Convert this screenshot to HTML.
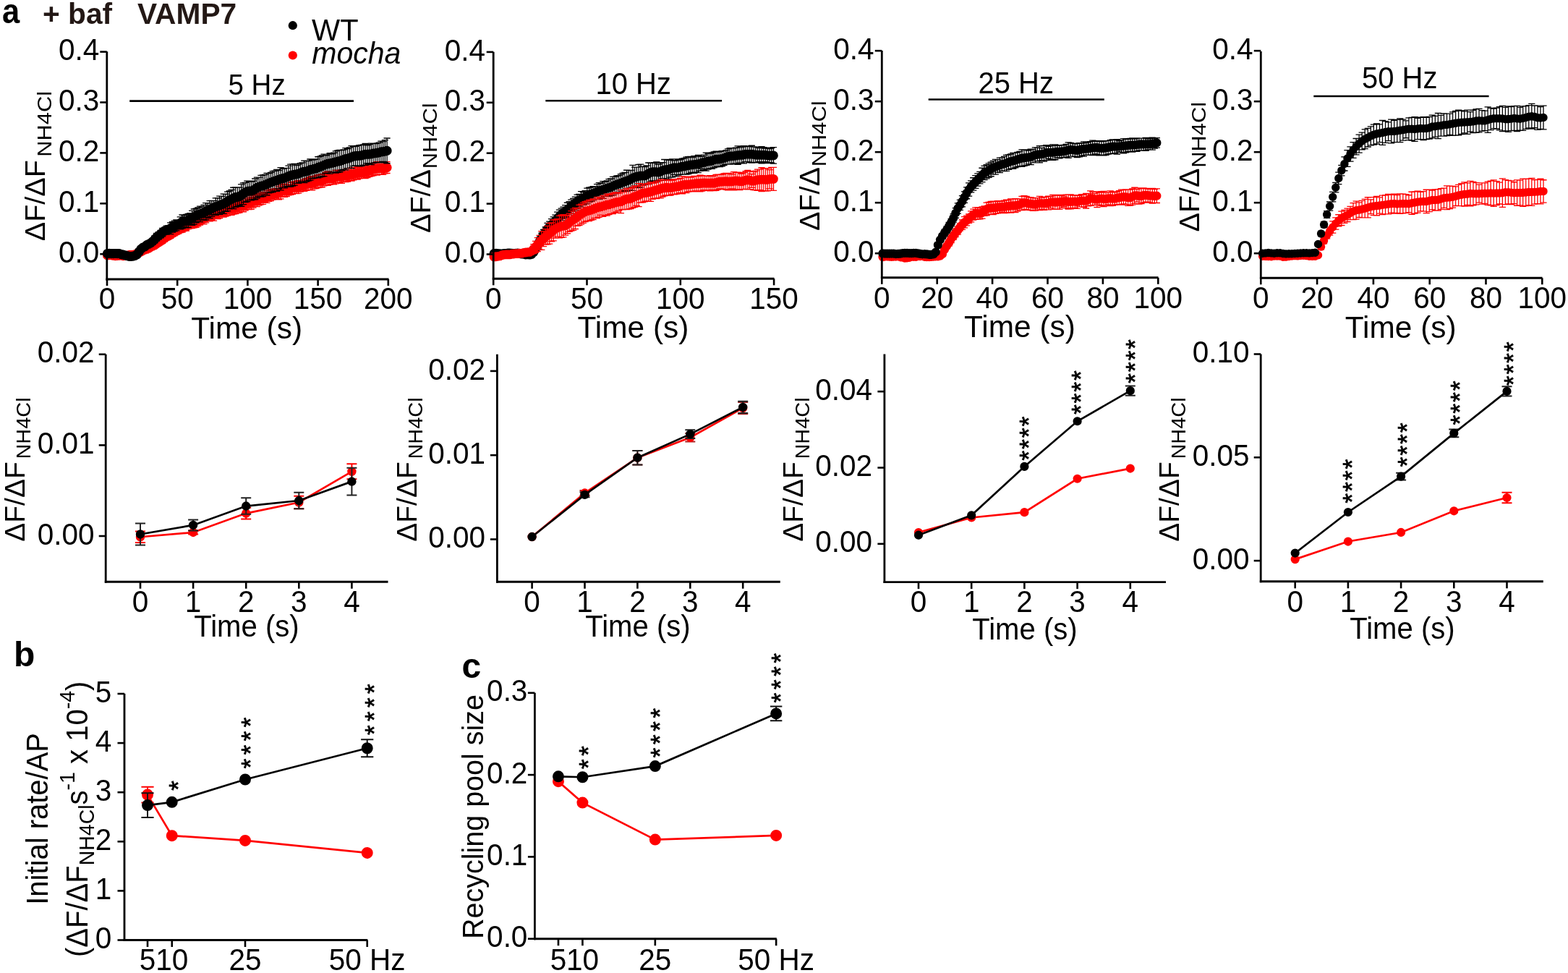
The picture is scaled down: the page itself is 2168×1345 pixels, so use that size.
<!DOCTYPE html>
<html><head><meta charset="utf-8"><title>Figure</title>
<style>html,body{margin:0;padding:0;background:#fff;overflow:hidden}svg{display:block}</style>
</head><body>
<svg width="2168" height="1345" viewBox="0 0 2168 1345"><rect width="2168" height="1345" fill="#fff"/><g font-family="'Liberation Sans', Arial, Helvetica, sans-serif" fill="#000"><text transform="matrix(1 0 0 1.1 3 32.4)" font-size="43.5" font-weight="bold">a</text><text transform="matrix(1 0 0 1.0 59 33)" font-size="40.7" font-weight="bold" fill="#231815">+ baf</text><text transform="matrix(1 0 0 1.0 190 33)" font-size="40.7" font-weight="bold" fill="#231815">VAMP7</text><circle cx="404.8" cy="35.2" r="6.1" fill="#000"/><circle cx="404.8" cy="76.5" r="6.1" fill="#f00"/><text transform="matrix(1 0 0 1.04 431 55.6)" font-size="41.5">WT</text><text transform="matrix(1 0 0 1.04 431.3 87.6)" font-size="41" font-style="italic">mocha</text><path d="M224.79 327.26V335.96M220.19 327.26h9.2M220.19 335.96h9.2M227.51 324.76V333.88M222.91 324.76h9.2M222.91 333.88h9.2M230.23 322.78V331.82M225.63 322.78h9.2M225.63 331.82h9.2M232.95 321.3V330.64M228.35 321.3h9.2M228.35 330.64h9.2M235.67 319.81V329.26M231.07 319.81h9.2M231.07 329.26h9.2M238.4 317.95V327.27M233.8 317.95h9.2M233.8 327.27h9.2M241.12 316V325.82M236.52 316h9.2M236.52 325.82h9.2M243.84 314.51V324.35M239.24 314.51h9.2M239.24 324.35h9.2M246.56 312.36V323.22M241.96 312.36h9.2M241.96 323.22h9.2M249.28 310.87V321.69M244.68 310.87h9.2M244.68 321.69h9.2M252 309.54V321.15M247.4 309.54h9.2M247.4 321.15h9.2M254.73 309.17V319.32M250.13 309.17h9.2M250.13 319.32h9.2M257.45 306.51V318.98M252.85 306.51h9.2M252.85 318.98h9.2M260.17 305.43V316.63M255.57 305.43h9.2M255.57 316.63h9.2M262.89 304.41V315.91M258.29 304.41h9.2M258.29 315.91h9.2M265.61 303.26V315.56M261.01 303.26h9.2M261.01 315.56h9.2M268.33 302.58V314.79M263.73 302.58h9.2M263.73 314.79h9.2M271.06 301V314.35M266.46 301h9.2M266.46 314.35h9.2M273.78 300.08V312.78M269.18 300.08h9.2M269.18 312.78h9.2M276.5 298.63V311.02M271.9 298.63h9.2M271.9 311.02h9.2M279.22 297.01V309.85M274.62 297.01h9.2M274.62 309.85h9.2M281.94 294.4V309.83M277.34 294.4h9.2M277.34 309.83h9.2M284.66 293.66V307.85M280.06 293.66h9.2M280.06 307.85h9.2M287.38 292.86V305.83M282.78 292.86h9.2M282.78 305.83h9.2M290.11 291.27V305.74M285.51 291.27h9.2M285.51 305.74h9.2M292.83 291V303.78M288.23 291h9.2M288.23 303.78h9.2M295.55 288.34V305.17M290.95 288.34h9.2M290.95 305.17h9.2M298.27 289.31V302.36M293.67 289.31h9.2M293.67 302.36h9.2M300.99 286.94V302.5M296.39 286.94h9.2M296.39 302.5h9.2M303.71 285.95V301.71M299.11 285.95h9.2M299.11 301.71h9.2M306.44 286.39V299.86M301.84 286.39h9.2M301.84 299.86h9.2M309.16 284.37V300.11M304.56 284.37h9.2M304.56 300.11h9.2M311.88 282.4V299.15M307.28 282.4h9.2M307.28 299.15h9.2M314.6 281.94V298.2M310 281.94h9.2M310 298.2h9.2M317.32 281.25V297.42M312.72 281.25h9.2M312.72 297.42h9.2M320.04 280.04V297.27M315.44 280.04h9.2M315.44 297.27h9.2M322.77 279.81V296.2M318.17 279.81h9.2M318.17 296.2h9.2M325.49 278.83V295.62M320.89 278.83h9.2M320.89 295.62h9.2M328.21 278.32V294.64M323.61 278.32h9.2M323.61 294.64h9.2M330.93 276.72V294.17M326.33 276.72h9.2M326.33 294.17h9.2M333.65 277.17V292.62M329.05 277.17h9.2M329.05 292.62h9.2M336.37 274.95V292.77M331.77 274.95h9.2M331.77 292.77h9.2M339.1 274.77V290.87M334.5 274.77h9.2M334.5 290.87h9.2M341.82 274.18V289.49M337.22 274.18h9.2M337.22 289.49h9.2M344.54 272.39V289.65M339.94 272.39h9.2M339.94 289.65h9.2M347.26 270.23V289.27M342.66 270.23h9.2M342.66 289.27h9.2M349.98 269.1V287.17M345.38 269.1h9.2M345.38 287.17h9.2M352.7 269.51V285.59M348.1 269.51h9.2M348.1 285.59h9.2M355.42 267.97V285.68M350.82 267.97h9.2M350.82 285.68h9.2M358.15 267.77V283.94M353.55 267.77h9.2M353.55 283.94h9.2M360.87 266.13V282.74M356.27 266.13h9.2M356.27 282.74h9.2M363.59 265.44V282.34M358.99 265.44h9.2M358.99 282.34h9.2M366.31 265.91V279.57M361.71 265.91h9.2M361.71 279.57h9.2M369.03 263.35V280.38M364.43 263.35h9.2M364.43 280.38h9.2M371.75 263.05V278.44M367.15 263.05h9.2M367.15 278.44h9.2M374.48 261.75V277.59M369.88 261.75h9.2M369.88 277.59h9.2M377.2 261.4V276.2M372.6 261.4h9.2M372.6 276.2h9.2M379.92 261.01V275.76M375.32 261.01h9.2M375.32 275.76h9.2M382.64 260.32V275.83M378.04 260.32h9.2M378.04 275.83h9.2M385.36 257.9V275.78M380.76 257.9h9.2M380.76 275.78h9.2M388.08 255.91V274.92M383.48 255.91h9.2M383.48 274.92h9.2M390.81 255.27V272.01M386.21 255.27h9.2M386.21 272.01h9.2M393.53 254.16V272.4M388.93 254.16h9.2M388.93 272.4h9.2M396.25 255.09V271.51M391.65 255.09h9.2M391.65 271.51h9.2M398.97 255.61V269.82M394.37 255.61h9.2M394.37 269.82h9.2M401.69 252.46V269.44M397.09 252.46h9.2M397.09 269.44h9.2M404.41 251.12V268.49M399.81 251.12h9.2M399.81 268.49h9.2M407.14 251.35V267.55M402.54 251.35h9.2M402.54 267.55h9.2M409.86 250.47V267.65M405.26 250.47h9.2M405.26 267.65h9.2M412.58 249.51V267.05M407.98 249.51h9.2M407.98 267.05h9.2M415.3 249.57V265.18M410.7 249.57h9.2M410.7 265.18h9.2M418.02 249.47V264.26M413.42 249.47h9.2M413.42 264.26h9.2M420.74 247.79V264.27M416.14 247.79h9.2M416.14 264.27h9.2M423.46 246.8V263.29M418.86 246.8h9.2M418.86 263.29h9.2M426.19 245.99V262.3M421.59 245.99h9.2M421.59 262.3h9.2M428.91 244.55V262.66M424.31 244.55h9.2M424.31 262.66h9.2M431.63 243.76V262.85M427.03 243.76h9.2M427.03 262.85h9.2M434.35 244.68V260.9M429.75 244.68h9.2M429.75 260.9h9.2M437.07 242.82V260.53M432.47 242.82h9.2M432.47 260.53h9.2M439.79 241.56V259.59M435.19 241.56h9.2M435.19 259.59h9.2M442.52 241.39V259.13M437.92 241.39h9.2M437.92 259.13h9.2M445.24 240.58V258.77M440.64 240.58h9.2M440.64 258.77h9.2M447.96 240.49V256.74M443.36 240.49h9.2M443.36 256.74h9.2M450.68 238.27V256.04M446.08 238.27h9.2M446.08 256.04h9.2M453.4 236.98V256.47M448.8 236.98h9.2M448.8 256.47h9.2M456.12 237.62V255.47M451.52 237.62h9.2M451.52 255.47h9.2M458.85 238.92V254.87M454.25 238.92h9.2M454.25 254.87h9.2M461.57 237.3V254.89M456.97 237.3h9.2M456.97 254.89h9.2M464.29 235.32V253.79M459.69 235.32h9.2M459.69 253.79h9.2M467.01 235.13V252.4M462.41 235.13h9.2M462.41 252.4h9.2M469.73 236.02V252.04M465.13 236.02h9.2M465.13 252.04h9.2M472.45 234.59V253.44M467.85 234.59h9.2M467.85 253.44h9.2M475.18 235.87V250.97M470.58 235.87h9.2M470.58 250.97h9.2M477.9 234.22V251.67M473.3 234.22h9.2M473.3 251.67h9.2M480.62 234.27V251.02M476.02 234.27h9.2M476.02 251.02h9.2M483.34 234.31V249.48M478.74 234.31h9.2M478.74 249.48h9.2M486.06 231.79V250.2M481.46 231.79h9.2M481.46 250.2h9.2M488.78 231.68V248.92M484.18 231.68h9.2M484.18 248.92h9.2M491.5 232.06V247.27M486.9 232.06h9.2M486.9 247.27h9.2M494.23 230.61V248.19M489.63 230.61h9.2M489.63 248.19h9.2M496.95 230.74V246.94M492.35 230.74h9.2M492.35 246.94h9.2M499.67 231.83V246.05M495.07 231.83h9.2M495.07 246.05h9.2M502.39 230.85V246.7M497.79 230.85h9.2M497.79 246.7h9.2M505.11 229.41V246.54M500.51 229.41h9.2M500.51 246.54h9.2M507.83 227.95V245.58M503.23 227.95h9.2M503.23 245.58h9.2M510.56 227.26V244.26M505.96 227.26h9.2M505.96 244.26h9.2M513.28 226.71V243.55M508.68 226.71h9.2M508.68 243.55h9.2M516 225.38V242.78M511.4 225.38h9.2M511.4 242.78h9.2M518.72 225.17V241.66M514.12 225.17h9.2M514.12 241.66h9.2M521.44 223.64V241.99M516.84 223.64h9.2M516.84 241.99h9.2M524.16 224.16V241.14M519.56 224.16h9.2M519.56 241.14h9.2M526.89 224.04V241.21M522.29 224.04h9.2M522.29 241.21h9.2M529.61 223.88V241.38M525.01 223.88h9.2M525.01 241.38h9.2M532.33 224.58V239.94M527.73 224.58h9.2M527.73 239.94h9.2M535.05 223.69V239.52M530.45 223.69h9.2M530.45 239.52h9.2" stroke="#f00" stroke-width="1.3" fill="none"/><path d="M141.98 352.94a6.6 6.6 0 1 0 13.2 0a6.6 6.6 0 1 0 -13.2 0M144.7 352.52a6.6 6.6 0 1 0 13.2 0a6.6 6.6 0 1 0 -13.2 0M147.43 352.67a6.6 6.6 0 1 0 13.2 0a6.6 6.6 0 1 0 -13.2 0M150.15 353.24a6.6 6.6 0 1 0 13.2 0a6.6 6.6 0 1 0 -13.2 0M152.87 353.66a6.6 6.6 0 1 0 13.2 0a6.6 6.6 0 1 0 -13.2 0M155.59 353.41a6.6 6.6 0 1 0 13.2 0a6.6 6.6 0 1 0 -13.2 0M158.31 353.25a6.6 6.6 0 1 0 13.2 0a6.6 6.6 0 1 0 -13.2 0M161.03 352.98a6.6 6.6 0 1 0 13.2 0a6.6 6.6 0 1 0 -13.2 0M163.76 353.53a6.6 6.6 0 1 0 13.2 0a6.6 6.6 0 1 0 -13.2 0M166.48 353.33a6.6 6.6 0 1 0 13.2 0a6.6 6.6 0 1 0 -13.2 0M169.2 353.25a6.6 6.6 0 1 0 13.2 0a6.6 6.6 0 1 0 -13.2 0M171.92 352.6a6.6 6.6 0 1 0 13.2 0a6.6 6.6 0 1 0 -13.2 0M174.64 352.66a6.6 6.6 0 1 0 13.2 0a6.6 6.6 0 1 0 -13.2 0M177.36 352.42a6.6 6.6 0 1 0 13.2 0a6.6 6.6 0 1 0 -13.2 0M180.09 351.88a6.6 6.6 0 1 0 13.2 0a6.6 6.6 0 1 0 -13.2 0M182.81 350.72a6.6 6.6 0 1 0 13.2 0a6.6 6.6 0 1 0 -13.2 0M185.53 349.3a6.6 6.6 0 1 0 13.2 0a6.6 6.6 0 1 0 -13.2 0M188.25 347.9a6.6 6.6 0 1 0 13.2 0a6.6 6.6 0 1 0 -13.2 0M190.97 346.43a6.6 6.6 0 1 0 13.2 0a6.6 6.6 0 1 0 -13.2 0M193.69 345.15a6.6 6.6 0 1 0 13.2 0a6.6 6.6 0 1 0 -13.2 0M196.42 344.27a6.6 6.6 0 1 0 13.2 0a6.6 6.6 0 1 0 -13.2 0M199.14 343.03a6.6 6.6 0 1 0 13.2 0a6.6 6.6 0 1 0 -13.2 0M201.86 341.4a6.6 6.6 0 1 0 13.2 0a6.6 6.6 0 1 0 -13.2 0M204.58 340.07a6.6 6.6 0 1 0 13.2 0a6.6 6.6 0 1 0 -13.2 0M207.3 338.83a6.6 6.6 0 1 0 13.2 0a6.6 6.6 0 1 0 -13.2 0M210.02 336.95a6.6 6.6 0 1 0 13.2 0a6.6 6.6 0 1 0 -13.2 0M212.74 334.96a6.6 6.6 0 1 0 13.2 0a6.6 6.6 0 1 0 -13.2 0M215.47 333.42a6.6 6.6 0 1 0 13.2 0a6.6 6.6 0 1 0 -13.2 0M218.19 331.61a6.6 6.6 0 1 0 13.2 0a6.6 6.6 0 1 0 -13.2 0M220.91 329.32a6.6 6.6 0 1 0 13.2 0a6.6 6.6 0 1 0 -13.2 0M223.63 327.3a6.6 6.6 0 1 0 13.2 0a6.6 6.6 0 1 0 -13.2 0M226.35 325.97a6.6 6.6 0 1 0 13.2 0a6.6 6.6 0 1 0 -13.2 0M229.07 324.53a6.6 6.6 0 1 0 13.2 0a6.6 6.6 0 1 0 -13.2 0M231.8 322.61a6.6 6.6 0 1 0 13.2 0a6.6 6.6 0 1 0 -13.2 0M234.52 320.91a6.6 6.6 0 1 0 13.2 0a6.6 6.6 0 1 0 -13.2 0M237.24 319.43a6.6 6.6 0 1 0 13.2 0a6.6 6.6 0 1 0 -13.2 0M239.96 317.79a6.6 6.6 0 1 0 13.2 0a6.6 6.6 0 1 0 -13.2 0M242.68 316.28a6.6 6.6 0 1 0 13.2 0a6.6 6.6 0 1 0 -13.2 0M245.4 315.34a6.6 6.6 0 1 0 13.2 0a6.6 6.6 0 1 0 -13.2 0M248.13 314.24a6.6 6.6 0 1 0 13.2 0a6.6 6.6 0 1 0 -13.2 0M250.85 312.75a6.6 6.6 0 1 0 13.2 0a6.6 6.6 0 1 0 -13.2 0M253.57 311.03a6.6 6.6 0 1 0 13.2 0a6.6 6.6 0 1 0 -13.2 0M256.29 310.16a6.6 6.6 0 1 0 13.2 0a6.6 6.6 0 1 0 -13.2 0M259.01 309.41a6.6 6.6 0 1 0 13.2 0a6.6 6.6 0 1 0 -13.2 0M261.73 308.69a6.6 6.6 0 1 0 13.2 0a6.6 6.6 0 1 0 -13.2 0M264.46 307.68a6.6 6.6 0 1 0 13.2 0a6.6 6.6 0 1 0 -13.2 0M267.18 306.43a6.6 6.6 0 1 0 13.2 0a6.6 6.6 0 1 0 -13.2 0M269.9 304.82a6.6 6.6 0 1 0 13.2 0a6.6 6.6 0 1 0 -13.2 0M272.62 303.43a6.6 6.6 0 1 0 13.2 0a6.6 6.6 0 1 0 -13.2 0M275.34 302.12a6.6 6.6 0 1 0 13.2 0a6.6 6.6 0 1 0 -13.2 0M278.06 300.75a6.6 6.6 0 1 0 13.2 0a6.6 6.6 0 1 0 -13.2 0M280.78 299.35a6.6 6.6 0 1 0 13.2 0a6.6 6.6 0 1 0 -13.2 0M283.51 298.5a6.6 6.6 0 1 0 13.2 0a6.6 6.6 0 1 0 -13.2 0M286.23 297.39a6.6 6.6 0 1 0 13.2 0a6.6 6.6 0 1 0 -13.2 0M288.95 296.76a6.6 6.6 0 1 0 13.2 0a6.6 6.6 0 1 0 -13.2 0M291.67 295.83a6.6 6.6 0 1 0 13.2 0a6.6 6.6 0 1 0 -13.2 0M294.39 294.72a6.6 6.6 0 1 0 13.2 0a6.6 6.6 0 1 0 -13.2 0M297.11 293.83a6.6 6.6 0 1 0 13.2 0a6.6 6.6 0 1 0 -13.2 0M299.84 293.13a6.6 6.6 0 1 0 13.2 0a6.6 6.6 0 1 0 -13.2 0M302.56 292.24a6.6 6.6 0 1 0 13.2 0a6.6 6.6 0 1 0 -13.2 0M305.28 290.78a6.6 6.6 0 1 0 13.2 0a6.6 6.6 0 1 0 -13.2 0M308 290.07a6.6 6.6 0 1 0 13.2 0a6.6 6.6 0 1 0 -13.2 0M310.72 289.33a6.6 6.6 0 1 0 13.2 0a6.6 6.6 0 1 0 -13.2 0M313.44 288.66a6.6 6.6 0 1 0 13.2 0a6.6 6.6 0 1 0 -13.2 0M316.17 288a6.6 6.6 0 1 0 13.2 0a6.6 6.6 0 1 0 -13.2 0M318.89 287.22a6.6 6.6 0 1 0 13.2 0a6.6 6.6 0 1 0 -13.2 0M321.61 286.48a6.6 6.6 0 1 0 13.2 0a6.6 6.6 0 1 0 -13.2 0M324.33 285.44a6.6 6.6 0 1 0 13.2 0a6.6 6.6 0 1 0 -13.2 0M327.05 284.89a6.6 6.6 0 1 0 13.2 0a6.6 6.6 0 1 0 -13.2 0M329.77 283.86a6.6 6.6 0 1 0 13.2 0a6.6 6.6 0 1 0 -13.2 0M332.5 282.82a6.6 6.6 0 1 0 13.2 0a6.6 6.6 0 1 0 -13.2 0M335.22 281.83a6.6 6.6 0 1 0 13.2 0a6.6 6.6 0 1 0 -13.2 0M337.94 281.02a6.6 6.6 0 1 0 13.2 0a6.6 6.6 0 1 0 -13.2 0M340.66 279.75a6.6 6.6 0 1 0 13.2 0a6.6 6.6 0 1 0 -13.2 0M343.38 278.13a6.6 6.6 0 1 0 13.2 0a6.6 6.6 0 1 0 -13.2 0M346.1 277.55a6.6 6.6 0 1 0 13.2 0a6.6 6.6 0 1 0 -13.2 0M348.82 276.83a6.6 6.6 0 1 0 13.2 0a6.6 6.6 0 1 0 -13.2 0M351.55 275.85a6.6 6.6 0 1 0 13.2 0a6.6 6.6 0 1 0 -13.2 0M354.27 274.43a6.6 6.6 0 1 0 13.2 0a6.6 6.6 0 1 0 -13.2 0M356.99 273.89a6.6 6.6 0 1 0 13.2 0a6.6 6.6 0 1 0 -13.2 0M359.71 272.74a6.6 6.6 0 1 0 13.2 0a6.6 6.6 0 1 0 -13.2 0M362.43 271.87a6.6 6.6 0 1 0 13.2 0a6.6 6.6 0 1 0 -13.2 0M365.15 270.75a6.6 6.6 0 1 0 13.2 0a6.6 6.6 0 1 0 -13.2 0M367.88 269.67a6.6 6.6 0 1 0 13.2 0a6.6 6.6 0 1 0 -13.2 0M370.6 268.8a6.6 6.6 0 1 0 13.2 0a6.6 6.6 0 1 0 -13.2 0M373.32 268.38a6.6 6.6 0 1 0 13.2 0a6.6 6.6 0 1 0 -13.2 0M376.04 268.07a6.6 6.6 0 1 0 13.2 0a6.6 6.6 0 1 0 -13.2 0M378.76 266.84a6.6 6.6 0 1 0 13.2 0a6.6 6.6 0 1 0 -13.2 0M381.48 265.41a6.6 6.6 0 1 0 13.2 0a6.6 6.6 0 1 0 -13.2 0M384.21 263.64a6.6 6.6 0 1 0 13.2 0a6.6 6.6 0 1 0 -13.2 0M386.93 263.28a6.6 6.6 0 1 0 13.2 0a6.6 6.6 0 1 0 -13.2 0M389.65 263.3a6.6 6.6 0 1 0 13.2 0a6.6 6.6 0 1 0 -13.2 0M392.37 262.72a6.6 6.6 0 1 0 13.2 0a6.6 6.6 0 1 0 -13.2 0M395.09 260.95a6.6 6.6 0 1 0 13.2 0a6.6 6.6 0 1 0 -13.2 0M397.81 259.81a6.6 6.6 0 1 0 13.2 0a6.6 6.6 0 1 0 -13.2 0M400.54 259.45a6.6 6.6 0 1 0 13.2 0a6.6 6.6 0 1 0 -13.2 0M403.26 259.06a6.6 6.6 0 1 0 13.2 0a6.6 6.6 0 1 0 -13.2 0M405.98 258.28a6.6 6.6 0 1 0 13.2 0a6.6 6.6 0 1 0 -13.2 0M408.7 257.37a6.6 6.6 0 1 0 13.2 0a6.6 6.6 0 1 0 -13.2 0M411.42 256.86a6.6 6.6 0 1 0 13.2 0a6.6 6.6 0 1 0 -13.2 0M414.14 256.03a6.6 6.6 0 1 0 13.2 0a6.6 6.6 0 1 0 -13.2 0M416.86 255.05a6.6 6.6 0 1 0 13.2 0a6.6 6.6 0 1 0 -13.2 0M419.59 254.15a6.6 6.6 0 1 0 13.2 0a6.6 6.6 0 1 0 -13.2 0M422.31 253.6a6.6 6.6 0 1 0 13.2 0a6.6 6.6 0 1 0 -13.2 0M425.03 253.31a6.6 6.6 0 1 0 13.2 0a6.6 6.6 0 1 0 -13.2 0M427.75 252.79a6.6 6.6 0 1 0 13.2 0a6.6 6.6 0 1 0 -13.2 0M430.47 251.67a6.6 6.6 0 1 0 13.2 0a6.6 6.6 0 1 0 -13.2 0M433.19 250.57a6.6 6.6 0 1 0 13.2 0a6.6 6.6 0 1 0 -13.2 0M435.92 250.26a6.6 6.6 0 1 0 13.2 0a6.6 6.6 0 1 0 -13.2 0M438.64 249.68a6.6 6.6 0 1 0 13.2 0a6.6 6.6 0 1 0 -13.2 0M441.36 248.62a6.6 6.6 0 1 0 13.2 0a6.6 6.6 0 1 0 -13.2 0M444.08 247.16a6.6 6.6 0 1 0 13.2 0a6.6 6.6 0 1 0 -13.2 0M446.8 246.73a6.6 6.6 0 1 0 13.2 0a6.6 6.6 0 1 0 -13.2 0M449.52 246.54a6.6 6.6 0 1 0 13.2 0a6.6 6.6 0 1 0 -13.2 0M452.25 246.89a6.6 6.6 0 1 0 13.2 0a6.6 6.6 0 1 0 -13.2 0M454.97 246.09a6.6 6.6 0 1 0 13.2 0a6.6 6.6 0 1 0 -13.2 0M457.69 244.55a6.6 6.6 0 1 0 13.2 0a6.6 6.6 0 1 0 -13.2 0M460.41 243.76a6.6 6.6 0 1 0 13.2 0a6.6 6.6 0 1 0 -13.2 0M463.13 244.03a6.6 6.6 0 1 0 13.2 0a6.6 6.6 0 1 0 -13.2 0M465.85 244.01a6.6 6.6 0 1 0 13.2 0a6.6 6.6 0 1 0 -13.2 0M468.58 243.42a6.6 6.6 0 1 0 13.2 0a6.6 6.6 0 1 0 -13.2 0M471.3 242.95a6.6 6.6 0 1 0 13.2 0a6.6 6.6 0 1 0 -13.2 0M474.02 242.65a6.6 6.6 0 1 0 13.2 0a6.6 6.6 0 1 0 -13.2 0M476.74 241.89a6.6 6.6 0 1 0 13.2 0a6.6 6.6 0 1 0 -13.2 0M479.46 240.99a6.6 6.6 0 1 0 13.2 0a6.6 6.6 0 1 0 -13.2 0M482.18 240.3a6.6 6.6 0 1 0 13.2 0a6.6 6.6 0 1 0 -13.2 0M484.9 239.66a6.6 6.6 0 1 0 13.2 0a6.6 6.6 0 1 0 -13.2 0M487.63 239.4a6.6 6.6 0 1 0 13.2 0a6.6 6.6 0 1 0 -13.2 0M490.35 238.84a6.6 6.6 0 1 0 13.2 0a6.6 6.6 0 1 0 -13.2 0M493.07 238.94a6.6 6.6 0 1 0 13.2 0a6.6 6.6 0 1 0 -13.2 0M495.79 238.78a6.6 6.6 0 1 0 13.2 0a6.6 6.6 0 1 0 -13.2 0M498.51 237.97a6.6 6.6 0 1 0 13.2 0a6.6 6.6 0 1 0 -13.2 0M501.23 236.77a6.6 6.6 0 1 0 13.2 0a6.6 6.6 0 1 0 -13.2 0M503.96 235.76a6.6 6.6 0 1 0 13.2 0a6.6 6.6 0 1 0 -13.2 0M506.68 235.13a6.6 6.6 0 1 0 13.2 0a6.6 6.6 0 1 0 -13.2 0M509.4 234.08a6.6 6.6 0 1 0 13.2 0a6.6 6.6 0 1 0 -13.2 0M512.12 233.42a6.6 6.6 0 1 0 13.2 0a6.6 6.6 0 1 0 -13.2 0M514.84 232.81a6.6 6.6 0 1 0 13.2 0a6.6 6.6 0 1 0 -13.2 0M517.56 232.65a6.6 6.6 0 1 0 13.2 0a6.6 6.6 0 1 0 -13.2 0M520.29 232.62a6.6 6.6 0 1 0 13.2 0a6.6 6.6 0 1 0 -13.2 0M523.01 232.63a6.6 6.6 0 1 0 13.2 0a6.6 6.6 0 1 0 -13.2 0M525.73 232.26a6.6 6.6 0 1 0 13.2 0a6.6 6.6 0 1 0 -13.2 0M528.45 231.61a6.6 6.6 0 1 0 13.2 0a6.6 6.6 0 1 0 -13.2 0" fill="#f00"/><path d="M205.74 333.22V341.45M201.14 333.22h9.2M201.14 341.45h9.2M208.46 331.88V339.83M203.86 331.88h9.2M203.86 339.83h9.2M211.18 329.54V337.85M206.58 329.54h9.2M206.58 337.85h9.2M213.9 326.02V335.73M209.3 326.02h9.2M209.3 335.73h9.2M216.62 322.52V333.21M212.02 322.52h9.2M212.02 333.21h9.2M219.34 320.61V330.75M214.74 320.61h9.2M214.74 330.75h9.2M222.07 318.43V328.74M217.47 318.43h9.2M217.47 328.74h9.2M224.79 315.42V326.92M220.19 315.42h9.2M220.19 326.92h9.2M227.51 314.32V324.11M222.91 314.32h9.2M222.91 324.11h9.2M230.23 312.15V324.21M225.63 312.15h9.2M225.63 324.21h9.2M232.95 311.62V323.2M228.35 311.62h9.2M228.35 323.2h9.2M235.67 307.83V323.61M231.07 307.83h9.2M231.07 323.61h9.2M238.4 306.59V321.22M233.8 306.59h9.2M233.8 321.22h9.2M241.12 305.16V319.76M236.52 305.16h9.2M236.52 319.76h9.2M243.84 304.02V318.8M239.24 304.02h9.2M239.24 318.8h9.2M246.56 304.14V316.59M241.96 304.14h9.2M241.96 316.59h9.2M249.28 299.86V316.89M244.68 299.86h9.2M244.68 316.89h9.2M252 296.99V315.76M247.4 296.99h9.2M247.4 315.76h9.2M254.73 297.9V313.97M250.13 297.9h9.2M250.13 313.97h9.2M257.45 296.47V314.92M252.85 296.47h9.2M252.85 314.92h9.2M260.17 295.29V314.24M255.57 295.29h9.2M255.57 314.24h9.2M262.89 294.72V310.75M258.29 294.72h9.2M258.29 310.75h9.2M265.61 291.36V311.44M261.01 291.36h9.2M261.01 311.44h9.2M268.33 288.99V310.11M263.73 288.99h9.2M263.73 310.11h9.2M271.06 288.2V307.97M266.46 288.2h9.2M266.46 307.97h9.2M273.78 286.84V306.53M269.18 286.84h9.2M269.18 306.53h9.2M276.5 285.19V306.62M271.9 285.19h9.2M271.9 306.62h9.2M279.22 285.96V303.97M274.62 285.96h9.2M274.62 303.97h9.2M281.94 283.31V304.4M277.34 283.31h9.2M277.34 304.4h9.2M284.66 280.67V303.83M280.06 280.67h9.2M280.06 303.83h9.2M287.38 280.9V300.52M282.78 280.9h9.2M282.78 300.52h9.2M290.11 277.61V301.62M285.51 277.61h9.2M285.51 301.62h9.2M292.83 277.39V299.31M288.23 277.39h9.2M288.23 299.31h9.2M295.55 277.31V296.59M290.95 277.31h9.2M290.95 296.59h9.2M298.27 273.93V297.31M293.67 273.93h9.2M293.67 297.31h9.2M300.99 273.75V295.89M296.39 273.75h9.2M296.39 295.89h9.2M303.71 271.22V296.26M299.11 271.22h9.2M299.11 296.26h9.2M306.44 271.3V293.77M301.84 271.3h9.2M301.84 293.77h9.2M309.16 268.12V295.38M304.56 268.12h9.2M304.56 295.38h9.2M311.88 268.27V292.24M307.28 268.27h9.2M307.28 292.24h9.2M314.6 265.08V291.64M310 265.08h9.2M310 291.64h9.2M317.32 264.02V288.95M312.72 264.02h9.2M312.72 288.95h9.2M320.04 262.37V288.21M315.44 262.37h9.2M315.44 288.21h9.2M322.77 259.26V288.68M318.17 259.26h9.2M318.17 288.68h9.2M325.49 258.82V286.46M320.89 258.82h9.2M320.89 286.46h9.2M328.21 259.01V285.59M323.61 259.01h9.2M323.61 285.59h9.2M330.93 259.04V283.93M326.33 259.04h9.2M326.33 283.93h9.2M333.65 254.83V285.25M329.05 254.83h9.2M329.05 285.25h9.2M336.37 252.95V282.53M331.77 252.95h9.2M331.77 282.53h9.2M339.1 252.31V279.54M334.5 252.31h9.2M334.5 279.54h9.2M341.82 250.22V278.73M337.22 250.22h9.2M337.22 278.73h9.2M344.54 251.17V276.82M339.94 251.17h9.2M339.94 276.82h9.2M347.26 251.17V276.86M342.66 251.17h9.2M342.66 276.86h9.2M349.98 250.05V276.17M345.38 250.05h9.2M345.38 276.17h9.2M352.7 247V275.76M348.1 247h9.2M348.1 275.76h9.2M355.42 245.13V273.75M350.82 245.13h9.2M350.82 273.75h9.2M358.15 245.22V271.52M353.55 245.22h9.2M353.55 271.52h9.2M360.87 242.46V272.07M356.27 242.46h9.2M356.27 272.07h9.2M363.59 241.88V271.6M358.99 241.88h9.2M358.99 271.6h9.2M366.31 241.47V269.82M361.71 241.47h9.2M361.71 269.82h9.2M369.03 239.46V269.74M364.43 239.46h9.2M364.43 269.74h9.2M371.75 239.53V266.85M367.15 239.53h9.2M367.15 266.85h9.2M374.48 238.28V265.99M369.88 238.28h9.2M369.88 265.99h9.2M377.2 236.57V265.59M372.6 236.57h9.2M372.6 265.59h9.2M379.92 236.25V264.14M375.32 236.25h9.2M375.32 264.14h9.2M382.64 234.49V264.23M378.04 234.49h9.2M378.04 264.23h9.2M385.36 235.68V260.84M380.76 235.68h9.2M380.76 260.84h9.2M388.08 231.68V262.83M383.48 231.68h9.2M383.48 262.83h9.2M390.81 233.42V259.63M386.21 233.42h9.2M386.21 259.63h9.2M393.53 232.28V259.87M388.93 232.28h9.2M388.93 259.87h9.2M396.25 232.45V257.33M391.65 232.45h9.2M391.65 257.33h9.2M398.97 229.06V258.36M394.37 229.06h9.2M394.37 258.36h9.2M401.69 227.18V257.99M397.09 227.18h9.2M397.09 257.99h9.2M404.41 226.78V257.14M399.81 226.78h9.2M399.81 257.14h9.2M407.14 226.36V256.18M402.54 226.36h9.2M402.54 256.18h9.2M409.86 228.69V253.17M405.26 228.69h9.2M405.26 253.17h9.2M412.58 227.07V253.28M407.98 227.07h9.2M407.98 253.28h9.2M415.3 225.59V252.51M410.7 225.59h9.2M410.7 252.51h9.2M418.02 224.92V250.79M413.42 224.92h9.2M413.42 250.79h9.2M420.74 222.1V252.57M416.14 222.1h9.2M416.14 252.57h9.2M423.46 222.69V251.06M418.86 222.69h9.2M418.86 251.06h9.2M426.19 222.2V250.11M421.59 222.2h9.2M421.59 250.11h9.2M428.91 220.02V249.07M424.31 220.02h9.2M424.31 249.07h9.2M431.63 221.08V246.92M427.03 221.08h9.2M427.03 246.92h9.2M434.35 220.38V246.31M429.75 220.38h9.2M429.75 246.31h9.2M437.07 219.79V245.78M432.47 219.79h9.2M432.47 245.78h9.2M439.79 216.76V245.83M435.19 216.76h9.2M435.19 245.83h9.2M442.52 216.22V244.95M437.92 216.22h9.2M437.92 244.95h9.2M445.24 214.95V244.2M440.64 214.95h9.2M440.64 244.2h9.2M447.96 213.17V243.55M443.36 213.17h9.2M443.36 243.55h9.2M450.68 214.74V239.66M446.08 214.74h9.2M446.08 239.66h9.2M453.4 213.09V239.8M448.8 213.09h9.2M448.8 239.8h9.2M456.12 211.77V240.06M451.52 211.77h9.2M451.52 240.06h9.2M458.85 212.92V237.86M454.25 212.92h9.2M454.25 237.86h9.2M461.57 211.27V238.04M456.97 211.27h9.2M456.97 238.04h9.2M464.29 208.78V239.01M459.69 208.78h9.2M459.69 239.01h9.2M467.01 207.96V238.39M462.41 207.96h9.2M462.41 238.39h9.2M469.73 207.39V237.76M465.13 207.39h9.2M465.13 237.76h9.2M472.45 207.69V235.75M467.85 207.69h9.2M467.85 235.75h9.2M475.18 206.82V234.31M470.58 206.82h9.2M470.58 234.31h9.2M477.9 204.53V234.91M473.3 204.53h9.2M473.3 234.91h9.2M480.62 205.55V232.68M476.02 205.55h9.2M476.02 232.68h9.2M483.34 203.9V232.61M478.74 203.9h9.2M478.74 232.61h9.2M486.06 201.67V232.59M481.46 201.67h9.2M481.46 232.59h9.2M488.78 202.48V229.62M484.18 202.48h9.2M484.18 229.62h9.2M491.5 202.3V228.89M486.9 202.3h9.2M486.9 228.89h9.2M494.23 201.35V229.3M489.63 201.35h9.2M489.63 229.3h9.2M496.95 200.54V229.93M492.35 200.54h9.2M492.35 229.93h9.2M499.67 200.31V229.56M495.07 200.31h9.2M495.07 229.56h9.2M502.39 199.79V228.46M497.79 199.79h9.2M497.79 228.46h9.2M505.11 198.5V228.25M500.51 198.5h9.2M500.51 228.25h9.2M507.83 200.74V225.75M503.23 200.74h9.2M503.23 225.75h9.2M510.56 199.68V226.57M505.96 199.68h9.2M505.96 226.57h9.2M513.28 198.16V227.62M508.68 198.16h9.2M508.68 227.62h9.2M516 198.55V225.64M511.4 198.55h9.2M511.4 225.64h9.2M518.72 198.61V224.89M514.12 198.61h9.2M514.12 224.89h9.2M521.44 197.95V224.71M516.84 197.95h9.2M516.84 224.71h9.2M524.16 197.04V224.66M519.56 197.04h9.2M519.56 224.66h9.2M526.89 195.17V224.74M522.29 195.17h9.2M522.29 224.74h9.2M529.61 195.72V223.45M525.01 195.72h9.2M525.01 223.45h9.2M532.33 193.59V224.57M527.73 193.59h9.2M527.73 224.57h9.2M535.05 190.99V225.76M530.45 190.99h9.2M530.45 225.76h9.2" stroke="#000" stroke-width="1.3" fill="none"/><path d="M141.98 350.53a6.6 6.6 0 1 0 13.2 0a6.6 6.6 0 1 0 -13.2 0M144.7 350.42a6.6 6.6 0 1 0 13.2 0a6.6 6.6 0 1 0 -13.2 0M147.43 350.59a6.6 6.6 0 1 0 13.2 0a6.6 6.6 0 1 0 -13.2 0M150.15 350.64a6.6 6.6 0 1 0 13.2 0a6.6 6.6 0 1 0 -13.2 0M152.87 350.52a6.6 6.6 0 1 0 13.2 0a6.6 6.6 0 1 0 -13.2 0M155.59 350.7a6.6 6.6 0 1 0 13.2 0a6.6 6.6 0 1 0 -13.2 0M158.31 350.67a6.6 6.6 0 1 0 13.2 0a6.6 6.6 0 1 0 -13.2 0M161.03 351.64a6.6 6.6 0 1 0 13.2 0a6.6 6.6 0 1 0 -13.2 0M163.76 352.16a6.6 6.6 0 1 0 13.2 0a6.6 6.6 0 1 0 -13.2 0M166.48 352.95a6.6 6.6 0 1 0 13.2 0a6.6 6.6 0 1 0 -13.2 0M169.2 353.61a6.6 6.6 0 1 0 13.2 0a6.6 6.6 0 1 0 -13.2 0M171.92 354.42a6.6 6.6 0 1 0 13.2 0a6.6 6.6 0 1 0 -13.2 0M174.64 354.51a6.6 6.6 0 1 0 13.2 0a6.6 6.6 0 1 0 -13.2 0M177.36 354.05a6.6 6.6 0 1 0 13.2 0a6.6 6.6 0 1 0 -13.2 0M180.09 353.32a6.6 6.6 0 1 0 13.2 0a6.6 6.6 0 1 0 -13.2 0M182.81 351.78a6.6 6.6 0 1 0 13.2 0a6.6 6.6 0 1 0 -13.2 0M185.53 348.02a6.6 6.6 0 1 0 13.2 0a6.6 6.6 0 1 0 -13.2 0M188.25 344.36a6.6 6.6 0 1 0 13.2 0a6.6 6.6 0 1 0 -13.2 0M190.97 342.11a6.6 6.6 0 1 0 13.2 0a6.6 6.6 0 1 0 -13.2 0M193.69 340.86a6.6 6.6 0 1 0 13.2 0a6.6 6.6 0 1 0 -13.2 0M196.42 338.65a6.6 6.6 0 1 0 13.2 0a6.6 6.6 0 1 0 -13.2 0M199.14 337.34a6.6 6.6 0 1 0 13.2 0a6.6 6.6 0 1 0 -13.2 0M201.86 335.86a6.6 6.6 0 1 0 13.2 0a6.6 6.6 0 1 0 -13.2 0M204.58 333.7a6.6 6.6 0 1 0 13.2 0a6.6 6.6 0 1 0 -13.2 0M207.3 330.87a6.6 6.6 0 1 0 13.2 0a6.6 6.6 0 1 0 -13.2 0M210.02 327.87a6.6 6.6 0 1 0 13.2 0a6.6 6.6 0 1 0 -13.2 0M212.74 325.68a6.6 6.6 0 1 0 13.2 0a6.6 6.6 0 1 0 -13.2 0M215.47 323.58a6.6 6.6 0 1 0 13.2 0a6.6 6.6 0 1 0 -13.2 0M218.19 321.17a6.6 6.6 0 1 0 13.2 0a6.6 6.6 0 1 0 -13.2 0M220.91 319.22a6.6 6.6 0 1 0 13.2 0a6.6 6.6 0 1 0 -13.2 0M223.63 318.18a6.6 6.6 0 1 0 13.2 0a6.6 6.6 0 1 0 -13.2 0M226.35 317.41a6.6 6.6 0 1 0 13.2 0a6.6 6.6 0 1 0 -13.2 0M229.07 315.72a6.6 6.6 0 1 0 13.2 0a6.6 6.6 0 1 0 -13.2 0M231.8 313.9a6.6 6.6 0 1 0 13.2 0a6.6 6.6 0 1 0 -13.2 0M234.52 312.46a6.6 6.6 0 1 0 13.2 0a6.6 6.6 0 1 0 -13.2 0M237.24 311.41a6.6 6.6 0 1 0 13.2 0a6.6 6.6 0 1 0 -13.2 0M239.96 310.36a6.6 6.6 0 1 0 13.2 0a6.6 6.6 0 1 0 -13.2 0M242.68 308.38a6.6 6.6 0 1 0 13.2 0a6.6 6.6 0 1 0 -13.2 0M245.4 306.37a6.6 6.6 0 1 0 13.2 0a6.6 6.6 0 1 0 -13.2 0M248.13 305.93a6.6 6.6 0 1 0 13.2 0a6.6 6.6 0 1 0 -13.2 0M250.85 305.7a6.6 6.6 0 1 0 13.2 0a6.6 6.6 0 1 0 -13.2 0M253.57 304.76a6.6 6.6 0 1 0 13.2 0a6.6 6.6 0 1 0 -13.2 0M256.29 302.74a6.6 6.6 0 1 0 13.2 0a6.6 6.6 0 1 0 -13.2 0M259.01 301.4a6.6 6.6 0 1 0 13.2 0a6.6 6.6 0 1 0 -13.2 0M261.73 299.55a6.6 6.6 0 1 0 13.2 0a6.6 6.6 0 1 0 -13.2 0M264.46 298.08a6.6 6.6 0 1 0 13.2 0a6.6 6.6 0 1 0 -13.2 0M267.18 296.69a6.6 6.6 0 1 0 13.2 0a6.6 6.6 0 1 0 -13.2 0M269.9 295.9a6.6 6.6 0 1 0 13.2 0a6.6 6.6 0 1 0 -13.2 0M272.62 294.96a6.6 6.6 0 1 0 13.2 0a6.6 6.6 0 1 0 -13.2 0M275.34 293.85a6.6 6.6 0 1 0 13.2 0a6.6 6.6 0 1 0 -13.2 0M278.06 292.25a6.6 6.6 0 1 0 13.2 0a6.6 6.6 0 1 0 -13.2 0M280.78 290.71a6.6 6.6 0 1 0 13.2 0a6.6 6.6 0 1 0 -13.2 0M283.51 289.61a6.6 6.6 0 1 0 13.2 0a6.6 6.6 0 1 0 -13.2 0M286.23 288.35a6.6 6.6 0 1 0 13.2 0a6.6 6.6 0 1 0 -13.2 0M288.95 286.95a6.6 6.6 0 1 0 13.2 0a6.6 6.6 0 1 0 -13.2 0M291.67 285.62a6.6 6.6 0 1 0 13.2 0a6.6 6.6 0 1 0 -13.2 0M294.39 284.82a6.6 6.6 0 1 0 13.2 0a6.6 6.6 0 1 0 -13.2 0M297.11 283.74a6.6 6.6 0 1 0 13.2 0a6.6 6.6 0 1 0 -13.2 0M299.84 282.54a6.6 6.6 0 1 0 13.2 0a6.6 6.6 0 1 0 -13.2 0M302.56 281.75a6.6 6.6 0 1 0 13.2 0a6.6 6.6 0 1 0 -13.2 0M305.28 280.25a6.6 6.6 0 1 0 13.2 0a6.6 6.6 0 1 0 -13.2 0M308 278.36a6.6 6.6 0 1 0 13.2 0a6.6 6.6 0 1 0 -13.2 0M310.72 276.49a6.6 6.6 0 1 0 13.2 0a6.6 6.6 0 1 0 -13.2 0M313.44 275.29a6.6 6.6 0 1 0 13.2 0a6.6 6.6 0 1 0 -13.2 0M316.17 273.97a6.6 6.6 0 1 0 13.2 0a6.6 6.6 0 1 0 -13.2 0M318.89 272.64a6.6 6.6 0 1 0 13.2 0a6.6 6.6 0 1 0 -13.2 0M321.61 272.3a6.6 6.6 0 1 0 13.2 0a6.6 6.6 0 1 0 -13.2 0M324.33 271.48a6.6 6.6 0 1 0 13.2 0a6.6 6.6 0 1 0 -13.2 0M327.05 270.04a6.6 6.6 0 1 0 13.2 0a6.6 6.6 0 1 0 -13.2 0M329.77 267.74a6.6 6.6 0 1 0 13.2 0a6.6 6.6 0 1 0 -13.2 0M332.5 265.93a6.6 6.6 0 1 0 13.2 0a6.6 6.6 0 1 0 -13.2 0M335.22 264.48a6.6 6.6 0 1 0 13.2 0a6.6 6.6 0 1 0 -13.2 0M337.94 264a6.6 6.6 0 1 0 13.2 0a6.6 6.6 0 1 0 -13.2 0M340.66 264.02a6.6 6.6 0 1 0 13.2 0a6.6 6.6 0 1 0 -13.2 0M343.38 263.11a6.6 6.6 0 1 0 13.2 0a6.6 6.6 0 1 0 -13.2 0M346.1 261.38a6.6 6.6 0 1 0 13.2 0a6.6 6.6 0 1 0 -13.2 0M348.82 259.44a6.6 6.6 0 1 0 13.2 0a6.6 6.6 0 1 0 -13.2 0M351.55 258.37a6.6 6.6 0 1 0 13.2 0a6.6 6.6 0 1 0 -13.2 0M354.27 257.27a6.6 6.6 0 1 0 13.2 0a6.6 6.6 0 1 0 -13.2 0M356.99 256.74a6.6 6.6 0 1 0 13.2 0a6.6 6.6 0 1 0 -13.2 0M359.71 255.65a6.6 6.6 0 1 0 13.2 0a6.6 6.6 0 1 0 -13.2 0M362.43 254.6a6.6 6.6 0 1 0 13.2 0a6.6 6.6 0 1 0 -13.2 0M365.15 253.19a6.6 6.6 0 1 0 13.2 0a6.6 6.6 0 1 0 -13.2 0M367.88 252.13a6.6 6.6 0 1 0 13.2 0a6.6 6.6 0 1 0 -13.2 0M370.6 251.08a6.6 6.6 0 1 0 13.2 0a6.6 6.6 0 1 0 -13.2 0M373.32 250.2a6.6 6.6 0 1 0 13.2 0a6.6 6.6 0 1 0 -13.2 0M376.04 249.36a6.6 6.6 0 1 0 13.2 0a6.6 6.6 0 1 0 -13.2 0M378.76 248.26a6.6 6.6 0 1 0 13.2 0a6.6 6.6 0 1 0 -13.2 0M381.48 247.26a6.6 6.6 0 1 0 13.2 0a6.6 6.6 0 1 0 -13.2 0M384.21 246.53a6.6 6.6 0 1 0 13.2 0a6.6 6.6 0 1 0 -13.2 0M386.93 246.08a6.6 6.6 0 1 0 13.2 0a6.6 6.6 0 1 0 -13.2 0M389.65 244.89a6.6 6.6 0 1 0 13.2 0a6.6 6.6 0 1 0 -13.2 0M392.37 243.71a6.6 6.6 0 1 0 13.2 0a6.6 6.6 0 1 0 -13.2 0M395.09 242.59a6.6 6.6 0 1 0 13.2 0a6.6 6.6 0 1 0 -13.2 0M397.81 241.96a6.6 6.6 0 1 0 13.2 0a6.6 6.6 0 1 0 -13.2 0M400.54 241.27a6.6 6.6 0 1 0 13.2 0a6.6 6.6 0 1 0 -13.2 0M403.26 240.93a6.6 6.6 0 1 0 13.2 0a6.6 6.6 0 1 0 -13.2 0M405.98 240.17a6.6 6.6 0 1 0 13.2 0a6.6 6.6 0 1 0 -13.2 0M408.7 239.05a6.6 6.6 0 1 0 13.2 0a6.6 6.6 0 1 0 -13.2 0M411.42 237.86a6.6 6.6 0 1 0 13.2 0a6.6 6.6 0 1 0 -13.2 0M414.14 237.34a6.6 6.6 0 1 0 13.2 0a6.6 6.6 0 1 0 -13.2 0M416.86 236.87a6.6 6.6 0 1 0 13.2 0a6.6 6.6 0 1 0 -13.2 0M419.59 236.16a6.6 6.6 0 1 0 13.2 0a6.6 6.6 0 1 0 -13.2 0M422.31 234.55a6.6 6.6 0 1 0 13.2 0a6.6 6.6 0 1 0 -13.2 0M425.03 234a6.6 6.6 0 1 0 13.2 0a6.6 6.6 0 1 0 -13.2 0M427.75 233.34a6.6 6.6 0 1 0 13.2 0a6.6 6.6 0 1 0 -13.2 0M430.47 232.78a6.6 6.6 0 1 0 13.2 0a6.6 6.6 0 1 0 -13.2 0M433.19 231.3a6.6 6.6 0 1 0 13.2 0a6.6 6.6 0 1 0 -13.2 0M435.92 230.59a6.6 6.6 0 1 0 13.2 0a6.6 6.6 0 1 0 -13.2 0M438.64 229.57a6.6 6.6 0 1 0 13.2 0a6.6 6.6 0 1 0 -13.2 0M441.36 228.36a6.6 6.6 0 1 0 13.2 0a6.6 6.6 0 1 0 -13.2 0M444.08 227.2a6.6 6.6 0 1 0 13.2 0a6.6 6.6 0 1 0 -13.2 0M446.8 226.45a6.6 6.6 0 1 0 13.2 0a6.6 6.6 0 1 0 -13.2 0M449.52 225.92a6.6 6.6 0 1 0 13.2 0a6.6 6.6 0 1 0 -13.2 0M452.25 225.39a6.6 6.6 0 1 0 13.2 0a6.6 6.6 0 1 0 -13.2 0M454.97 224.66a6.6 6.6 0 1 0 13.2 0a6.6 6.6 0 1 0 -13.2 0M457.69 223.9a6.6 6.6 0 1 0 13.2 0a6.6 6.6 0 1 0 -13.2 0M460.41 223.17a6.6 6.6 0 1 0 13.2 0a6.6 6.6 0 1 0 -13.2 0M463.13 222.57a6.6 6.6 0 1 0 13.2 0a6.6 6.6 0 1 0 -13.2 0M465.85 221.72a6.6 6.6 0 1 0 13.2 0a6.6 6.6 0 1 0 -13.2 0M468.58 220.57a6.6 6.6 0 1 0 13.2 0a6.6 6.6 0 1 0 -13.2 0M471.3 219.72a6.6 6.6 0 1 0 13.2 0a6.6 6.6 0 1 0 -13.2 0M474.02 219.12a6.6 6.6 0 1 0 13.2 0a6.6 6.6 0 1 0 -13.2 0M476.74 218.26a6.6 6.6 0 1 0 13.2 0a6.6 6.6 0 1 0 -13.2 0M479.46 217.13a6.6 6.6 0 1 0 13.2 0a6.6 6.6 0 1 0 -13.2 0M482.18 216.05a6.6 6.6 0 1 0 13.2 0a6.6 6.6 0 1 0 -13.2 0M484.9 215.6a6.6 6.6 0 1 0 13.2 0a6.6 6.6 0 1 0 -13.2 0M487.63 215.32a6.6 6.6 0 1 0 13.2 0a6.6 6.6 0 1 0 -13.2 0M490.35 215.23a6.6 6.6 0 1 0 13.2 0a6.6 6.6 0 1 0 -13.2 0M493.07 214.93a6.6 6.6 0 1 0 13.2 0a6.6 6.6 0 1 0 -13.2 0M495.79 214.13a6.6 6.6 0 1 0 13.2 0a6.6 6.6 0 1 0 -13.2 0M498.51 213.37a6.6 6.6 0 1 0 13.2 0a6.6 6.6 0 1 0 -13.2 0M501.23 213.24a6.6 6.6 0 1 0 13.2 0a6.6 6.6 0 1 0 -13.2 0M503.96 213.13a6.6 6.6 0 1 0 13.2 0a6.6 6.6 0 1 0 -13.2 0M506.68 212.89a6.6 6.6 0 1 0 13.2 0a6.6 6.6 0 1 0 -13.2 0M509.4 212.1a6.6 6.6 0 1 0 13.2 0a6.6 6.6 0 1 0 -13.2 0M512.12 211.75a6.6 6.6 0 1 0 13.2 0a6.6 6.6 0 1 0 -13.2 0M514.84 211.33a6.6 6.6 0 1 0 13.2 0a6.6 6.6 0 1 0 -13.2 0M517.56 210.85a6.6 6.6 0 1 0 13.2 0a6.6 6.6 0 1 0 -13.2 0M520.29 209.96a6.6 6.6 0 1 0 13.2 0a6.6 6.6 0 1 0 -13.2 0M523.01 209.58a6.6 6.6 0 1 0 13.2 0a6.6 6.6 0 1 0 -13.2 0M525.73 209.08a6.6 6.6 0 1 0 13.2 0a6.6 6.6 0 1 0 -13.2 0M528.45 208.38a6.6 6.6 0 1 0 13.2 0a6.6 6.6 0 1 0 -13.2 0" fill="#000"/><line x1="147.8" y1="71.3" x2="147.8" y2="387.45" stroke="#000" stroke-width="2.8"/><line x1="146.4" y1="386" x2="537.5" y2="386" stroke="#000" stroke-width="2.9"/><line x1="138.3" y1="351.2" x2="147.8" y2="351.2" stroke="#000" stroke-width="2.6"/><text transform="matrix(1 0 0 1.04 137.2 362.8)" font-size="40.5" text-anchor="end">0.0</text><line x1="138.3" y1="281.3" x2="147.8" y2="281.3" stroke="#000" stroke-width="2.6"/><text transform="matrix(1 0 0 1.04 137.2 292.9)" font-size="40.5" text-anchor="end">0.1</text><line x1="138.3" y1="211.4" x2="147.8" y2="211.4" stroke="#000" stroke-width="2.6"/><text transform="matrix(1 0 0 1.04 137.2 223)" font-size="40.5" text-anchor="end">0.2</text><line x1="138.3" y1="141.5" x2="147.8" y2="141.5" stroke="#000" stroke-width="2.6"/><text transform="matrix(1 0 0 1.04 137.2 153.1)" font-size="40.5" text-anchor="end">0.3</text><line x1="138.3" y1="71.6" x2="147.8" y2="71.6" stroke="#000" stroke-width="2.6"/><text transform="matrix(1 0 0 1.04 137.2 83.2)" font-size="40.5" text-anchor="end">0.4</text><line x1="148" y1="386" x2="148" y2="395" stroke="#000" stroke-width="2.6"/><text transform="matrix(1 0 0 1.04 148 427)" font-size="40.5" text-anchor="middle">0</text><line x1="245.2" y1="386" x2="245.2" y2="395" stroke="#000" stroke-width="2.6"/><text transform="matrix(1 0 0 1.04 245.2 427)" font-size="40.5" text-anchor="middle">50</text><line x1="342.4" y1="386" x2="342.4" y2="395" stroke="#000" stroke-width="2.6"/><text transform="matrix(1 0 0 1.04 342.4 427)" font-size="40.5" text-anchor="middle">100</text><line x1="439.6" y1="386" x2="439.6" y2="395" stroke="#000" stroke-width="2.6"/><text transform="matrix(1 0 0 1.04 439.6 427)" font-size="40.5" text-anchor="middle">150</text><line x1="536.8" y1="386" x2="536.8" y2="395" stroke="#000" stroke-width="2.6"/><text transform="matrix(1 0 0 1.04 536.8 427)" font-size="40.5" text-anchor="middle">200</text><text transform="matrix(1 0 0 1.0 264.2 467.9)" font-size="42.4">Time (s)</text><text transform="translate(62.3,333.2) rotate(-90) scale(1,1.0)" font-size="39.5">ΔF/ΔF</text><text transform="translate(71.3,216.7) rotate(-90) scale(1.1,1)" font-size="28.0">NH4Cl</text><line x1="179.2" y1="139.6" x2="489" y2="139.6" stroke="#000" stroke-width="2.6"/><text transform="matrix(1 0 0 1.04 315.5 130.5)" font-size="38.5">5 Hz</text><path d="M737.8 344.7V352.59M733.2 344.7h9.2M733.2 352.59h9.2M740.54 340.06V347.97M735.94 340.06h9.2M735.94 347.97h9.2M743.28 333.45V344.2M738.68 333.45h9.2M738.68 344.2h9.2M746.02 327.8V339.6M741.42 327.8h9.2M741.42 339.6h9.2M748.76 322.4V335.21M744.16 322.4h9.2M744.16 335.21h9.2M751.5 317.49V330.76M746.9 317.49h9.2M746.9 330.76h9.2M754.25 314.02V326.85M749.65 314.02h9.2M749.65 326.85h9.2M756.99 308.38V324.56M752.39 308.38h9.2M752.39 324.56h9.2M759.73 306.1V320.59M755.13 306.1h9.2M755.13 320.59h9.2M762.47 302.7V318.35M757.87 302.7h9.2M757.87 318.35h9.2M765.21 299.93V315.64M760.61 299.93h9.2M760.61 315.64h9.2M767.95 297.13V312.97M763.35 297.13h9.2M763.35 312.97h9.2M770.69 293.21V311.31M766.09 293.21h9.2M766.09 311.31h9.2M773.43 290.11V307.96M768.83 290.11h9.2M768.83 307.96h9.2M776.18 288.15V304.72M771.58 288.15h9.2M771.58 304.72h9.2M778.92 286.1V302.47M774.32 286.1h9.2M774.32 302.47h9.2M781.66 283.65V300.85M777.06 283.65h9.2M777.06 300.85h9.2M784.4 280.26V299.69M779.8 280.26h9.2M779.8 299.69h9.2M787.14 278.69V297.08M782.54 278.69h9.2M782.54 297.08h9.2M789.88 276.19V294.89M785.28 276.19h9.2M785.28 294.89h9.2M792.62 274.35V292.36M788.02 274.35h9.2M788.02 292.36h9.2M795.36 272.08V290.32M790.76 272.08h9.2M790.76 290.32h9.2M798.1 269.19V288.27M793.5 269.19h9.2M793.5 288.27h9.2M800.85 268.52V284.62M796.25 268.52h9.2M796.25 284.62h9.2M803.59 264.66V286.12M798.99 264.66h9.2M798.99 286.12h9.2M806.33 265.5V283.44M801.73 265.5h9.2M801.73 283.44h9.2M809.07 263.53V281.94M804.47 263.53h9.2M804.47 281.94h9.2M811.81 260.09V281.62M807.21 260.09h9.2M807.21 281.62h9.2M814.55 259.25V279.24M809.95 259.25h9.2M809.95 279.24h9.2M817.29 258.53V278.44M812.69 258.53h9.2M812.69 278.44h9.2M820.03 257.73V276.85M815.43 257.73h9.2M815.43 276.85h9.2M822.77 257.67V275.43M818.17 257.67h9.2M818.17 275.43h9.2M825.52 254.56V275.42M820.92 254.56h9.2M820.92 275.42h9.2M828.26 252.62V275.44M823.66 252.62h9.2M823.66 275.44h9.2M831 253.25V272.86M826.4 253.25h9.2M826.4 272.86h9.2M833.74 250.63V274.43M829.14 250.63h9.2M829.14 274.43h9.2M836.48 251.12V270.98M831.88 251.12h9.2M831.88 270.98h9.2M839.22 249.84V270.75M834.62 249.84h9.2M834.62 270.75h9.2M841.96 247.65V271.26M837.36 247.65h9.2M837.36 271.26h9.2M844.7 246.98V270.37M840.1 246.98h9.2M840.1 270.37h9.2M847.45 244.38V269.97M842.85 244.38h9.2M842.85 269.97h9.2M850.19 244.11V267.79M845.59 244.11h9.2M845.59 267.79h9.2M852.93 243.02V266.96M848.33 243.02h9.2M848.33 266.96h9.2M855.67 242.65V265.56M851.07 242.65h9.2M851.07 265.56h9.2M858.41 240.75V265.69M853.81 240.75h9.2M853.81 265.69h9.2M861.15 239.19V264.8M856.55 239.19h9.2M856.55 264.8h9.2M863.89 238.37V263.48M859.29 238.37h9.2M859.29 263.48h9.2M866.63 235.26V264.61M862.03 235.26h9.2M862.03 264.61h9.2M869.37 235.31V262.68M864.77 235.31h9.2M864.77 262.68h9.2M872.12 235.49V259.97M867.52 235.49h9.2M867.52 259.97h9.2M874.86 228.37V263.46M870.26 228.37h9.2M870.26 263.46h9.2M877.6 231.21V258.6M873 231.21h9.2M873 258.6h9.2M880.34 231.06V257.45M875.74 231.06h9.2M875.74 257.45h9.2M883.08 227.5V259.58M878.48 227.5h9.2M878.48 259.58h9.2M885.82 227.22V258.82M881.22 227.22h9.2M881.22 258.82h9.2M888.56 230.08V255.99M883.96 230.08h9.2M883.96 255.99h9.2M891.3 230.52V255.3M886.7 230.52h9.2M886.7 255.3h9.2M894.05 228.92V254.32M889.45 228.92h9.2M889.45 254.32h9.2M896.79 224.98V254.53M892.19 224.98h9.2M892.19 254.53h9.2M899.53 225.47V251.41M894.93 225.47h9.2M894.93 251.41h9.2M902.27 225.38V249.81M897.67 225.38h9.2M897.67 249.81h9.2M905.01 224.71V250.36M900.41 224.71h9.2M900.41 250.36h9.2M907.75 223.82V251.62M903.15 223.82h9.2M903.15 251.62h9.2M910.49 227V249.32M905.89 227h9.2M905.89 249.32h9.2M913.23 225.16V249.29M908.63 225.16h9.2M908.63 249.29h9.2M915.97 224.69V246.66M911.37 224.69h9.2M911.37 246.66h9.2M918.72 220.52V249.3M914.12 220.52h9.2M914.12 249.3h9.2M921.46 220.5V248.39M916.86 220.5h9.2M916.86 248.39h9.2M924.2 221.11V247.14M919.6 221.11h9.2M919.6 247.14h9.2M926.94 221.31V245.09M922.34 221.31h9.2M922.34 245.09h9.2M929.68 219.79V244.94M925.08 219.79h9.2M925.08 244.94h9.2M932.42 221.74V241.5M927.82 221.74h9.2M927.82 241.5h9.2M935.16 219.78V243.93M930.56 219.78h9.2M930.56 243.93h9.2M937.9 221.04V242.02M933.3 221.04h9.2M933.3 242.02h9.2M940.64 220.5V241.38M936.04 220.5h9.2M936.04 241.38h9.2M943.39 219.14V241.07M938.79 219.14h9.2M938.79 241.07h9.2M946.13 218.71V241.18M941.53 218.71h9.2M941.53 241.18h9.2M948.87 217.11V241.15M944.27 217.11h9.2M944.27 241.15h9.2M951.61 216.57V240.71M947.01 216.57h9.2M947.01 240.71h9.2M954.35 216.39V239.6M949.75 216.39h9.2M949.75 239.6h9.2M957.09 217.49V238.38M952.49 217.49h9.2M952.49 238.38h9.2M959.83 215.57V239.24M955.23 215.57h9.2M955.23 239.24h9.2M962.57 216.09V238.18M957.97 216.09h9.2M957.97 238.18h9.2M965.32 214.5V238.72M960.72 214.5h9.2M960.72 238.72h9.2M968.06 215.92V236.25M963.46 215.92h9.2M963.46 236.25h9.2M970.8 216.43V233.37M966.2 216.43h9.2M966.2 233.37h9.2M973.54 214.14V234.87M968.94 214.14h9.2M968.94 234.87h9.2M976.28 211.06V236.11M971.68 211.06h9.2M971.68 236.11h9.2M979.02 212.02V234.03M974.42 212.02h9.2M974.42 234.03h9.2M981.76 212.22V232.98M977.16 212.22h9.2M977.16 232.98h9.2M984.5 210.95V233.43M979.9 210.95h9.2M979.9 233.43h9.2M987.24 210V231.82M982.64 210h9.2M982.64 231.82h9.2M989.99 209.18V230.92M985.39 209.18h9.2M985.39 230.92h9.2M992.73 210.07V230.18M988.13 210.07h9.2M988.13 230.18h9.2M995.47 209.38V230.48M990.87 209.38h9.2M990.87 230.48h9.2M998.21 208.64V229.95M993.61 208.64h9.2M993.61 229.95h9.2M1000.95 208.59V228.48M996.35 208.59h9.2M996.35 228.48h9.2M1003.69 207.93V227.03M999.09 207.93h9.2M999.09 227.03h9.2M1006.43 205.86V227.06M1001.83 205.86h9.2M1001.83 227.06h9.2M1009.17 204.63V227.22M1004.57 204.63h9.2M1004.57 227.22h9.2M1011.92 204.8V226.85M1007.32 204.8h9.2M1007.32 226.85h9.2M1014.66 204.69V226.48M1010.06 204.69h9.2M1010.06 226.48h9.2M1017.4 204.21V226.03M1012.8 204.21h9.2M1012.8 226.03h9.2M1020.14 201.94V227.25M1015.54 201.94h9.2M1015.54 227.25h9.2M1022.88 203.67V225.08M1018.28 203.67h9.2M1018.28 225.08h9.2M1025.62 203.03V225.75M1021.02 203.03h9.2M1021.02 225.75h9.2M1028.36 201.6V225.85M1023.76 201.6h9.2M1023.76 225.85h9.2M1031.1 202.6V223.66M1026.5 202.6h9.2M1026.5 223.66h9.2M1033.84 202.51V223.92M1029.24 202.51h9.2M1029.24 223.92h9.2M1036.59 201.91V224.63M1031.99 201.91h9.2M1031.99 224.63h9.2M1039.33 201.25V225.05M1034.73 201.25h9.2M1034.73 225.05h9.2M1042.07 202.8V224.32M1037.47 202.8h9.2M1037.47 224.32h9.2M1044.81 203.2V224.84M1040.21 203.2h9.2M1040.21 224.84h9.2M1047.55 203.51V224.77M1042.95 203.51h9.2M1042.95 224.77h9.2M1050.29 204.6V223.76M1045.69 204.6h9.2M1045.69 223.76h9.2M1053.03 202.69V225.92M1048.43 202.69h9.2M1048.43 225.92h9.2M1055.77 203.64V224.66M1051.17 203.64h9.2M1051.17 224.66h9.2M1058.51 205.07V223.71M1053.91 205.07h9.2M1053.91 223.71h9.2M1061.26 204.07V225.59M1056.66 204.07h9.2M1056.66 225.59h9.2M1064 205.67V224.59M1059.4 205.67h9.2M1059.4 224.59h9.2M1066.74 204.71V225.07M1062.14 204.71h9.2M1062.14 225.07h9.2M1069.48 203.7V226.06M1064.88 203.7h9.2M1064.88 226.06h9.2" stroke="#000" stroke-width="1.3" fill="none"/><path d="M676.58 350.48a6.4 6.4 0 1 0 12.8 0a6.4 6.4 0 1 0 -12.8 0M679.32 350.12a6.4 6.4 0 1 0 12.8 0a6.4 6.4 0 1 0 -12.8 0M682.06 350.31a6.4 6.4 0 1 0 12.8 0a6.4 6.4 0 1 0 -12.8 0M684.8 350.71a6.4 6.4 0 1 0 12.8 0a6.4 6.4 0 1 0 -12.8 0M687.54 350.87a6.4 6.4 0 1 0 12.8 0a6.4 6.4 0 1 0 -12.8 0M690.28 350.39a6.4 6.4 0 1 0 12.8 0a6.4 6.4 0 1 0 -12.8 0M693.02 350.43a6.4 6.4 0 1 0 12.8 0a6.4 6.4 0 1 0 -12.8 0M695.76 349.98a6.4 6.4 0 1 0 12.8 0a6.4 6.4 0 1 0 -12.8 0M698.51 349.81a6.4 6.4 0 1 0 12.8 0a6.4 6.4 0 1 0 -12.8 0M701.25 350.08a6.4 6.4 0 1 0 12.8 0a6.4 6.4 0 1 0 -12.8 0M703.99 350.47a6.4 6.4 0 1 0 12.8 0a6.4 6.4 0 1 0 -12.8 0M706.73 350.11a6.4 6.4 0 1 0 12.8 0a6.4 6.4 0 1 0 -12.8 0M709.47 349.92a6.4 6.4 0 1 0 12.8 0a6.4 6.4 0 1 0 -12.8 0M712.21 350.28a6.4 6.4 0 1 0 12.8 0a6.4 6.4 0 1 0 -12.8 0M714.95 351.21a6.4 6.4 0 1 0 12.8 0a6.4 6.4 0 1 0 -12.8 0M717.69 351.4a6.4 6.4 0 1 0 12.8 0a6.4 6.4 0 1 0 -12.8 0M720.43 352.09a6.4 6.4 0 1 0 12.8 0a6.4 6.4 0 1 0 -12.8 0M723.18 351.81a6.4 6.4 0 1 0 12.8 0a6.4 6.4 0 1 0 -12.8 0M725.92 352.21a6.4 6.4 0 1 0 12.8 0a6.4 6.4 0 1 0 -12.8 0M728.66 351.5a6.4 6.4 0 1 0 12.8 0a6.4 6.4 0 1 0 -12.8 0M731.4 348.64a6.4 6.4 0 1 0 12.8 0a6.4 6.4 0 1 0 -12.8 0M734.14 344.02a6.4 6.4 0 1 0 12.8 0a6.4 6.4 0 1 0 -12.8 0M736.88 338.83a6.4 6.4 0 1 0 12.8 0a6.4 6.4 0 1 0 -12.8 0M739.62 333.7a6.4 6.4 0 1 0 12.8 0a6.4 6.4 0 1 0 -12.8 0M742.36 328.81a6.4 6.4 0 1 0 12.8 0a6.4 6.4 0 1 0 -12.8 0M745.1 324.13a6.4 6.4 0 1 0 12.8 0a6.4 6.4 0 1 0 -12.8 0M747.85 320.43a6.4 6.4 0 1 0 12.8 0a6.4 6.4 0 1 0 -12.8 0M750.59 316.47a6.4 6.4 0 1 0 12.8 0a6.4 6.4 0 1 0 -12.8 0M753.33 313.35a6.4 6.4 0 1 0 12.8 0a6.4 6.4 0 1 0 -12.8 0M756.07 310.53a6.4 6.4 0 1 0 12.8 0a6.4 6.4 0 1 0 -12.8 0M758.81 307.78a6.4 6.4 0 1 0 12.8 0a6.4 6.4 0 1 0 -12.8 0M761.55 305.05a6.4 6.4 0 1 0 12.8 0a6.4 6.4 0 1 0 -12.8 0M764.29 302.26a6.4 6.4 0 1 0 12.8 0a6.4 6.4 0 1 0 -12.8 0M767.03 299.04a6.4 6.4 0 1 0 12.8 0a6.4 6.4 0 1 0 -12.8 0M769.78 296.44a6.4 6.4 0 1 0 12.8 0a6.4 6.4 0 1 0 -12.8 0M772.52 294.28a6.4 6.4 0 1 0 12.8 0a6.4 6.4 0 1 0 -12.8 0M775.26 292.25a6.4 6.4 0 1 0 12.8 0a6.4 6.4 0 1 0 -12.8 0M778 289.98a6.4 6.4 0 1 0 12.8 0a6.4 6.4 0 1 0 -12.8 0M780.74 287.89a6.4 6.4 0 1 0 12.8 0a6.4 6.4 0 1 0 -12.8 0M783.48 285.54a6.4 6.4 0 1 0 12.8 0a6.4 6.4 0 1 0 -12.8 0M786.22 283.36a6.4 6.4 0 1 0 12.8 0a6.4 6.4 0 1 0 -12.8 0M788.96 281.2a6.4 6.4 0 1 0 12.8 0a6.4 6.4 0 1 0 -12.8 0M791.7 278.73a6.4 6.4 0 1 0 12.8 0a6.4 6.4 0 1 0 -12.8 0M794.45 276.57a6.4 6.4 0 1 0 12.8 0a6.4 6.4 0 1 0 -12.8 0M797.19 275.39a6.4 6.4 0 1 0 12.8 0a6.4 6.4 0 1 0 -12.8 0M799.93 274.47a6.4 6.4 0 1 0 12.8 0a6.4 6.4 0 1 0 -12.8 0M802.67 272.73a6.4 6.4 0 1 0 12.8 0a6.4 6.4 0 1 0 -12.8 0M805.41 270.86a6.4 6.4 0 1 0 12.8 0a6.4 6.4 0 1 0 -12.8 0M808.15 269.24a6.4 6.4 0 1 0 12.8 0a6.4 6.4 0 1 0 -12.8 0M810.89 268.49a6.4 6.4 0 1 0 12.8 0a6.4 6.4 0 1 0 -12.8 0M813.63 267.29a6.4 6.4 0 1 0 12.8 0a6.4 6.4 0 1 0 -12.8 0M816.37 266.55a6.4 6.4 0 1 0 12.8 0a6.4 6.4 0 1 0 -12.8 0M819.12 264.99a6.4 6.4 0 1 0 12.8 0a6.4 6.4 0 1 0 -12.8 0M821.86 264.03a6.4 6.4 0 1 0 12.8 0a6.4 6.4 0 1 0 -12.8 0M824.6 263.06a6.4 6.4 0 1 0 12.8 0a6.4 6.4 0 1 0 -12.8 0M827.34 262.53a6.4 6.4 0 1 0 12.8 0a6.4 6.4 0 1 0 -12.8 0M830.08 261.05a6.4 6.4 0 1 0 12.8 0a6.4 6.4 0 1 0 -12.8 0M832.82 260.29a6.4 6.4 0 1 0 12.8 0a6.4 6.4 0 1 0 -12.8 0M835.56 259.46a6.4 6.4 0 1 0 12.8 0a6.4 6.4 0 1 0 -12.8 0M838.3 258.67a6.4 6.4 0 1 0 12.8 0a6.4 6.4 0 1 0 -12.8 0M841.05 257.17a6.4 6.4 0 1 0 12.8 0a6.4 6.4 0 1 0 -12.8 0M843.79 255.95a6.4 6.4 0 1 0 12.8 0a6.4 6.4 0 1 0 -12.8 0M846.53 254.99a6.4 6.4 0 1 0 12.8 0a6.4 6.4 0 1 0 -12.8 0M849.27 254.11a6.4 6.4 0 1 0 12.8 0a6.4 6.4 0 1 0 -12.8 0M852.01 253.22a6.4 6.4 0 1 0 12.8 0a6.4 6.4 0 1 0 -12.8 0M854.75 251.99a6.4 6.4 0 1 0 12.8 0a6.4 6.4 0 1 0 -12.8 0M857.49 250.93a6.4 6.4 0 1 0 12.8 0a6.4 6.4 0 1 0 -12.8 0M860.23 249.94a6.4 6.4 0 1 0 12.8 0a6.4 6.4 0 1 0 -12.8 0M862.97 248.99a6.4 6.4 0 1 0 12.8 0a6.4 6.4 0 1 0 -12.8 0M865.72 247.73a6.4 6.4 0 1 0 12.8 0a6.4 6.4 0 1 0 -12.8 0M868.46 245.92a6.4 6.4 0 1 0 12.8 0a6.4 6.4 0 1 0 -12.8 0M871.2 244.9a6.4 6.4 0 1 0 12.8 0a6.4 6.4 0 1 0 -12.8 0M873.94 244.26a6.4 6.4 0 1 0 12.8 0a6.4 6.4 0 1 0 -12.8 0M876.68 243.54a6.4 6.4 0 1 0 12.8 0a6.4 6.4 0 1 0 -12.8 0M879.42 243.02a6.4 6.4 0 1 0 12.8 0a6.4 6.4 0 1 0 -12.8 0M882.16 243.04a6.4 6.4 0 1 0 12.8 0a6.4 6.4 0 1 0 -12.8 0M884.9 242.91a6.4 6.4 0 1 0 12.8 0a6.4 6.4 0 1 0 -12.8 0M887.65 241.62a6.4 6.4 0 1 0 12.8 0a6.4 6.4 0 1 0 -12.8 0M890.39 239.75a6.4 6.4 0 1 0 12.8 0a6.4 6.4 0 1 0 -12.8 0M893.13 238.44a6.4 6.4 0 1 0 12.8 0a6.4 6.4 0 1 0 -12.8 0M895.87 237.6a6.4 6.4 0 1 0 12.8 0a6.4 6.4 0 1 0 -12.8 0M898.61 237.53a6.4 6.4 0 1 0 12.8 0a6.4 6.4 0 1 0 -12.8 0M901.35 237.72a6.4 6.4 0 1 0 12.8 0a6.4 6.4 0 1 0 -12.8 0M904.09 238.16a6.4 6.4 0 1 0 12.8 0a6.4 6.4 0 1 0 -12.8 0M906.83 237.22a6.4 6.4 0 1 0 12.8 0a6.4 6.4 0 1 0 -12.8 0M909.57 235.68a6.4 6.4 0 1 0 12.8 0a6.4 6.4 0 1 0 -12.8 0M912.32 234.91a6.4 6.4 0 1 0 12.8 0a6.4 6.4 0 1 0 -12.8 0M915.06 234.45a6.4 6.4 0 1 0 12.8 0a6.4 6.4 0 1 0 -12.8 0M917.8 234.13a6.4 6.4 0 1 0 12.8 0a6.4 6.4 0 1 0 -12.8 0M920.54 233.2a6.4 6.4 0 1 0 12.8 0a6.4 6.4 0 1 0 -12.8 0M923.28 232.36a6.4 6.4 0 1 0 12.8 0a6.4 6.4 0 1 0 -12.8 0M926.02 231.62a6.4 6.4 0 1 0 12.8 0a6.4 6.4 0 1 0 -12.8 0M928.76 231.86a6.4 6.4 0 1 0 12.8 0a6.4 6.4 0 1 0 -12.8 0M931.5 231.53a6.4 6.4 0 1 0 12.8 0a6.4 6.4 0 1 0 -12.8 0M934.24 230.94a6.4 6.4 0 1 0 12.8 0a6.4 6.4 0 1 0 -12.8 0M936.99 230.1a6.4 6.4 0 1 0 12.8 0a6.4 6.4 0 1 0 -12.8 0M939.73 229.94a6.4 6.4 0 1 0 12.8 0a6.4 6.4 0 1 0 -12.8 0M942.47 229.13a6.4 6.4 0 1 0 12.8 0a6.4 6.4 0 1 0 -12.8 0M945.21 228.64a6.4 6.4 0 1 0 12.8 0a6.4 6.4 0 1 0 -12.8 0M947.95 227.99a6.4 6.4 0 1 0 12.8 0a6.4 6.4 0 1 0 -12.8 0M950.69 227.94a6.4 6.4 0 1 0 12.8 0a6.4 6.4 0 1 0 -12.8 0M953.43 227.41a6.4 6.4 0 1 0 12.8 0a6.4 6.4 0 1 0 -12.8 0M956.17 227.13a6.4 6.4 0 1 0 12.8 0a6.4 6.4 0 1 0 -12.8 0M958.92 226.61a6.4 6.4 0 1 0 12.8 0a6.4 6.4 0 1 0 -12.8 0M961.66 226.08a6.4 6.4 0 1 0 12.8 0a6.4 6.4 0 1 0 -12.8 0M964.4 224.9a6.4 6.4 0 1 0 12.8 0a6.4 6.4 0 1 0 -12.8 0M967.14 224.5a6.4 6.4 0 1 0 12.8 0a6.4 6.4 0 1 0 -12.8 0M969.88 223.58a6.4 6.4 0 1 0 12.8 0a6.4 6.4 0 1 0 -12.8 0M972.62 223.02a6.4 6.4 0 1 0 12.8 0a6.4 6.4 0 1 0 -12.8 0M975.36 222.6a6.4 6.4 0 1 0 12.8 0a6.4 6.4 0 1 0 -12.8 0M978.1 222.19a6.4 6.4 0 1 0 12.8 0a6.4 6.4 0 1 0 -12.8 0M980.84 220.91a6.4 6.4 0 1 0 12.8 0a6.4 6.4 0 1 0 -12.8 0M983.59 220.05a6.4 6.4 0 1 0 12.8 0a6.4 6.4 0 1 0 -12.8 0M986.33 220.13a6.4 6.4 0 1 0 12.8 0a6.4 6.4 0 1 0 -12.8 0M989.07 219.93a6.4 6.4 0 1 0 12.8 0a6.4 6.4 0 1 0 -12.8 0M991.81 219.3a6.4 6.4 0 1 0 12.8 0a6.4 6.4 0 1 0 -12.8 0M994.55 218.54a6.4 6.4 0 1 0 12.8 0a6.4 6.4 0 1 0 -12.8 0M997.29 217.48a6.4 6.4 0 1 0 12.8 0a6.4 6.4 0 1 0 -12.8 0M1000.03 216.46a6.4 6.4 0 1 0 12.8 0a6.4 6.4 0 1 0 -12.8 0M1002.77 215.93a6.4 6.4 0 1 0 12.8 0a6.4 6.4 0 1 0 -12.8 0M1005.52 215.82a6.4 6.4 0 1 0 12.8 0a6.4 6.4 0 1 0 -12.8 0M1008.26 215.58a6.4 6.4 0 1 0 12.8 0a6.4 6.4 0 1 0 -12.8 0M1011 215.12a6.4 6.4 0 1 0 12.8 0a6.4 6.4 0 1 0 -12.8 0M1013.74 214.6a6.4 6.4 0 1 0 12.8 0a6.4 6.4 0 1 0 -12.8 0M1016.48 214.37a6.4 6.4 0 1 0 12.8 0a6.4 6.4 0 1 0 -12.8 0M1019.22 214.39a6.4 6.4 0 1 0 12.8 0a6.4 6.4 0 1 0 -12.8 0M1021.96 213.72a6.4 6.4 0 1 0 12.8 0a6.4 6.4 0 1 0 -12.8 0M1024.7 213.13a6.4 6.4 0 1 0 12.8 0a6.4 6.4 0 1 0 -12.8 0M1027.44 213.22a6.4 6.4 0 1 0 12.8 0a6.4 6.4 0 1 0 -12.8 0M1030.19 213.27a6.4 6.4 0 1 0 12.8 0a6.4 6.4 0 1 0 -12.8 0M1032.93 213.15a6.4 6.4 0 1 0 12.8 0a6.4 6.4 0 1 0 -12.8 0M1035.67 213.56a6.4 6.4 0 1 0 12.8 0a6.4 6.4 0 1 0 -12.8 0M1038.41 214.02a6.4 6.4 0 1 0 12.8 0a6.4 6.4 0 1 0 -12.8 0M1041.15 214.14a6.4 6.4 0 1 0 12.8 0a6.4 6.4 0 1 0 -12.8 0M1043.89 214.18a6.4 6.4 0 1 0 12.8 0a6.4 6.4 0 1 0 -12.8 0M1046.63 214.31a6.4 6.4 0 1 0 12.8 0a6.4 6.4 0 1 0 -12.8 0M1049.37 214.15a6.4 6.4 0 1 0 12.8 0a6.4 6.4 0 1 0 -12.8 0M1052.11 214.39a6.4 6.4 0 1 0 12.8 0a6.4 6.4 0 1 0 -12.8 0M1054.86 214.83a6.4 6.4 0 1 0 12.8 0a6.4 6.4 0 1 0 -12.8 0M1057.6 215.13a6.4 6.4 0 1 0 12.8 0a6.4 6.4 0 1 0 -12.8 0M1060.34 214.89a6.4 6.4 0 1 0 12.8 0a6.4 6.4 0 1 0 -12.8 0M1063.08 214.88a6.4 6.4 0 1 0 12.8 0a6.4 6.4 0 1 0 -12.8 0" fill="#000"/><path d="M737.8 337.65V350.52M733.2 337.65h9.2M733.2 350.52h9.2M740.54 333.4V349.01M735.94 333.4h9.2M735.94 349.01h9.2M743.28 328.54V347.5M738.68 328.54h9.2M738.68 347.5h9.2M746.02 325.39V345.11M741.42 325.39h9.2M741.42 345.11h9.2M748.76 319.65V345.34M744.16 319.65h9.2M744.16 345.34h9.2M751.5 319.77V340.69M746.9 319.77h9.2M746.9 340.69h9.2M754.25 316.73V338M749.65 316.73h9.2M749.65 338h9.2M756.99 312.45V337.8M752.39 312.45h9.2M752.39 337.8h9.2M759.73 308.66V337.18M755.13 308.66h9.2M755.13 337.18h9.2M762.47 307.88V333.96M757.87 307.88h9.2M757.87 333.96h9.2M765.21 303.98V332.8M760.61 303.98h9.2M760.61 332.8h9.2M767.95 303.44V329.18M763.35 303.44h9.2M763.35 329.18h9.2M770.69 302.6V327.18M766.09 302.6h9.2M766.09 327.18h9.2M773.43 298.41V328.86M768.83 298.41h9.2M768.83 328.86h9.2M776.18 297.2V328.24M771.58 297.2h9.2M771.58 328.24h9.2M778.92 296.76V327.91M774.32 296.76h9.2M774.32 327.91h9.2M781.66 298.23V325.12M777.06 298.23h9.2M777.06 325.12h9.2M784.4 297.39V322.75M779.8 297.39h9.2M779.8 322.75h9.2M787.14 295.11V320.46M782.54 295.11h9.2M782.54 320.46h9.2M789.88 291.67V319.13M785.28 291.67h9.2M785.28 319.13h9.2M792.62 289.2V318.46M788.02 289.2h9.2M788.02 318.46h9.2M795.36 287.4V316.5M790.76 287.4h9.2M790.76 316.5h9.2M798.1 287.49V312.24M793.5 287.49h9.2M793.5 312.24h9.2M800.85 283.29V311.68M796.25 283.29h9.2M796.25 311.68h9.2M803.59 282.21V310.21M798.99 282.21h9.2M798.99 310.21h9.2M806.33 280.19V308.35M801.73 280.19h9.2M801.73 308.35h9.2M809.07 278.71V306.62M804.47 278.71h9.2M804.47 306.62h9.2M811.81 277.89V305.4M807.21 277.89h9.2M807.21 305.4h9.2M814.55 276.43V305.72M809.95 276.43h9.2M809.95 305.72h9.2M817.29 276.21V304.45M812.69 276.21h9.2M812.69 304.45h9.2M820.03 275.02V303.49M815.43 275.02h9.2M815.43 303.49h9.2M822.77 275.06V301.48M818.17 275.06h9.2M818.17 301.48h9.2M825.52 272.63V301.48M820.92 272.63h9.2M820.92 301.48h9.2M828.26 272.4V300.09M823.66 272.4h9.2M823.66 300.09h9.2M831 274.1V297.32M826.4 274.1h9.2M826.4 297.32h9.2M833.74 270.29V299.33M829.14 270.29h9.2M829.14 299.33h9.2M836.48 270.49V297.86M831.88 270.49h9.2M831.88 297.86h9.2M839.22 268.06V298.09M834.62 268.06h9.2M834.62 298.09h9.2M841.96 269V296.6M837.36 269h9.2M837.36 296.6h9.2M844.7 267.96V295.7M840.1 267.96h9.2M840.1 295.7h9.2M847.45 267.05V295.48M842.85 267.05h9.2M842.85 295.48h9.2M850.19 266.17V294.1M845.59 266.17h9.2M845.59 294.1h9.2M852.93 266.01V292.97M848.33 266.01h9.2M848.33 292.97h9.2M855.67 267.1V291.05M851.07 267.1h9.2M851.07 291.05h9.2M858.41 262.62V294.7M853.81 262.62h9.2M853.81 294.7h9.2M861.15 265.33V289.76M856.55 265.33h9.2M856.55 289.76h9.2M863.89 262.29V289.48M859.29 262.29h9.2M859.29 289.48h9.2M866.63 260.38V289.71M862.03 260.38h9.2M862.03 289.71h9.2M869.37 260.6V289.13M864.77 260.6h9.2M864.77 289.13h9.2M872.12 260.04V288.71M867.52 260.04h9.2M867.52 288.71h9.2M874.86 258.64V287.42M870.26 258.64h9.2M870.26 287.42h9.2M877.6 256.95V286.4M873 256.95h9.2M873 286.4h9.2M880.34 257.29V284.28M875.74 257.29h9.2M875.74 284.28h9.2M883.08 253.65V285.65M878.48 253.65h9.2M878.48 285.65h9.2M885.82 256.5V280M881.22 256.5h9.2M881.22 280h9.2M888.56 254.19V279.87M883.96 254.19h9.2M883.96 279.87h9.2M891.3 254.63V278.8M886.7 254.63h9.2M886.7 278.8h9.2M894.05 254.59V278.02M889.45 254.59h9.2M889.45 278.02h9.2M896.79 253.36V278.02M892.19 253.36h9.2M892.19 278.02h9.2M899.53 251.87V278.33M894.93 251.87h9.2M894.93 278.33h9.2M902.27 253.29V275.28M897.67 253.29h9.2M897.67 275.28h9.2M905.01 252.52V274.16M900.41 252.52h9.2M900.41 274.16h9.2M907.75 250.56V274.51M903.15 250.56h9.2M903.15 274.51h9.2M910.49 250.18V273.54M905.89 250.18h9.2M905.89 273.54h9.2M913.23 248.15V273.83M908.63 248.15h9.2M908.63 273.83h9.2M915.97 248.28V272.1M911.37 248.28h9.2M911.37 272.1h9.2M918.72 248.64V270.86M914.12 248.64h9.2M914.12 270.86h9.2M921.46 248.73V269.81M916.86 248.73h9.2M916.86 269.81h9.2M924.2 248.46V270.32M919.6 248.46h9.2M919.6 270.32h9.2M926.94 249V270.05M922.34 249h9.2M922.34 270.05h9.2M929.68 249.51V268.41M925.08 249.51h9.2M925.08 268.41h9.2M932.42 247.74V268.87M927.82 247.74h9.2M927.82 268.87h9.2M935.16 247.57V268.32M930.56 247.57h9.2M930.56 268.32h9.2M937.9 247.33V267.93M933.3 247.33h9.2M933.3 267.93h9.2M940.64 246.52V266.76M936.04 246.52h9.2M936.04 266.76h9.2M943.39 243.93V267.73M938.79 243.93h9.2M938.79 267.73h9.2M946.13 244.24V266.38M941.53 244.24h9.2M941.53 266.38h9.2M948.87 244.08V266.62M944.27 244.08h9.2M944.27 266.62h9.2M951.61 245.18V265.13M947.01 245.18h9.2M947.01 265.13h9.2M954.35 245.15V264.41M949.75 245.15h9.2M949.75 264.41h9.2M957.09 244.21V264.7M952.49 244.21h9.2M952.49 264.7h9.2M959.83 243.39V264.77M955.23 243.39h9.2M955.23 264.77h9.2M962.57 243.48V263.87M957.97 243.48h9.2M957.97 263.87h9.2M965.32 243.31V263.97M960.72 243.31h9.2M960.72 263.97h9.2M968.06 242.23V264.81M963.46 242.23h9.2M963.46 264.81h9.2M970.8 242.57V264.05M966.2 242.57h9.2M966.2 264.05h9.2M973.54 243.22V262.54M968.94 243.22h9.2M968.94 262.54h9.2M976.28 243.17V263.43M971.68 243.17h9.2M971.68 263.43h9.2M979.02 243.28V263.15M974.42 243.28h9.2M974.42 263.15h9.2M981.76 242.64V263.91M977.16 242.64h9.2M977.16 263.91h9.2M984.5 243.5V262.52M979.9 243.5h9.2M979.9 262.52h9.2M987.24 242.95V263.62M982.64 242.95h9.2M982.64 263.62h9.2M989.99 241.3V263.46M985.39 241.3h9.2M985.39 263.46h9.2M992.73 241.07V262.19M988.13 241.07h9.2M988.13 262.19h9.2M995.47 241.27V260.91M990.87 241.27h9.2M990.87 260.91h9.2M998.21 240.98V261.27M993.61 240.98h9.2M993.61 261.27h9.2M1000.95 239.98V261.72M996.35 239.98h9.2M996.35 261.72h9.2M1003.69 239.42V261.98M999.09 239.42h9.2M999.09 261.98h9.2M1006.43 239.38V262.78M1001.83 239.38h9.2M1001.83 262.78h9.2M1009.17 240.02V261.91M1004.57 240.02h9.2M1004.57 261.91h9.2M1011.92 240.89V260.88M1007.32 240.89h9.2M1007.32 260.88h9.2M1014.66 237.72V262.84M1010.06 237.72h9.2M1010.06 262.84h9.2M1017.4 238.36V261.68M1012.8 238.36h9.2M1012.8 261.68h9.2M1020.14 238.21V261.99M1015.54 238.21h9.2M1015.54 261.99h9.2M1022.88 238.71V262.57M1018.28 238.71h9.2M1018.28 262.57h9.2M1025.62 239.98V261.6M1021.02 239.98h9.2M1021.02 261.6h9.2M1028.36 238.38V261.63M1023.76 238.38h9.2M1023.76 261.63h9.2M1031.1 236.77V261.45M1026.5 236.77h9.2M1026.5 261.45h9.2M1033.84 235.34V261.87M1029.24 235.34h9.2M1029.24 261.87h9.2M1036.59 236.66V261.62M1031.99 236.66h9.2M1031.99 261.62h9.2M1039.33 240.52V259.43M1034.73 240.52h9.2M1034.73 259.43h9.2M1042.07 237.61V262.69M1037.47 237.61h9.2M1037.47 262.69h9.2M1044.81 236.06V262.76M1040.21 236.06h9.2M1040.21 262.76h9.2M1047.55 234.16V263.29M1042.95 234.16h9.2M1042.95 263.29h9.2M1050.29 234.17V262.56M1045.69 234.17h9.2M1045.69 262.56h9.2M1053.03 231.73V264.5M1048.43 231.73h9.2M1048.43 264.5h9.2M1055.77 232.68V263.68M1051.17 232.68h9.2M1051.17 263.68h9.2M1058.51 232.75V264.16M1053.91 232.75h9.2M1053.91 264.16h9.2M1061.26 232.7V263.77M1056.66 232.7h9.2M1056.66 263.77h9.2M1064 234.63V260.82M1059.4 234.63h9.2M1059.4 260.82h9.2M1066.74 231.39V263.45M1062.14 231.39h9.2M1062.14 263.45h9.2M1069.48 231.33V263.42M1064.88 231.33h9.2M1064.88 263.42h9.2" stroke="#f00" stroke-width="1.3" fill="none"/><path d="M676.58 354.93a6.4 6.4 0 1 0 12.8 0a6.4 6.4 0 1 0 -12.8 0M679.32 354.76a6.4 6.4 0 1 0 12.8 0a6.4 6.4 0 1 0 -12.8 0M682.06 354.31a6.4 6.4 0 1 0 12.8 0a6.4 6.4 0 1 0 -12.8 0M684.8 353.92a6.4 6.4 0 1 0 12.8 0a6.4 6.4 0 1 0 -12.8 0M687.54 352.79a6.4 6.4 0 1 0 12.8 0a6.4 6.4 0 1 0 -12.8 0M690.28 352.17a6.4 6.4 0 1 0 12.8 0a6.4 6.4 0 1 0 -12.8 0M693.02 351.93a6.4 6.4 0 1 0 12.8 0a6.4 6.4 0 1 0 -12.8 0M695.76 351.96a6.4 6.4 0 1 0 12.8 0a6.4 6.4 0 1 0 -12.8 0M698.51 351.85a6.4 6.4 0 1 0 12.8 0a6.4 6.4 0 1 0 -12.8 0M701.25 351.26a6.4 6.4 0 1 0 12.8 0a6.4 6.4 0 1 0 -12.8 0M703.99 351a6.4 6.4 0 1 0 12.8 0a6.4 6.4 0 1 0 -12.8 0M706.73 350.72a6.4 6.4 0 1 0 12.8 0a6.4 6.4 0 1 0 -12.8 0M709.47 350.68a6.4 6.4 0 1 0 12.8 0a6.4 6.4 0 1 0 -12.8 0M712.21 350.27a6.4 6.4 0 1 0 12.8 0a6.4 6.4 0 1 0 -12.8 0M714.95 350.17a6.4 6.4 0 1 0 12.8 0a6.4 6.4 0 1 0 -12.8 0M717.69 349.34a6.4 6.4 0 1 0 12.8 0a6.4 6.4 0 1 0 -12.8 0M720.43 348.98a6.4 6.4 0 1 0 12.8 0a6.4 6.4 0 1 0 -12.8 0M723.18 348.59a6.4 6.4 0 1 0 12.8 0a6.4 6.4 0 1 0 -12.8 0M725.92 348.37a6.4 6.4 0 1 0 12.8 0a6.4 6.4 0 1 0 -12.8 0M728.66 346.93a6.4 6.4 0 1 0 12.8 0a6.4 6.4 0 1 0 -12.8 0M731.4 344.09a6.4 6.4 0 1 0 12.8 0a6.4 6.4 0 1 0 -12.8 0M734.14 341.2a6.4 6.4 0 1 0 12.8 0a6.4 6.4 0 1 0 -12.8 0M736.88 338.02a6.4 6.4 0 1 0 12.8 0a6.4 6.4 0 1 0 -12.8 0M739.62 335.25a6.4 6.4 0 1 0 12.8 0a6.4 6.4 0 1 0 -12.8 0M742.36 332.49a6.4 6.4 0 1 0 12.8 0a6.4 6.4 0 1 0 -12.8 0M745.1 330.23a6.4 6.4 0 1 0 12.8 0a6.4 6.4 0 1 0 -12.8 0M747.85 327.37a6.4 6.4 0 1 0 12.8 0a6.4 6.4 0 1 0 -12.8 0M750.59 325.13a6.4 6.4 0 1 0 12.8 0a6.4 6.4 0 1 0 -12.8 0M753.33 322.92a6.4 6.4 0 1 0 12.8 0a6.4 6.4 0 1 0 -12.8 0M756.07 320.92a6.4 6.4 0 1 0 12.8 0a6.4 6.4 0 1 0 -12.8 0M758.81 318.39a6.4 6.4 0 1 0 12.8 0a6.4 6.4 0 1 0 -12.8 0M761.55 316.31a6.4 6.4 0 1 0 12.8 0a6.4 6.4 0 1 0 -12.8 0M764.29 314.89a6.4 6.4 0 1 0 12.8 0a6.4 6.4 0 1 0 -12.8 0M767.03 313.64a6.4 6.4 0 1 0 12.8 0a6.4 6.4 0 1 0 -12.8 0M769.78 312.72a6.4 6.4 0 1 0 12.8 0a6.4 6.4 0 1 0 -12.8 0M772.52 312.33a6.4 6.4 0 1 0 12.8 0a6.4 6.4 0 1 0 -12.8 0M775.26 311.67a6.4 6.4 0 1 0 12.8 0a6.4 6.4 0 1 0 -12.8 0M778 310.07a6.4 6.4 0 1 0 12.8 0a6.4 6.4 0 1 0 -12.8 0M780.74 307.79a6.4 6.4 0 1 0 12.8 0a6.4 6.4 0 1 0 -12.8 0M783.48 305.4a6.4 6.4 0 1 0 12.8 0a6.4 6.4 0 1 0 -12.8 0M786.22 303.83a6.4 6.4 0 1 0 12.8 0a6.4 6.4 0 1 0 -12.8 0M788.96 301.95a6.4 6.4 0 1 0 12.8 0a6.4 6.4 0 1 0 -12.8 0M791.7 299.87a6.4 6.4 0 1 0 12.8 0a6.4 6.4 0 1 0 -12.8 0M794.45 297.49a6.4 6.4 0 1 0 12.8 0a6.4 6.4 0 1 0 -12.8 0M797.19 296.21a6.4 6.4 0 1 0 12.8 0a6.4 6.4 0 1 0 -12.8 0M799.93 294.27a6.4 6.4 0 1 0 12.8 0a6.4 6.4 0 1 0 -12.8 0M802.67 292.66a6.4 6.4 0 1 0 12.8 0a6.4 6.4 0 1 0 -12.8 0M805.41 291.65a6.4 6.4 0 1 0 12.8 0a6.4 6.4 0 1 0 -12.8 0M808.15 291.07a6.4 6.4 0 1 0 12.8 0a6.4 6.4 0 1 0 -12.8 0M810.89 290.33a6.4 6.4 0 1 0 12.8 0a6.4 6.4 0 1 0 -12.8 0M813.63 289.25a6.4 6.4 0 1 0 12.8 0a6.4 6.4 0 1 0 -12.8 0M816.37 288.27a6.4 6.4 0 1 0 12.8 0a6.4 6.4 0 1 0 -12.8 0M819.12 287.05a6.4 6.4 0 1 0 12.8 0a6.4 6.4 0 1 0 -12.8 0M821.86 286.25a6.4 6.4 0 1 0 12.8 0a6.4 6.4 0 1 0 -12.8 0M824.6 285.71a6.4 6.4 0 1 0 12.8 0a6.4 6.4 0 1 0 -12.8 0M827.34 284.81a6.4 6.4 0 1 0 12.8 0a6.4 6.4 0 1 0 -12.8 0M830.08 284.18a6.4 6.4 0 1 0 12.8 0a6.4 6.4 0 1 0 -12.8 0M832.82 283.07a6.4 6.4 0 1 0 12.8 0a6.4 6.4 0 1 0 -12.8 0M835.56 282.8a6.4 6.4 0 1 0 12.8 0a6.4 6.4 0 1 0 -12.8 0M838.3 281.83a6.4 6.4 0 1 0 12.8 0a6.4 6.4 0 1 0 -12.8 0M841.05 281.27a6.4 6.4 0 1 0 12.8 0a6.4 6.4 0 1 0 -12.8 0M843.79 280.13a6.4 6.4 0 1 0 12.8 0a6.4 6.4 0 1 0 -12.8 0M846.53 279.49a6.4 6.4 0 1 0 12.8 0a6.4 6.4 0 1 0 -12.8 0M849.27 279.07a6.4 6.4 0 1 0 12.8 0a6.4 6.4 0 1 0 -12.8 0M852.01 278.66a6.4 6.4 0 1 0 12.8 0a6.4 6.4 0 1 0 -12.8 0M854.75 277.55a6.4 6.4 0 1 0 12.8 0a6.4 6.4 0 1 0 -12.8 0M857.49 275.88a6.4 6.4 0 1 0 12.8 0a6.4 6.4 0 1 0 -12.8 0M860.23 275.04a6.4 6.4 0 1 0 12.8 0a6.4 6.4 0 1 0 -12.8 0M862.97 274.87a6.4 6.4 0 1 0 12.8 0a6.4 6.4 0 1 0 -12.8 0M865.72 274.38a6.4 6.4 0 1 0 12.8 0a6.4 6.4 0 1 0 -12.8 0M868.46 273.03a6.4 6.4 0 1 0 12.8 0a6.4 6.4 0 1 0 -12.8 0M871.2 271.68a6.4 6.4 0 1 0 12.8 0a6.4 6.4 0 1 0 -12.8 0M873.94 270.79a6.4 6.4 0 1 0 12.8 0a6.4 6.4 0 1 0 -12.8 0M876.68 269.65a6.4 6.4 0 1 0 12.8 0a6.4 6.4 0 1 0 -12.8 0M879.42 268.25a6.4 6.4 0 1 0 12.8 0a6.4 6.4 0 1 0 -12.8 0M882.16 267.03a6.4 6.4 0 1 0 12.8 0a6.4 6.4 0 1 0 -12.8 0M884.9 266.72a6.4 6.4 0 1 0 12.8 0a6.4 6.4 0 1 0 -12.8 0M887.65 266.3a6.4 6.4 0 1 0 12.8 0a6.4 6.4 0 1 0 -12.8 0M890.39 265.69a6.4 6.4 0 1 0 12.8 0a6.4 6.4 0 1 0 -12.8 0M893.13 265.1a6.4 6.4 0 1 0 12.8 0a6.4 6.4 0 1 0 -12.8 0M895.87 264.29a6.4 6.4 0 1 0 12.8 0a6.4 6.4 0 1 0 -12.8 0M898.61 263.34a6.4 6.4 0 1 0 12.8 0a6.4 6.4 0 1 0 -12.8 0M901.35 262.54a6.4 6.4 0 1 0 12.8 0a6.4 6.4 0 1 0 -12.8 0M904.09 261.86a6.4 6.4 0 1 0 12.8 0a6.4 6.4 0 1 0 -12.8 0M906.83 260.99a6.4 6.4 0 1 0 12.8 0a6.4 6.4 0 1 0 -12.8 0M909.57 260.19a6.4 6.4 0 1 0 12.8 0a6.4 6.4 0 1 0 -12.8 0M912.32 259.75a6.4 6.4 0 1 0 12.8 0a6.4 6.4 0 1 0 -12.8 0M915.06 259.27a6.4 6.4 0 1 0 12.8 0a6.4 6.4 0 1 0 -12.8 0M917.8 259.39a6.4 6.4 0 1 0 12.8 0a6.4 6.4 0 1 0 -12.8 0M920.54 259.53a6.4 6.4 0 1 0 12.8 0a6.4 6.4 0 1 0 -12.8 0M923.28 258.96a6.4 6.4 0 1 0 12.8 0a6.4 6.4 0 1 0 -12.8 0M926.02 258.31a6.4 6.4 0 1 0 12.8 0a6.4 6.4 0 1 0 -12.8 0M928.76 257.94a6.4 6.4 0 1 0 12.8 0a6.4 6.4 0 1 0 -12.8 0M931.5 257.63a6.4 6.4 0 1 0 12.8 0a6.4 6.4 0 1 0 -12.8 0M934.24 256.64a6.4 6.4 0 1 0 12.8 0a6.4 6.4 0 1 0 -12.8 0M936.99 255.83a6.4 6.4 0 1 0 12.8 0a6.4 6.4 0 1 0 -12.8 0M939.73 255.31a6.4 6.4 0 1 0 12.8 0a6.4 6.4 0 1 0 -12.8 0M942.47 255.35a6.4 6.4 0 1 0 12.8 0a6.4 6.4 0 1 0 -12.8 0M945.21 255.15a6.4 6.4 0 1 0 12.8 0a6.4 6.4 0 1 0 -12.8 0M947.95 254.78a6.4 6.4 0 1 0 12.8 0a6.4 6.4 0 1 0 -12.8 0M950.69 254.46a6.4 6.4 0 1 0 12.8 0a6.4 6.4 0 1 0 -12.8 0M953.43 254.08a6.4 6.4 0 1 0 12.8 0a6.4 6.4 0 1 0 -12.8 0M956.17 253.68a6.4 6.4 0 1 0 12.8 0a6.4 6.4 0 1 0 -12.8 0M958.92 253.64a6.4 6.4 0 1 0 12.8 0a6.4 6.4 0 1 0 -12.8 0M961.66 253.52a6.4 6.4 0 1 0 12.8 0a6.4 6.4 0 1 0 -12.8 0M964.4 253.31a6.4 6.4 0 1 0 12.8 0a6.4 6.4 0 1 0 -12.8 0M967.14 252.88a6.4 6.4 0 1 0 12.8 0a6.4 6.4 0 1 0 -12.8 0M969.88 253.3a6.4 6.4 0 1 0 12.8 0a6.4 6.4 0 1 0 -12.8 0M972.62 253.21a6.4 6.4 0 1 0 12.8 0a6.4 6.4 0 1 0 -12.8 0M975.36 253.27a6.4 6.4 0 1 0 12.8 0a6.4 6.4 0 1 0 -12.8 0M978.1 253.01a6.4 6.4 0 1 0 12.8 0a6.4 6.4 0 1 0 -12.8 0M980.84 253.29a6.4 6.4 0 1 0 12.8 0a6.4 6.4 0 1 0 -12.8 0M983.59 252.38a6.4 6.4 0 1 0 12.8 0a6.4 6.4 0 1 0 -12.8 0M986.33 251.63a6.4 6.4 0 1 0 12.8 0a6.4 6.4 0 1 0 -12.8 0M989.07 251.09a6.4 6.4 0 1 0 12.8 0a6.4 6.4 0 1 0 -12.8 0M991.81 251.12a6.4 6.4 0 1 0 12.8 0a6.4 6.4 0 1 0 -12.8 0M994.55 250.85a6.4 6.4 0 1 0 12.8 0a6.4 6.4 0 1 0 -12.8 0M997.29 250.7a6.4 6.4 0 1 0 12.8 0a6.4 6.4 0 1 0 -12.8 0M1000.03 251.08a6.4 6.4 0 1 0 12.8 0a6.4 6.4 0 1 0 -12.8 0M1002.77 250.97a6.4 6.4 0 1 0 12.8 0a6.4 6.4 0 1 0 -12.8 0M1005.52 250.88a6.4 6.4 0 1 0 12.8 0a6.4 6.4 0 1 0 -12.8 0M1008.26 250.28a6.4 6.4 0 1 0 12.8 0a6.4 6.4 0 1 0 -12.8 0M1011 250.02a6.4 6.4 0 1 0 12.8 0a6.4 6.4 0 1 0 -12.8 0M1013.74 250.1a6.4 6.4 0 1 0 12.8 0a6.4 6.4 0 1 0 -12.8 0M1016.48 250.64a6.4 6.4 0 1 0 12.8 0a6.4 6.4 0 1 0 -12.8 0M1019.22 250.79a6.4 6.4 0 1 0 12.8 0a6.4 6.4 0 1 0 -12.8 0M1021.96 250a6.4 6.4 0 1 0 12.8 0a6.4 6.4 0 1 0 -12.8 0M1024.7 249.11a6.4 6.4 0 1 0 12.8 0a6.4 6.4 0 1 0 -12.8 0M1027.44 248.61a6.4 6.4 0 1 0 12.8 0a6.4 6.4 0 1 0 -12.8 0M1030.19 249.14a6.4 6.4 0 1 0 12.8 0a6.4 6.4 0 1 0 -12.8 0M1032.93 249.98a6.4 6.4 0 1 0 12.8 0a6.4 6.4 0 1 0 -12.8 0M1035.67 250.15a6.4 6.4 0 1 0 12.8 0a6.4 6.4 0 1 0 -12.8 0M1038.41 249.41a6.4 6.4 0 1 0 12.8 0a6.4 6.4 0 1 0 -12.8 0M1041.15 248.72a6.4 6.4 0 1 0 12.8 0a6.4 6.4 0 1 0 -12.8 0M1043.89 248.37a6.4 6.4 0 1 0 12.8 0a6.4 6.4 0 1 0 -12.8 0M1046.63 248.12a6.4 6.4 0 1 0 12.8 0a6.4 6.4 0 1 0 -12.8 0M1049.37 248.18a6.4 6.4 0 1 0 12.8 0a6.4 6.4 0 1 0 -12.8 0M1052.11 248.46a6.4 6.4 0 1 0 12.8 0a6.4 6.4 0 1 0 -12.8 0M1054.86 248.24a6.4 6.4 0 1 0 12.8 0a6.4 6.4 0 1 0 -12.8 0M1057.6 247.72a6.4 6.4 0 1 0 12.8 0a6.4 6.4 0 1 0 -12.8 0M1060.34 247.42a6.4 6.4 0 1 0 12.8 0a6.4 6.4 0 1 0 -12.8 0M1063.08 247.37a6.4 6.4 0 1 0 12.8 0a6.4 6.4 0 1 0 -12.8 0" fill="#f00"/><line x1="682.2" y1="71.7" x2="682.2" y2="386.75" stroke="#000" stroke-width="2.8"/><line x1="680.8" y1="385.3" x2="1070.5" y2="385.3" stroke="#000" stroke-width="2.9"/><line x1="672.7" y1="351.5" x2="682.2" y2="351.5" stroke="#000" stroke-width="2.6"/><text transform="matrix(1 0 0 1.04 671.1 363.1)" font-size="40.5" text-anchor="end">0.0</text><line x1="672.7" y1="281.6" x2="682.2" y2="281.6" stroke="#000" stroke-width="2.6"/><text transform="matrix(1 0 0 1.04 671.1 293.2)" font-size="40.5" text-anchor="end">0.1</text><line x1="672.7" y1="211.7" x2="682.2" y2="211.7" stroke="#000" stroke-width="2.6"/><text transform="matrix(1 0 0 1.04 671.1 223.3)" font-size="40.5" text-anchor="end">0.2</text><line x1="672.7" y1="141.8" x2="682.2" y2="141.8" stroke="#000" stroke-width="2.6"/><text transform="matrix(1 0 0 1.04 671.1 153.4)" font-size="40.5" text-anchor="end">0.3</text><line x1="672.7" y1="71.9" x2="682.2" y2="71.9" stroke="#000" stroke-width="2.6"/><text transform="matrix(1 0 0 1.04 671.1 83.5)" font-size="40.5" text-anchor="end">0.4</text><line x1="682.2" y1="385.3" x2="682.2" y2="394.3" stroke="#000" stroke-width="2.6"/><text transform="matrix(1 0 0 1.04 682.2 427.3)" font-size="40.5" text-anchor="middle">0</text><line x1="811.5" y1="385.3" x2="811.5" y2="394.3" stroke="#000" stroke-width="2.6"/><text transform="matrix(1 0 0 1.04 811.5 427.3)" font-size="40.5" text-anchor="middle">50</text><line x1="940.8" y1="385.3" x2="940.8" y2="394.3" stroke="#000" stroke-width="2.6"/><text transform="matrix(1 0 0 1.04 940.8 427.3)" font-size="40.5" text-anchor="middle">100</text><line x1="1070.1" y1="385.3" x2="1070.1" y2="394.3" stroke="#000" stroke-width="2.6"/><text transform="matrix(1 0 0 1.04 1070.1 427.3)" font-size="40.5" text-anchor="middle">150</text><text transform="matrix(1 0 0 1.0 798.5 467.3)" font-size="42.4">Time (s)</text><text transform="translate(595.2,322) rotate(-90) scale(1,1.0)" font-size="39.5">ΔF/Δ</text><text transform="translate(604.2,233.13) rotate(-90) scale(1.1,1)" font-size="28.0">NH4Cl</text><line x1="754.3" y1="139.2" x2="998.1" y2="139.2" stroke="#000" stroke-width="2.6"/><text transform="matrix(1 0 0 1.04 823.5 130)" font-size="40">10 Hz</text><path d="M1312.13 331.08V339.98M1307.53 331.08h9.2M1307.53 339.98h9.2M1315.18 324.46V335.64M1310.58 324.46h9.2M1310.58 335.64h9.2M1318.24 320.95V331.25M1313.64 320.95h9.2M1313.64 331.25h9.2M1321.29 315.96V327.29M1316.69 315.96h9.2M1316.69 327.29h9.2M1324.35 312.79V324.11M1319.75 312.79h9.2M1319.75 324.11h9.2M1327.41 308.97V319.1M1322.81 308.97h9.2M1322.81 319.1h9.2M1330.46 303.98V317.31M1325.86 303.98h9.2M1325.86 317.31h9.2M1333.52 299.62V314.87M1328.92 299.62h9.2M1328.92 314.87h9.2M1336.57 298.14V311.86M1331.97 298.14h9.2M1331.97 311.86h9.2M1339.63 296.02V308.38M1335.03 296.02h9.2M1335.03 308.38h9.2M1342.69 291.83V306.87M1338.09 291.83h9.2M1338.09 306.87h9.2M1345.74 289.15V304.15M1341.14 289.15h9.2M1341.14 304.15h9.2M1348.8 286.96V303.27M1344.2 286.96h9.2M1344.2 303.27h9.2M1351.85 286.57V302.98M1347.25 286.57h9.2M1347.25 302.98h9.2M1354.91 287.66V302.84M1350.31 287.66h9.2M1350.31 302.84h9.2M1357.97 285.94V302.2M1353.37 285.94h9.2M1353.37 302.2h9.2M1361.02 284.78V298.46M1356.42 284.78h9.2M1356.42 298.46h9.2M1364.08 280.19V297.86M1359.48 280.19h9.2M1359.48 297.86h9.2M1367.13 279.52V296.21M1362.53 279.52h9.2M1362.53 296.21h9.2M1370.19 278.49V296.59M1365.59 278.49h9.2M1365.59 296.59h9.2M1373.25 278.25V296.54M1368.65 278.25h9.2M1368.65 296.54h9.2M1376.3 278.75V295.41M1371.7 278.75h9.2M1371.7 295.41h9.2M1379.36 277.74V294.8M1374.76 277.74h9.2M1374.76 294.8h9.2M1382.41 278.12V294.38M1377.81 278.12h9.2M1377.81 294.38h9.2M1385.47 278.39V293.15M1380.87 278.39h9.2M1380.87 293.15h9.2M1388.53 277.03V294.7M1383.93 277.03h9.2M1383.93 294.7h9.2M1391.58 276.04V294.28M1386.98 276.04h9.2M1386.98 294.28h9.2M1394.64 276.93V293.47M1390.04 276.93h9.2M1390.04 293.47h9.2M1397.69 274.83V294.04M1393.09 274.83h9.2M1393.09 294.04h9.2M1400.75 275.17V293.49M1396.15 275.17h9.2M1396.15 293.49h9.2M1403.81 274.7V293.54M1399.21 274.7h9.2M1399.21 293.54h9.2M1406.86 275V292.05M1402.26 275h9.2M1402.26 292.05h9.2M1409.92 275.08V290.69M1405.32 275.08h9.2M1405.32 290.69h9.2M1412.97 271.37V290.68M1408.37 271.37h9.2M1408.37 290.68h9.2M1416.03 270.75V289.81M1411.43 270.75h9.2M1411.43 289.81h9.2M1419.09 271.33V289.34M1414.49 271.33h9.2M1414.49 289.34h9.2M1422.14 272.75V290.31M1417.54 272.75h9.2M1417.54 290.31h9.2M1425.2 272.82V290.59M1420.6 272.82h9.2M1420.6 290.59h9.2M1428.25 273.48V291.46M1423.65 273.48h9.2M1423.65 291.46h9.2M1431.31 273.77V291.2M1426.71 273.77h9.2M1426.71 291.2h9.2M1434.37 273.93V289.17M1429.77 273.93h9.2M1429.77 289.17h9.2M1437.42 271.36V290.68M1432.82 271.36h9.2M1432.82 290.68h9.2M1440.48 273.12V289.11M1435.88 273.12h9.2M1435.88 289.11h9.2M1443.53 272.64V290.33M1438.93 272.64h9.2M1438.93 290.33h9.2M1446.59 272.09V289.82M1441.99 272.09h9.2M1441.99 289.82h9.2M1449.65 271.27V289.83M1445.05 271.27h9.2M1445.05 289.83h9.2M1452.7 271.75V287.58M1448.1 271.75h9.2M1448.1 287.58h9.2M1455.76 269.34V289.28M1451.16 269.34h9.2M1451.16 289.28h9.2M1458.81 270.04V289.17M1454.21 270.04h9.2M1454.21 289.17h9.2M1461.87 269.78V289.08M1457.27 269.78h9.2M1457.27 289.08h9.2M1464.93 269.38V289.41M1460.33 269.38h9.2M1460.33 289.41h9.2M1467.98 270.43V287.45M1463.38 270.43h9.2M1463.38 287.45h9.2M1471.04 271.89V285.5M1466.44 271.89h9.2M1466.44 285.5h9.2M1474.09 269.03V287.7M1469.49 269.03h9.2M1469.49 287.7h9.2M1477.15 268.92V289.02M1472.55 268.92h9.2M1472.55 289.02h9.2M1480.21 268.98V288.86M1475.61 268.98h9.2M1475.61 288.86h9.2M1483.26 270.06V287.46M1478.66 270.06h9.2M1478.66 287.46h9.2M1486.32 269.58V287.63M1481.72 269.58h9.2M1481.72 287.63h9.2M1489.37 269.76V288.36M1484.77 269.76h9.2M1484.77 288.36h9.2M1492.43 270.26V285.82M1487.83 270.26h9.2M1487.83 285.82h9.2M1495.49 268.62V285.84M1490.89 268.62h9.2M1490.89 285.84h9.2M1498.54 269V286.27M1493.94 269h9.2M1493.94 286.27h9.2M1501.6 267.51V288.01M1497 267.51h9.2M1497 288.01h9.2M1504.65 267.57V284.82M1500.05 267.57h9.2M1500.05 284.82h9.2M1507.71 263.83V284.35M1503.11 263.83h9.2M1503.11 284.35h9.2M1510.77 265.31V283.61M1506.17 265.31h9.2M1506.17 283.61h9.2M1513.82 267.47V283.35M1509.22 267.47h9.2M1509.22 283.35h9.2M1516.88 264.8V286.48M1512.28 264.8h9.2M1512.28 286.48h9.2M1519.93 266.21V283.27M1515.33 266.21h9.2M1515.33 283.27h9.2M1522.99 264.73V284.24M1518.39 264.73h9.2M1518.39 284.24h9.2M1526.05 264.43V285.68M1521.45 264.43h9.2M1521.45 285.68h9.2M1529.1 266.04V284.05M1524.5 266.04h9.2M1524.5 284.05h9.2M1532.16 265.79V282.85M1527.56 265.79h9.2M1527.56 282.85h9.2M1535.21 263.91V284.53M1530.61 263.91h9.2M1530.61 284.53h9.2M1538.27 265.12V284.37M1533.67 265.12h9.2M1533.67 284.37h9.2M1541.33 265.86V283.23M1536.73 265.86h9.2M1536.73 283.23h9.2M1544.38 264.84V282.54M1539.78 264.84h9.2M1539.78 282.54h9.2M1547.44 263.72V282.59M1542.84 263.72h9.2M1542.84 282.59h9.2M1550.49 262.12V283.2M1545.89 262.12h9.2M1545.89 283.2h9.2M1553.55 262.6V281.8M1548.95 262.6h9.2M1548.95 281.8h9.2M1556.61 261.93V282.7M1552.01 261.93h9.2M1552.01 282.7h9.2M1559.66 261.9V284.35M1555.06 261.9h9.2M1555.06 284.35h9.2M1562.72 262.11V284.05M1558.12 262.11h9.2M1558.12 284.05h9.2M1565.77 260.84V283.14M1561.17 260.84h9.2M1561.17 283.14h9.2M1568.83 259.27V281.33M1564.23 259.27h9.2M1564.23 281.33h9.2M1571.89 261.53V279.1M1567.29 261.53h9.2M1567.29 279.1h9.2M1574.94 259.91V282.14M1570.34 259.91h9.2M1570.34 282.14h9.2M1578 260.64V281.51M1573.4 260.64h9.2M1573.4 281.51h9.2M1581.05 259.97V280.19M1576.45 259.97h9.2M1576.45 280.19h9.2M1584.11 260.39V279.12M1579.51 260.39h9.2M1579.51 279.12h9.2M1587.17 261.06V279.04M1582.57 261.06h9.2M1582.57 279.04h9.2M1590.22 261.34V280.19M1585.62 261.34h9.2M1585.62 280.19h9.2M1593.28 260.34V281.07M1588.68 260.34h9.2M1588.68 281.07h9.2M1596.33 261.56V280.46M1591.73 261.56h9.2M1591.73 280.46h9.2M1599.39 260.94V280.51M1594.79 260.94h9.2M1594.79 280.51h9.2" stroke="#f00" stroke-width="1.3" fill="none"/><path d="M1214.35 355.07a6.1 6.1 0 1 0 12.2 0a6.1 6.1 0 1 0 -12.2 0M1217.4 354.54a6.1 6.1 0 1 0 12.2 0a6.1 6.1 0 1 0 -12.2 0M1220.46 354.38a6.1 6.1 0 1 0 12.2 0a6.1 6.1 0 1 0 -12.2 0M1223.51 354.68a6.1 6.1 0 1 0 12.2 0a6.1 6.1 0 1 0 -12.2 0M1226.57 354.84a6.1 6.1 0 1 0 12.2 0a6.1 6.1 0 1 0 -12.2 0M1229.63 354.52a6.1 6.1 0 1 0 12.2 0a6.1 6.1 0 1 0 -12.2 0M1232.68 354.56a6.1 6.1 0 1 0 12.2 0a6.1 6.1 0 1 0 -12.2 0M1235.74 354.37a6.1 6.1 0 1 0 12.2 0a6.1 6.1 0 1 0 -12.2 0M1238.79 355.27a6.1 6.1 0 1 0 12.2 0a6.1 6.1 0 1 0 -12.2 0M1241.85 355.71a6.1 6.1 0 1 0 12.2 0a6.1 6.1 0 1 0 -12.2 0M1244.91 356.58a6.1 6.1 0 1 0 12.2 0a6.1 6.1 0 1 0 -12.2 0M1247.96 356.3a6.1 6.1 0 1 0 12.2 0a6.1 6.1 0 1 0 -12.2 0M1251.02 355.86a6.1 6.1 0 1 0 12.2 0a6.1 6.1 0 1 0 -12.2 0M1254.07 354.97a6.1 6.1 0 1 0 12.2 0a6.1 6.1 0 1 0 -12.2 0M1257.13 354.77a6.1 6.1 0 1 0 12.2 0a6.1 6.1 0 1 0 -12.2 0M1260.19 354.82a6.1 6.1 0 1 0 12.2 0a6.1 6.1 0 1 0 -12.2 0M1263.24 353.98a6.1 6.1 0 1 0 12.2 0a6.1 6.1 0 1 0 -12.2 0M1266.3 354.04a6.1 6.1 0 1 0 12.2 0a6.1 6.1 0 1 0 -12.2 0M1269.35 353.99a6.1 6.1 0 1 0 12.2 0a6.1 6.1 0 1 0 -12.2 0M1272.41 355a6.1 6.1 0 1 0 12.2 0a6.1 6.1 0 1 0 -12.2 0M1275.47 355.07a6.1 6.1 0 1 0 12.2 0a6.1 6.1 0 1 0 -12.2 0M1278.52 355.23a6.1 6.1 0 1 0 12.2 0a6.1 6.1 0 1 0 -12.2 0M1281.58 354.86a6.1 6.1 0 1 0 12.2 0a6.1 6.1 0 1 0 -12.2 0M1284.63 354.72a6.1 6.1 0 1 0 12.2 0a6.1 6.1 0 1 0 -12.2 0M1287.69 354.34a6.1 6.1 0 1 0 12.2 0a6.1 6.1 0 1 0 -12.2 0M1290.75 354.3a6.1 6.1 0 1 0 12.2 0a6.1 6.1 0 1 0 -12.2 0M1293.8 353.57a6.1 6.1 0 1 0 12.2 0a6.1 6.1 0 1 0 -12.2 0M1296.86 351.15a6.1 6.1 0 1 0 12.2 0a6.1 6.1 0 1 0 -12.2 0M1299.91 345.04a6.1 6.1 0 1 0 12.2 0a6.1 6.1 0 1 0 -12.2 0M1302.97 340.09a6.1 6.1 0 1 0 12.2 0a6.1 6.1 0 1 0 -12.2 0M1306.03 335.53a6.1 6.1 0 1 0 12.2 0a6.1 6.1 0 1 0 -12.2 0M1309.08 330.05a6.1 6.1 0 1 0 12.2 0a6.1 6.1 0 1 0 -12.2 0M1312.14 326.1a6.1 6.1 0 1 0 12.2 0a6.1 6.1 0 1 0 -12.2 0M1315.19 321.63a6.1 6.1 0 1 0 12.2 0a6.1 6.1 0 1 0 -12.2 0M1318.25 318.45a6.1 6.1 0 1 0 12.2 0a6.1 6.1 0 1 0 -12.2 0M1321.31 314.04a6.1 6.1 0 1 0 12.2 0a6.1 6.1 0 1 0 -12.2 0M1324.36 310.64a6.1 6.1 0 1 0 12.2 0a6.1 6.1 0 1 0 -12.2 0M1327.42 307.25a6.1 6.1 0 1 0 12.2 0a6.1 6.1 0 1 0 -12.2 0M1330.47 305a6.1 6.1 0 1 0 12.2 0a6.1 6.1 0 1 0 -12.2 0M1333.53 302.2a6.1 6.1 0 1 0 12.2 0a6.1 6.1 0 1 0 -12.2 0M1336.59 299.35a6.1 6.1 0 1 0 12.2 0a6.1 6.1 0 1 0 -12.2 0M1339.64 296.65a6.1 6.1 0 1 0 12.2 0a6.1 6.1 0 1 0 -12.2 0M1342.7 295.12a6.1 6.1 0 1 0 12.2 0a6.1 6.1 0 1 0 -12.2 0M1345.75 294.77a6.1 6.1 0 1 0 12.2 0a6.1 6.1 0 1 0 -12.2 0M1348.81 295.25a6.1 6.1 0 1 0 12.2 0a6.1 6.1 0 1 0 -12.2 0M1351.87 294.07a6.1 6.1 0 1 0 12.2 0a6.1 6.1 0 1 0 -12.2 0M1354.92 291.62a6.1 6.1 0 1 0 12.2 0a6.1 6.1 0 1 0 -12.2 0M1357.98 289.02a6.1 6.1 0 1 0 12.2 0a6.1 6.1 0 1 0 -12.2 0M1361.03 287.87a6.1 6.1 0 1 0 12.2 0a6.1 6.1 0 1 0 -12.2 0M1364.09 287.54a6.1 6.1 0 1 0 12.2 0a6.1 6.1 0 1 0 -12.2 0M1367.15 287.4a6.1 6.1 0 1 0 12.2 0a6.1 6.1 0 1 0 -12.2 0M1370.2 287.08a6.1 6.1 0 1 0 12.2 0a6.1 6.1 0 1 0 -12.2 0M1373.26 286.27a6.1 6.1 0 1 0 12.2 0a6.1 6.1 0 1 0 -12.2 0M1376.31 286.25a6.1 6.1 0 1 0 12.2 0a6.1 6.1 0 1 0 -12.2 0M1379.37 285.77a6.1 6.1 0 1 0 12.2 0a6.1 6.1 0 1 0 -12.2 0M1382.43 285.86a6.1 6.1 0 1 0 12.2 0a6.1 6.1 0 1 0 -12.2 0M1385.48 285.16a6.1 6.1 0 1 0 12.2 0a6.1 6.1 0 1 0 -12.2 0M1388.54 285.2a6.1 6.1 0 1 0 12.2 0a6.1 6.1 0 1 0 -12.2 0M1391.59 284.43a6.1 6.1 0 1 0 12.2 0a6.1 6.1 0 1 0 -12.2 0M1394.65 284.33a6.1 6.1 0 1 0 12.2 0a6.1 6.1 0 1 0 -12.2 0M1397.71 284.12a6.1 6.1 0 1 0 12.2 0a6.1 6.1 0 1 0 -12.2 0M1400.76 283.53a6.1 6.1 0 1 0 12.2 0a6.1 6.1 0 1 0 -12.2 0M1403.82 282.88a6.1 6.1 0 1 0 12.2 0a6.1 6.1 0 1 0 -12.2 0M1406.87 281.03a6.1 6.1 0 1 0 12.2 0a6.1 6.1 0 1 0 -12.2 0M1409.93 280.28a6.1 6.1 0 1 0 12.2 0a6.1 6.1 0 1 0 -12.2 0M1412.99 280.34a6.1 6.1 0 1 0 12.2 0a6.1 6.1 0 1 0 -12.2 0M1416.04 281.53a6.1 6.1 0 1 0 12.2 0a6.1 6.1 0 1 0 -12.2 0M1419.1 281.71a6.1 6.1 0 1 0 12.2 0a6.1 6.1 0 1 0 -12.2 0M1422.15 282.47a6.1 6.1 0 1 0 12.2 0a6.1 6.1 0 1 0 -12.2 0M1425.21 282.49a6.1 6.1 0 1 0 12.2 0a6.1 6.1 0 1 0 -12.2 0M1428.27 281.55a6.1 6.1 0 1 0 12.2 0a6.1 6.1 0 1 0 -12.2 0M1431.32 281.02a6.1 6.1 0 1 0 12.2 0a6.1 6.1 0 1 0 -12.2 0M1434.38 281.12a6.1 6.1 0 1 0 12.2 0a6.1 6.1 0 1 0 -12.2 0M1437.43 281.48a6.1 6.1 0 1 0 12.2 0a6.1 6.1 0 1 0 -12.2 0M1440.49 280.96a6.1 6.1 0 1 0 12.2 0a6.1 6.1 0 1 0 -12.2 0M1443.55 280.55a6.1 6.1 0 1 0 12.2 0a6.1 6.1 0 1 0 -12.2 0M1446.6 279.66a6.1 6.1 0 1 0 12.2 0a6.1 6.1 0 1 0 -12.2 0M1449.66 279.31a6.1 6.1 0 1 0 12.2 0a6.1 6.1 0 1 0 -12.2 0M1452.71 279.61a6.1 6.1 0 1 0 12.2 0a6.1 6.1 0 1 0 -12.2 0M1455.77 279.43a6.1 6.1 0 1 0 12.2 0a6.1 6.1 0 1 0 -12.2 0M1458.83 279.4a6.1 6.1 0 1 0 12.2 0a6.1 6.1 0 1 0 -12.2 0M1461.88 278.94a6.1 6.1 0 1 0 12.2 0a6.1 6.1 0 1 0 -12.2 0M1464.94 278.69a6.1 6.1 0 1 0 12.2 0a6.1 6.1 0 1 0 -12.2 0M1467.99 278.37a6.1 6.1 0 1 0 12.2 0a6.1 6.1 0 1 0 -12.2 0M1471.05 278.97a6.1 6.1 0 1 0 12.2 0a6.1 6.1 0 1 0 -12.2 0M1474.11 278.92a6.1 6.1 0 1 0 12.2 0a6.1 6.1 0 1 0 -12.2 0M1477.16 278.76a6.1 6.1 0 1 0 12.2 0a6.1 6.1 0 1 0 -12.2 0M1480.22 278.61a6.1 6.1 0 1 0 12.2 0a6.1 6.1 0 1 0 -12.2 0M1483.27 279.06a6.1 6.1 0 1 0 12.2 0a6.1 6.1 0 1 0 -12.2 0M1486.33 278.04a6.1 6.1 0 1 0 12.2 0a6.1 6.1 0 1 0 -12.2 0M1489.39 277.23a6.1 6.1 0 1 0 12.2 0a6.1 6.1 0 1 0 -12.2 0M1492.44 277.63a6.1 6.1 0 1 0 12.2 0a6.1 6.1 0 1 0 -12.2 0M1495.5 277.76a6.1 6.1 0 1 0 12.2 0a6.1 6.1 0 1 0 -12.2 0M1498.55 276.19a6.1 6.1 0 1 0 12.2 0a6.1 6.1 0 1 0 -12.2 0M1501.61 274.09a6.1 6.1 0 1 0 12.2 0a6.1 6.1 0 1 0 -12.2 0M1504.67 274.46a6.1 6.1 0 1 0 12.2 0a6.1 6.1 0 1 0 -12.2 0M1507.72 275.41a6.1 6.1 0 1 0 12.2 0a6.1 6.1 0 1 0 -12.2 0M1510.78 275.64a6.1 6.1 0 1 0 12.2 0a6.1 6.1 0 1 0 -12.2 0M1513.83 274.74a6.1 6.1 0 1 0 12.2 0a6.1 6.1 0 1 0 -12.2 0M1516.89 274.48a6.1 6.1 0 1 0 12.2 0a6.1 6.1 0 1 0 -12.2 0M1519.95 275.05a6.1 6.1 0 1 0 12.2 0a6.1 6.1 0 1 0 -12.2 0M1523 275.05a6.1 6.1 0 1 0 12.2 0a6.1 6.1 0 1 0 -12.2 0M1526.06 274.32a6.1 6.1 0 1 0 12.2 0a6.1 6.1 0 1 0 -12.2 0M1529.11 274.22a6.1 6.1 0 1 0 12.2 0a6.1 6.1 0 1 0 -12.2 0M1532.17 274.75a6.1 6.1 0 1 0 12.2 0a6.1 6.1 0 1 0 -12.2 0M1535.23 274.55a6.1 6.1 0 1 0 12.2 0a6.1 6.1 0 1 0 -12.2 0M1538.28 273.69a6.1 6.1 0 1 0 12.2 0a6.1 6.1 0 1 0 -12.2 0M1541.34 273.15a6.1 6.1 0 1 0 12.2 0a6.1 6.1 0 1 0 -12.2 0M1544.39 272.66a6.1 6.1 0 1 0 12.2 0a6.1 6.1 0 1 0 -12.2 0M1547.45 272.2a6.1 6.1 0 1 0 12.2 0a6.1 6.1 0 1 0 -12.2 0M1550.51 272.32a6.1 6.1 0 1 0 12.2 0a6.1 6.1 0 1 0 -12.2 0M1553.56 273.12a6.1 6.1 0 1 0 12.2 0a6.1 6.1 0 1 0 -12.2 0M1556.62 273.08a6.1 6.1 0 1 0 12.2 0a6.1 6.1 0 1 0 -12.2 0M1559.67 271.99a6.1 6.1 0 1 0 12.2 0a6.1 6.1 0 1 0 -12.2 0M1562.73 270.3a6.1 6.1 0 1 0 12.2 0a6.1 6.1 0 1 0 -12.2 0M1565.79 270.32a6.1 6.1 0 1 0 12.2 0a6.1 6.1 0 1 0 -12.2 0M1568.84 271.02a6.1 6.1 0 1 0 12.2 0a6.1 6.1 0 1 0 -12.2 0M1571.9 271.07a6.1 6.1 0 1 0 12.2 0a6.1 6.1 0 1 0 -12.2 0M1574.95 270.08a6.1 6.1 0 1 0 12.2 0a6.1 6.1 0 1 0 -12.2 0M1578.01 269.75a6.1 6.1 0 1 0 12.2 0a6.1 6.1 0 1 0 -12.2 0M1581.07 270.05a6.1 6.1 0 1 0 12.2 0a6.1 6.1 0 1 0 -12.2 0M1584.12 270.76a6.1 6.1 0 1 0 12.2 0a6.1 6.1 0 1 0 -12.2 0M1587.18 270.71a6.1 6.1 0 1 0 12.2 0a6.1 6.1 0 1 0 -12.2 0M1590.23 271.01a6.1 6.1 0 1 0 12.2 0a6.1 6.1 0 1 0 -12.2 0M1593.29 270.73a6.1 6.1 0 1 0 12.2 0a6.1 6.1 0 1 0 -12.2 0" fill="#f00"/><path d="M1302.96 322.54V330.28M1298.36 322.54h9.2M1298.36 330.28h9.2M1306.01 317.19V326.54M1301.41 317.19h9.2M1301.41 326.54h9.2M1309.07 312.82V322.28M1304.47 312.82h9.2M1304.47 322.28h9.2M1312.13 307.43V317.81M1307.53 307.43h9.2M1307.53 317.81h9.2M1315.18 302.5V312.78M1310.58 302.5h9.2M1310.58 312.78h9.2M1318.24 295.76V307.12M1313.64 295.76h9.2M1313.64 307.12h9.2M1321.29 287.71V301.26M1316.69 287.71h9.2M1316.69 301.26h9.2M1324.35 280.9V295.12M1319.75 280.9h9.2M1319.75 295.12h9.2M1327.41 276.42V290.28M1322.81 276.42h9.2M1322.81 290.28h9.2M1330.46 270.53V285.86M1325.86 270.53h9.2M1325.86 285.86h9.2M1333.52 264.84V280.4M1328.92 264.84h9.2M1328.92 280.4h9.2M1336.57 258.84V274.77M1331.97 258.84h9.2M1331.97 274.77h9.2M1339.63 252.94V271.11M1335.03 252.94h9.2M1335.03 271.11h9.2M1342.69 249.97V265.92M1338.09 249.97h9.2M1338.09 265.92h9.2M1345.74 245.74V263.17M1341.14 245.74h9.2M1341.14 263.17h9.2M1348.8 242.57V260.41M1344.2 242.57h9.2M1344.2 260.41h9.2M1351.85 239.81V257.13M1347.25 239.81h9.2M1347.25 257.13h9.2M1354.91 237.47V253.82M1350.31 237.47h9.2M1350.31 253.82h9.2M1357.97 232.26V251.69M1353.37 232.26h9.2M1353.37 251.69h9.2M1361.02 229.39V248.54M1356.42 229.39h9.2M1356.42 248.54h9.2M1364.08 227.74V246.91M1359.48 227.74h9.2M1359.48 246.91h9.2M1367.13 225.93V245.35M1362.53 225.93h9.2M1362.53 245.35h9.2M1370.19 224.1V243.77M1365.59 224.1h9.2M1365.59 243.77h9.2M1373.25 222.46V240.94M1368.65 222.46h9.2M1368.65 240.94h9.2M1376.3 220.42V241.05M1371.7 220.42h9.2M1371.7 241.05h9.2M1379.36 220.67V238.12M1374.76 220.67h9.2M1374.76 238.12h9.2M1382.41 218.03V238.6M1377.81 218.03h9.2M1377.81 238.6h9.2M1385.47 217.97V236.26M1380.87 217.97h9.2M1380.87 236.26h9.2M1388.53 216.32V236.63M1383.93 216.32h9.2M1383.93 236.63h9.2M1391.58 214.32V236.45M1386.98 214.32h9.2M1386.98 236.45h9.2M1394.64 213.9V234.39M1390.04 213.9h9.2M1390.04 234.39h9.2M1397.69 212.98V233.1M1393.09 212.98h9.2M1393.09 233.1h9.2M1400.75 211.44V233.23M1396.15 211.44h9.2M1396.15 233.23h9.2M1403.81 211.39V231.86M1399.21 211.39h9.2M1399.21 231.86h9.2M1406.86 210.29V230.53M1402.26 210.29h9.2M1402.26 230.53h9.2M1409.92 209.4V229.66M1405.32 209.4h9.2M1405.32 229.66h9.2M1412.97 206.95V230.39M1408.37 206.95h9.2M1408.37 230.39h9.2M1416.03 207.29V229.26M1411.43 207.29h9.2M1411.43 229.26h9.2M1419.09 207V228.59M1414.49 207h9.2M1414.49 228.59h9.2M1422.14 208.18V226.9M1417.54 208.18h9.2M1417.54 226.9h9.2M1425.2 206.05V227.66M1420.6 206.05h9.2M1420.6 227.66h9.2M1428.25 206.53V224.87M1423.65 206.53h9.2M1423.65 224.87h9.2M1431.31 203.8V224.92M1426.71 203.8h9.2M1426.71 224.92h9.2M1434.37 204.36V222.74M1429.77 204.36h9.2M1429.77 222.74h9.2M1437.42 201.75V224.95M1432.82 201.75h9.2M1432.82 224.95h9.2M1440.48 204.48V221.69M1435.88 204.48h9.2M1435.88 221.69h9.2M1443.53 201.43V223.15M1438.93 201.43h9.2M1438.93 223.15h9.2M1446.59 200.75V221.67M1441.99 200.75h9.2M1441.99 221.67h9.2M1449.65 202.39V219.15M1445.05 202.39h9.2M1445.05 219.15h9.2M1452.7 201.38V220.45M1448.1 201.38h9.2M1448.1 220.45h9.2M1455.76 199.8V221.39M1451.16 199.8h9.2M1451.16 221.39h9.2M1458.81 199.78V220.77M1454.21 199.78h9.2M1454.21 220.77h9.2M1461.87 201.33V217.91M1457.27 201.33h9.2M1457.27 217.91h9.2M1464.93 200.74V218.96M1460.33 200.74h9.2M1460.33 218.96h9.2M1467.98 200.76V217.88M1463.38 200.76h9.2M1463.38 217.88h9.2M1471.04 200.52V217.77M1466.44 200.52h9.2M1466.44 217.77h9.2M1474.09 199.44V217.16M1469.49 199.44h9.2M1469.49 217.16h9.2M1477.15 196.93V218.26M1472.55 196.93h9.2M1472.55 218.26h9.2M1480.21 197.41V216.09M1475.61 197.41h9.2M1475.61 216.09h9.2M1483.26 198.06V216.12M1478.66 198.06h9.2M1478.66 216.12h9.2M1486.32 198.78V216.6M1481.72 198.78h9.2M1481.72 216.6h9.2M1489.37 198.31V217.52M1484.77 198.31h9.2M1484.77 217.52h9.2M1492.43 197.58V216.77M1487.83 197.58h9.2M1487.83 216.77h9.2M1495.49 198.05V214.85M1490.89 198.05h9.2M1490.89 214.85h9.2M1498.54 195.81V216.07M1493.94 195.81h9.2M1493.94 216.07h9.2M1501.6 197.5V214.03M1497 197.5h9.2M1497 214.03h9.2M1504.65 196.56V214.27M1500.05 196.56h9.2M1500.05 214.27h9.2M1507.71 195.61V214.37M1503.11 195.61h9.2M1503.11 214.37h9.2M1510.77 194.07V214.66M1506.17 194.07h9.2M1506.17 214.66h9.2M1513.82 195.37V212.97M1509.22 195.37h9.2M1509.22 212.97h9.2M1516.88 194.9V213.42M1512.28 194.9h9.2M1512.28 213.42h9.2M1519.93 194.77V214.77M1515.33 194.77h9.2M1515.33 214.77h9.2M1522.99 195.5V214.51M1518.39 195.5h9.2M1518.39 214.51h9.2M1526.05 195.06V214.8M1521.45 195.06h9.2M1521.45 214.8h9.2M1529.1 194.65V214.27M1524.5 194.65h9.2M1524.5 214.27h9.2M1532.16 194.62V213.1M1527.56 194.62h9.2M1527.56 213.1h9.2M1535.21 193.55V212.57M1530.61 193.55h9.2M1530.61 212.57h9.2M1538.27 192.84V212.28M1533.67 192.84h9.2M1533.67 212.28h9.2M1541.33 193.59V211.65M1536.73 193.59h9.2M1536.73 211.65h9.2M1544.38 192.56V212.99M1539.78 192.56h9.2M1539.78 212.99h9.2M1547.44 194.79V210.01M1542.84 194.79h9.2M1542.84 210.01h9.2M1550.49 193.75V210.51M1545.89 193.75h9.2M1545.89 210.51h9.2M1553.55 191.62V211.82M1548.95 191.62h9.2M1548.95 211.82h9.2M1556.61 192.05V210.73M1552.01 192.05h9.2M1552.01 210.73h9.2M1559.66 192.46V209.5M1555.06 192.46h9.2M1555.06 209.5h9.2M1562.72 191.51V209.9M1558.12 191.51h9.2M1558.12 209.9h9.2M1565.77 190.94V210.18M1561.17 190.94h9.2M1561.17 210.18h9.2M1568.83 192.11V208.85M1564.23 192.11h9.2M1564.23 208.85h9.2M1571.89 190.81V209.23M1567.29 190.81h9.2M1567.29 209.23h9.2M1574.94 191.2V208.19M1570.34 191.2h9.2M1570.34 208.19h9.2M1578 191.04V207.85M1573.4 191.04h9.2M1573.4 207.85h9.2M1581.05 191.19V207.88M1576.45 191.19h9.2M1576.45 207.88h9.2M1584.11 190.35V208.44M1579.51 190.35h9.2M1579.51 208.44h9.2M1587.17 191.93V206.85M1582.57 191.93h9.2M1582.57 206.85h9.2M1590.22 191.34V207.05M1585.62 191.34h9.2M1585.62 207.05h9.2M1593.28 190.23V207.05M1588.68 190.23h9.2M1588.68 207.05h9.2M1596.33 191.02V205.2M1591.73 191.02h9.2M1591.73 205.2h9.2M1599.39 190.68V204.19M1594.79 190.68h9.2M1594.79 204.19h9.2" stroke="#000" stroke-width="1.3" fill="none"/><path d="M1214.35 350.34a6.1 6.1 0 1 0 12.2 0a6.1 6.1 0 1 0 -12.2 0M1217.4 350.53a6.1 6.1 0 1 0 12.2 0a6.1 6.1 0 1 0 -12.2 0M1220.46 350.65a6.1 6.1 0 1 0 12.2 0a6.1 6.1 0 1 0 -12.2 0M1223.51 350.58a6.1 6.1 0 1 0 12.2 0a6.1 6.1 0 1 0 -12.2 0M1226.57 350.53a6.1 6.1 0 1 0 12.2 0a6.1 6.1 0 1 0 -12.2 0M1229.63 350.51a6.1 6.1 0 1 0 12.2 0a6.1 6.1 0 1 0 -12.2 0M1232.68 351.04a6.1 6.1 0 1 0 12.2 0a6.1 6.1 0 1 0 -12.2 0M1235.74 350.9a6.1 6.1 0 1 0 12.2 0a6.1 6.1 0 1 0 -12.2 0M1238.79 350.65a6.1 6.1 0 1 0 12.2 0a6.1 6.1 0 1 0 -12.2 0M1241.85 350.03a6.1 6.1 0 1 0 12.2 0a6.1 6.1 0 1 0 -12.2 0M1244.91 349.9a6.1 6.1 0 1 0 12.2 0a6.1 6.1 0 1 0 -12.2 0M1247.96 349.99a6.1 6.1 0 1 0 12.2 0a6.1 6.1 0 1 0 -12.2 0M1251.02 350.04a6.1 6.1 0 1 0 12.2 0a6.1 6.1 0 1 0 -12.2 0M1254.07 350.07a6.1 6.1 0 1 0 12.2 0a6.1 6.1 0 1 0 -12.2 0M1257.13 349.84a6.1 6.1 0 1 0 12.2 0a6.1 6.1 0 1 0 -12.2 0M1260.19 349.78a6.1 6.1 0 1 0 12.2 0a6.1 6.1 0 1 0 -12.2 0M1263.24 350.35a6.1 6.1 0 1 0 12.2 0a6.1 6.1 0 1 0 -12.2 0M1266.3 350.9a6.1 6.1 0 1 0 12.2 0a6.1 6.1 0 1 0 -12.2 0M1269.35 351.26a6.1 6.1 0 1 0 12.2 0a6.1 6.1 0 1 0 -12.2 0M1272.41 351.09a6.1 6.1 0 1 0 12.2 0a6.1 6.1 0 1 0 -12.2 0M1275.47 351.43a6.1 6.1 0 1 0 12.2 0a6.1 6.1 0 1 0 -12.2 0M1278.52 351.88a6.1 6.1 0 1 0 12.2 0a6.1 6.1 0 1 0 -12.2 0M1281.58 351.91a6.1 6.1 0 1 0 12.2 0a6.1 6.1 0 1 0 -12.2 0M1284.63 351.51a6.1 6.1 0 1 0 12.2 0a6.1 6.1 0 1 0 -12.2 0M1287.69 348.51a6.1 6.1 0 1 0 12.2 0a6.1 6.1 0 1 0 -12.2 0M1290.75 338.55a6.1 6.1 0 1 0 12.2 0a6.1 6.1 0 1 0 -12.2 0M1293.8 331.53a6.1 6.1 0 1 0 12.2 0a6.1 6.1 0 1 0 -12.2 0M1296.86 326.41a6.1 6.1 0 1 0 12.2 0a6.1 6.1 0 1 0 -12.2 0M1299.91 321.86a6.1 6.1 0 1 0 12.2 0a6.1 6.1 0 1 0 -12.2 0M1302.97 317.55a6.1 6.1 0 1 0 12.2 0a6.1 6.1 0 1 0 -12.2 0M1306.03 312.62a6.1 6.1 0 1 0 12.2 0a6.1 6.1 0 1 0 -12.2 0M1309.08 307.64a6.1 6.1 0 1 0 12.2 0a6.1 6.1 0 1 0 -12.2 0M1312.14 301.44a6.1 6.1 0 1 0 12.2 0a6.1 6.1 0 1 0 -12.2 0M1315.19 294.49a6.1 6.1 0 1 0 12.2 0a6.1 6.1 0 1 0 -12.2 0M1318.25 288.01a6.1 6.1 0 1 0 12.2 0a6.1 6.1 0 1 0 -12.2 0M1321.31 283.35a6.1 6.1 0 1 0 12.2 0a6.1 6.1 0 1 0 -12.2 0M1324.36 278.19a6.1 6.1 0 1 0 12.2 0a6.1 6.1 0 1 0 -12.2 0M1327.42 272.62a6.1 6.1 0 1 0 12.2 0a6.1 6.1 0 1 0 -12.2 0M1330.47 266.81a6.1 6.1 0 1 0 12.2 0a6.1 6.1 0 1 0 -12.2 0M1333.53 262.02a6.1 6.1 0 1 0 12.2 0a6.1 6.1 0 1 0 -12.2 0M1336.59 257.94a6.1 6.1 0 1 0 12.2 0a6.1 6.1 0 1 0 -12.2 0M1339.64 254.46a6.1 6.1 0 1 0 12.2 0a6.1 6.1 0 1 0 -12.2 0M1342.7 251.49a6.1 6.1 0 1 0 12.2 0a6.1 6.1 0 1 0 -12.2 0M1345.75 248.47a6.1 6.1 0 1 0 12.2 0a6.1 6.1 0 1 0 -12.2 0M1348.81 245.64a6.1 6.1 0 1 0 12.2 0a6.1 6.1 0 1 0 -12.2 0M1351.87 241.97a6.1 6.1 0 1 0 12.2 0a6.1 6.1 0 1 0 -12.2 0M1354.92 238.96a6.1 6.1 0 1 0 12.2 0a6.1 6.1 0 1 0 -12.2 0M1357.98 237.33a6.1 6.1 0 1 0 12.2 0a6.1 6.1 0 1 0 -12.2 0M1361.03 235.64a6.1 6.1 0 1 0 12.2 0a6.1 6.1 0 1 0 -12.2 0M1364.09 233.94a6.1 6.1 0 1 0 12.2 0a6.1 6.1 0 1 0 -12.2 0M1367.15 231.7a6.1 6.1 0 1 0 12.2 0a6.1 6.1 0 1 0 -12.2 0M1370.2 230.74a6.1 6.1 0 1 0 12.2 0a6.1 6.1 0 1 0 -12.2 0M1373.26 229.4a6.1 6.1 0 1 0 12.2 0a6.1 6.1 0 1 0 -12.2 0M1376.31 228.31a6.1 6.1 0 1 0 12.2 0a6.1 6.1 0 1 0 -12.2 0M1379.37 227.11a6.1 6.1 0 1 0 12.2 0a6.1 6.1 0 1 0 -12.2 0M1382.43 226.47a6.1 6.1 0 1 0 12.2 0a6.1 6.1 0 1 0 -12.2 0M1385.48 225.38a6.1 6.1 0 1 0 12.2 0a6.1 6.1 0 1 0 -12.2 0M1388.54 224.15a6.1 6.1 0 1 0 12.2 0a6.1 6.1 0 1 0 -12.2 0M1391.59 223.04a6.1 6.1 0 1 0 12.2 0a6.1 6.1 0 1 0 -12.2 0M1394.65 222.33a6.1 6.1 0 1 0 12.2 0a6.1 6.1 0 1 0 -12.2 0M1397.71 221.63a6.1 6.1 0 1 0 12.2 0a6.1 6.1 0 1 0 -12.2 0M1400.76 220.41a6.1 6.1 0 1 0 12.2 0a6.1 6.1 0 1 0 -12.2 0M1403.82 219.53a6.1 6.1 0 1 0 12.2 0a6.1 6.1 0 1 0 -12.2 0M1406.87 218.67a6.1 6.1 0 1 0 12.2 0a6.1 6.1 0 1 0 -12.2 0M1409.93 218.27a6.1 6.1 0 1 0 12.2 0a6.1 6.1 0 1 0 -12.2 0M1412.99 217.8a6.1 6.1 0 1 0 12.2 0a6.1 6.1 0 1 0 -12.2 0M1416.04 217.54a6.1 6.1 0 1 0 12.2 0a6.1 6.1 0 1 0 -12.2 0M1419.1 216.86a6.1 6.1 0 1 0 12.2 0a6.1 6.1 0 1 0 -12.2 0M1422.15 215.7a6.1 6.1 0 1 0 12.2 0a6.1 6.1 0 1 0 -12.2 0M1425.21 214.36a6.1 6.1 0 1 0 12.2 0a6.1 6.1 0 1 0 -12.2 0M1428.27 213.55a6.1 6.1 0 1 0 12.2 0a6.1 6.1 0 1 0 -12.2 0M1431.32 213.35a6.1 6.1 0 1 0 12.2 0a6.1 6.1 0 1 0 -12.2 0M1434.38 213.08a6.1 6.1 0 1 0 12.2 0a6.1 6.1 0 1 0 -12.2 0M1437.43 212.29a6.1 6.1 0 1 0 12.2 0a6.1 6.1 0 1 0 -12.2 0M1440.49 211.21a6.1 6.1 0 1 0 12.2 0a6.1 6.1 0 1 0 -12.2 0M1443.55 210.77a6.1 6.1 0 1 0 12.2 0a6.1 6.1 0 1 0 -12.2 0M1446.6 210.91a6.1 6.1 0 1 0 12.2 0a6.1 6.1 0 1 0 -12.2 0M1449.66 210.59a6.1 6.1 0 1 0 12.2 0a6.1 6.1 0 1 0 -12.2 0M1452.71 210.28a6.1 6.1 0 1 0 12.2 0a6.1 6.1 0 1 0 -12.2 0M1455.77 209.62a6.1 6.1 0 1 0 12.2 0a6.1 6.1 0 1 0 -12.2 0M1458.83 209.85a6.1 6.1 0 1 0 12.2 0a6.1 6.1 0 1 0 -12.2 0M1461.88 209.32a6.1 6.1 0 1 0 12.2 0a6.1 6.1 0 1 0 -12.2 0M1464.94 209.14a6.1 6.1 0 1 0 12.2 0a6.1 6.1 0 1 0 -12.2 0M1467.99 208.3a6.1 6.1 0 1 0 12.2 0a6.1 6.1 0 1 0 -12.2 0M1471.05 207.59a6.1 6.1 0 1 0 12.2 0a6.1 6.1 0 1 0 -12.2 0M1474.11 206.75a6.1 6.1 0 1 0 12.2 0a6.1 6.1 0 1 0 -12.2 0M1477.16 207.09a6.1 6.1 0 1 0 12.2 0a6.1 6.1 0 1 0 -12.2 0M1480.22 207.69a6.1 6.1 0 1 0 12.2 0a6.1 6.1 0 1 0 -12.2 0M1483.27 207.91a6.1 6.1 0 1 0 12.2 0a6.1 6.1 0 1 0 -12.2 0M1486.33 207.18a6.1 6.1 0 1 0 12.2 0a6.1 6.1 0 1 0 -12.2 0M1489.39 206.45a6.1 6.1 0 1 0 12.2 0a6.1 6.1 0 1 0 -12.2 0M1492.44 205.94a6.1 6.1 0 1 0 12.2 0a6.1 6.1 0 1 0 -12.2 0M1495.5 205.77a6.1 6.1 0 1 0 12.2 0a6.1 6.1 0 1 0 -12.2 0M1498.55 205.42a6.1 6.1 0 1 0 12.2 0a6.1 6.1 0 1 0 -12.2 0M1501.61 204.99a6.1 6.1 0 1 0 12.2 0a6.1 6.1 0 1 0 -12.2 0M1504.67 204.37a6.1 6.1 0 1 0 12.2 0a6.1 6.1 0 1 0 -12.2 0M1507.72 204.17a6.1 6.1 0 1 0 12.2 0a6.1 6.1 0 1 0 -12.2 0M1510.78 204.16a6.1 6.1 0 1 0 12.2 0a6.1 6.1 0 1 0 -12.2 0M1513.83 204.77a6.1 6.1 0 1 0 12.2 0a6.1 6.1 0 1 0 -12.2 0M1516.89 205.01a6.1 6.1 0 1 0 12.2 0a6.1 6.1 0 1 0 -12.2 0M1519.95 204.93a6.1 6.1 0 1 0 12.2 0a6.1 6.1 0 1 0 -12.2 0M1523 204.46a6.1 6.1 0 1 0 12.2 0a6.1 6.1 0 1 0 -12.2 0M1526.06 203.86a6.1 6.1 0 1 0 12.2 0a6.1 6.1 0 1 0 -12.2 0M1529.11 203.06a6.1 6.1 0 1 0 12.2 0a6.1 6.1 0 1 0 -12.2 0M1532.17 202.56a6.1 6.1 0 1 0 12.2 0a6.1 6.1 0 1 0 -12.2 0M1535.23 202.62a6.1 6.1 0 1 0 12.2 0a6.1 6.1 0 1 0 -12.2 0M1538.28 202.78a6.1 6.1 0 1 0 12.2 0a6.1 6.1 0 1 0 -12.2 0M1541.34 202.4a6.1 6.1 0 1 0 12.2 0a6.1 6.1 0 1 0 -12.2 0M1544.39 202.13a6.1 6.1 0 1 0 12.2 0a6.1 6.1 0 1 0 -12.2 0M1547.45 201.72a6.1 6.1 0 1 0 12.2 0a6.1 6.1 0 1 0 -12.2 0M1550.51 201.39a6.1 6.1 0 1 0 12.2 0a6.1 6.1 0 1 0 -12.2 0M1553.56 200.98a6.1 6.1 0 1 0 12.2 0a6.1 6.1 0 1 0 -12.2 0M1556.62 200.71a6.1 6.1 0 1 0 12.2 0a6.1 6.1 0 1 0 -12.2 0M1559.67 200.56a6.1 6.1 0 1 0 12.2 0a6.1 6.1 0 1 0 -12.2 0M1562.73 200.48a6.1 6.1 0 1 0 12.2 0a6.1 6.1 0 1 0 -12.2 0M1565.79 200.02a6.1 6.1 0 1 0 12.2 0a6.1 6.1 0 1 0 -12.2 0M1568.84 199.69a6.1 6.1 0 1 0 12.2 0a6.1 6.1 0 1 0 -12.2 0M1571.9 199.44a6.1 6.1 0 1 0 12.2 0a6.1 6.1 0 1 0 -12.2 0M1574.95 199.54a6.1 6.1 0 1 0 12.2 0a6.1 6.1 0 1 0 -12.2 0M1578.01 199.4a6.1 6.1 0 1 0 12.2 0a6.1 6.1 0 1 0 -12.2 0M1581.07 199.39a6.1 6.1 0 1 0 12.2 0a6.1 6.1 0 1 0 -12.2 0M1584.12 199.19a6.1 6.1 0 1 0 12.2 0a6.1 6.1 0 1 0 -12.2 0M1587.18 198.64a6.1 6.1 0 1 0 12.2 0a6.1 6.1 0 1 0 -12.2 0M1590.23 198.11a6.1 6.1 0 1 0 12.2 0a6.1 6.1 0 1 0 -12.2 0M1593.29 197.44a6.1 6.1 0 1 0 12.2 0a6.1 6.1 0 1 0 -12.2 0" fill="#000"/><line x1="1219.3" y1="70.1" x2="1219.3" y2="385.25" stroke="#000" stroke-width="2.8"/><line x1="1217.9" y1="383.8" x2="1601.5" y2="383.8" stroke="#000" stroke-width="2.9"/><line x1="1209.8" y1="350.2" x2="1219.3" y2="350.2" stroke="#000" stroke-width="2.6"/><text transform="matrix(1 0 0 1.04 1208.6 361.8)" font-size="40.5" text-anchor="end">0.0</text><line x1="1209.8" y1="280.2" x2="1219.3" y2="280.2" stroke="#000" stroke-width="2.6"/><text transform="matrix(1 0 0 1.04 1208.6 291.8)" font-size="40.5" text-anchor="end">0.1</text><line x1="1209.8" y1="210.2" x2="1219.3" y2="210.2" stroke="#000" stroke-width="2.6"/><text transform="matrix(1 0 0 1.04 1208.6 221.8)" font-size="40.5" text-anchor="end">0.2</text><line x1="1209.8" y1="140.2" x2="1219.3" y2="140.2" stroke="#000" stroke-width="2.6"/><text transform="matrix(1 0 0 1.04 1208.6 151.8)" font-size="40.5" text-anchor="end">0.3</text><line x1="1209.8" y1="70.2" x2="1219.3" y2="70.2" stroke="#000" stroke-width="2.6"/><text transform="matrix(1 0 0 1.04 1208.6 81.8)" font-size="40.5" text-anchor="end">0.4</text><line x1="1219.3" y1="383.8" x2="1219.3" y2="392.8" stroke="#000" stroke-width="2.6"/><text transform="matrix(1 0 0 1.04 1219.3 425.7)" font-size="40.5" text-anchor="middle">0</text><line x1="1295.7" y1="383.8" x2="1295.7" y2="392.8" stroke="#000" stroke-width="2.6"/><text transform="matrix(1 0 0 1.04 1295.7 425.7)" font-size="40.5" text-anchor="middle">20</text><line x1="1372.1" y1="383.8" x2="1372.1" y2="392.8" stroke="#000" stroke-width="2.6"/><text transform="matrix(1 0 0 1.04 1372.1 425.7)" font-size="40.5" text-anchor="middle">40</text><line x1="1448.5" y1="383.8" x2="1448.5" y2="392.8" stroke="#000" stroke-width="2.6"/><text transform="matrix(1 0 0 1.04 1448.5 425.7)" font-size="40.5" text-anchor="middle">60</text><line x1="1524.9" y1="383.8" x2="1524.9" y2="392.8" stroke="#000" stroke-width="2.6"/><text transform="matrix(1 0 0 1.04 1524.9 425.7)" font-size="40.5" text-anchor="middle">80</text><line x1="1601.3" y1="383.8" x2="1601.3" y2="392.8" stroke="#000" stroke-width="2.6"/><text transform="matrix(1 0 0 1.04 1601.3 425.7)" font-size="40.5" text-anchor="middle">100</text><text transform="matrix(1 0 0 1.0 1333 466.3)" font-size="42.4">Time (s)</text><text transform="translate(1132.5,319) rotate(-90) scale(1,1.0)" font-size="39.5">ΔF/Δ</text><text transform="translate(1141.5,230.13) rotate(-90) scale(1.1,1)" font-size="28.0">NH4Cl</text><line x1="1283.7" y1="137.5" x2="1526.8" y2="137.5" stroke="#000" stroke-width="2.6"/><text transform="matrix(1 0 0 1.04 1352.5 129)" font-size="40">25 Hz</text><path d="M1826.55 337.58V344.75M1821.95 337.58h9.2M1821.95 344.75h9.2M1830.59 328.27V336.94M1825.99 328.27h9.2M1825.99 336.94h9.2M1834.64 320.62V329.97M1830.04 320.62h9.2M1830.04 329.97h9.2M1838.68 313.92V325.22M1834.08 313.92h9.2M1834.08 325.22h9.2M1842.73 305.96V322.05M1838.13 305.96h9.2M1838.13 322.05h9.2M1846.77 300.93V317.14M1842.17 300.93h9.2M1842.17 317.14h9.2M1850.82 296.76V312.73M1846.22 296.76h9.2M1846.22 312.73h9.2M1854.87 292.04V311.51M1850.27 292.04h9.2M1850.27 311.51h9.2M1858.91 290.51V308.31M1854.31 290.51h9.2M1854.31 308.31h9.2M1862.96 288.08V306.52M1858.36 288.08h9.2M1858.36 306.52h9.2M1867 285.37V303.62M1862.4 285.37h9.2M1862.4 303.62h9.2M1871.05 280.71V303.58M1866.45 280.71h9.2M1866.45 303.58h9.2M1875.09 278.16V303.2M1870.49 278.16h9.2M1870.49 303.2h9.2M1879.14 279.85V300.49M1874.54 279.85h9.2M1874.54 300.49h9.2M1883.18 277.35V300.96M1878.58 277.35h9.2M1878.58 300.96h9.2M1887.23 275.36V300.85M1882.63 275.36h9.2M1882.63 300.85h9.2M1891.28 272.75V300.91M1886.68 272.75h9.2M1886.68 300.91h9.2M1895.32 275.96V295.66M1890.72 275.96h9.2M1890.72 295.66h9.2M1899.37 272.57V297.57M1894.77 272.57h9.2M1894.77 297.57h9.2M1903.41 271.42V297.73M1898.81 271.42h9.2M1898.81 297.73h9.2M1907.46 272.92V295.19M1902.86 272.92h9.2M1902.86 295.19h9.2M1911.5 270.14V296.55M1906.9 270.14h9.2M1906.9 296.55h9.2M1915.55 269.73V295.95M1910.95 269.73h9.2M1910.95 295.95h9.2M1919.59 268.37V295.86M1914.99 268.37h9.2M1914.99 295.86h9.2M1923.64 269.29V294.14M1919.04 269.29h9.2M1919.04 294.14h9.2M1927.69 268.03V295.06M1923.09 268.03h9.2M1923.09 295.06h9.2M1931.73 269.48V294.42M1927.13 269.48h9.2M1927.13 294.42h9.2M1935.78 267.81V295.37M1931.18 267.81h9.2M1931.18 295.37h9.2M1939.82 268.12V294.84M1935.22 268.12h9.2M1935.22 294.84h9.2M1943.87 268.65V294.45M1939.27 268.65h9.2M1939.27 294.45h9.2M1947.91 269.74V293.62M1943.31 269.74h9.2M1943.31 293.62h9.2M1951.96 265.25V296.25M1947.36 265.25h9.2M1947.36 296.25h9.2M1956.01 264.94V295.12M1951.41 264.94h9.2M1951.41 295.12h9.2M1960.05 264.18V294.11M1955.45 264.18h9.2M1955.45 294.11h9.2M1964.1 265.32V291.96M1959.5 265.32h9.2M1959.5 291.96h9.2M1968.14 264.62V292.14M1963.54 264.62h9.2M1963.54 292.14h9.2M1972.19 262.25V294.57M1967.59 262.25h9.2M1967.59 294.57h9.2M1976.23 262.18V292.54M1971.63 262.18h9.2M1971.63 292.54h9.2M1980.28 263.11V289.93M1975.68 263.11h9.2M1975.68 289.93h9.2M1984.32 261.94V291.01M1979.72 261.94h9.2M1979.72 291.01h9.2M1988.37 261.54V291.01M1983.77 261.54h9.2M1983.77 291.01h9.2M1992.42 260.55V289.41M1987.82 260.55h9.2M1987.82 289.41h9.2M1996.46 260.03V287.32M1991.86 260.03h9.2M1991.86 287.32h9.2M2000.51 256.84V289.6M1995.91 256.84h9.2M1995.91 289.6h9.2M2004.55 257.21V288.59M1999.95 257.21h9.2M1999.95 288.59h9.2M2008.6 257.46V287.16M2004 257.46h9.2M2004 287.16h9.2M2012.64 257.93V284.49M2008.04 257.93h9.2M2008.04 284.49h9.2M2016.69 255.35V284.55M2012.09 255.35h9.2M2012.09 284.55h9.2M2020.73 253.75V284.64M2016.13 253.75h9.2M2016.13 284.64h9.2M2024.78 251.84V285.2M2020.18 251.84h9.2M2020.18 285.2h9.2M2028.83 252.97V283.49M2024.23 252.97h9.2M2024.23 283.49h9.2M2032.87 250.28V284.82M2028.27 250.28h9.2M2028.27 284.82h9.2M2036.92 251.49V283.77M2032.32 251.49h9.2M2032.32 283.77h9.2M2040.96 252.64V282.81M2036.36 252.64h9.2M2036.36 282.81h9.2M2045.01 255.16V280.15M2040.41 255.16h9.2M2040.41 280.15h9.2M2049.05 252.81V282.12M2044.45 252.81h9.2M2044.45 282.12h9.2M2053.1 252.8V281.4M2048.5 252.8h9.2M2048.5 281.4h9.2M2057.15 251.03V283.25M2052.55 251.03h9.2M2052.55 283.25h9.2M2061.19 250.18V283.77M2056.59 250.18h9.2M2056.59 283.77h9.2M2065.24 248.88V285.38M2060.64 248.88h9.2M2060.64 285.38h9.2M2069.28 250.6V283.5M2064.68 250.6h9.2M2064.68 283.5h9.2M2073.33 252.04V281.99M2068.73 252.04h9.2M2068.73 281.99h9.2M2077.37 246.93V286.33M2072.77 246.93h9.2M2072.77 286.33h9.2M2081.42 248.59V282.66M2076.82 248.59h9.2M2076.82 282.66h9.2M2085.46 249.38V282.02M2080.86 249.38h9.2M2080.86 282.02h9.2M2089.51 249.78V282.54M2084.91 249.78h9.2M2084.91 282.54h9.2M2093.56 251.77V281.7M2088.96 251.77h9.2M2088.96 281.7h9.2M2097.6 248.84V284.27M2093 248.84h9.2M2093 284.27h9.2M2101.65 249.03V283.87M2097.05 249.03h9.2M2097.05 283.87h9.2M2105.69 247.19V285.47M2101.09 247.19h9.2M2101.09 285.47h9.2M2109.74 247.47V284.55M2105.14 247.47h9.2M2105.14 284.55h9.2M2113.78 247.18V283.76M2109.18 247.18h9.2M2109.18 283.76h9.2M2117.83 246.52V284.29M2113.23 246.52h9.2M2113.23 284.29h9.2M2121.87 248.52V282.16M2117.27 248.52h9.2M2117.27 282.16h9.2M2125.92 248.42V281.74M2121.32 248.42h9.2M2121.32 281.74h9.2M2129.97 247.25V281.78M2125.37 247.25h9.2M2125.37 281.78h9.2M2134.01 248.74V280.05M2129.41 248.74h9.2M2129.41 280.05h9.2" stroke="#f00" stroke-width="1.3" fill="none"/><path d="M1739.93 354.25a5.7 5.7 0 1 0 11.4 0a5.7 5.7 0 1 0 -11.4 0M1743.98 354.35a5.7 5.7 0 1 0 11.4 0a5.7 5.7 0 1 0 -11.4 0M1748.03 354.47a5.7 5.7 0 1 0 11.4 0a5.7 5.7 0 1 0 -11.4 0M1752.07 354.69a5.7 5.7 0 1 0 11.4 0a5.7 5.7 0 1 0 -11.4 0M1756.12 354.01a5.7 5.7 0 1 0 11.4 0a5.7 5.7 0 1 0 -11.4 0M1760.16 353.97a5.7 5.7 0 1 0 11.4 0a5.7 5.7 0 1 0 -11.4 0M1764.21 354.16a5.7 5.7 0 1 0 11.4 0a5.7 5.7 0 1 0 -11.4 0M1768.25 355.21a5.7 5.7 0 1 0 11.4 0a5.7 5.7 0 1 0 -11.4 0M1772.3 355.15a5.7 5.7 0 1 0 11.4 0a5.7 5.7 0 1 0 -11.4 0M1776.34 354.57a5.7 5.7 0 1 0 11.4 0a5.7 5.7 0 1 0 -11.4 0M1780.39 353.97a5.7 5.7 0 1 0 11.4 0a5.7 5.7 0 1 0 -11.4 0M1784.44 353.66a5.7 5.7 0 1 0 11.4 0a5.7 5.7 0 1 0 -11.4 0M1788.48 353.9a5.7 5.7 0 1 0 11.4 0a5.7 5.7 0 1 0 -11.4 0M1792.53 353.37a5.7 5.7 0 1 0 11.4 0a5.7 5.7 0 1 0 -11.4 0M1796.57 353.23a5.7 5.7 0 1 0 11.4 0a5.7 5.7 0 1 0 -11.4 0M1800.62 353.66a5.7 5.7 0 1 0 11.4 0a5.7 5.7 0 1 0 -11.4 0M1804.66 354.23a5.7 5.7 0 1 0 11.4 0a5.7 5.7 0 1 0 -11.4 0M1808.71 354.41a5.7 5.7 0 1 0 11.4 0a5.7 5.7 0 1 0 -11.4 0M1812.75 354.2a5.7 5.7 0 1 0 11.4 0a5.7 5.7 0 1 0 -11.4 0M1816.8 352.75a5.7 5.7 0 1 0 11.4 0a5.7 5.7 0 1 0 -11.4 0M1820.85 341.17a5.7 5.7 0 1 0 11.4 0a5.7 5.7 0 1 0 -11.4 0M1824.89 332.61a5.7 5.7 0 1 0 11.4 0a5.7 5.7 0 1 0 -11.4 0M1828.94 325.3a5.7 5.7 0 1 0 11.4 0a5.7 5.7 0 1 0 -11.4 0M1832.98 319.57a5.7 5.7 0 1 0 11.4 0a5.7 5.7 0 1 0 -11.4 0M1837.03 314a5.7 5.7 0 1 0 11.4 0a5.7 5.7 0 1 0 -11.4 0M1841.07 309.04a5.7 5.7 0 1 0 11.4 0a5.7 5.7 0 1 0 -11.4 0M1845.12 304.75a5.7 5.7 0 1 0 11.4 0a5.7 5.7 0 1 0 -11.4 0M1849.17 301.78a5.7 5.7 0 1 0 11.4 0a5.7 5.7 0 1 0 -11.4 0M1853.21 299.41a5.7 5.7 0 1 0 11.4 0a5.7 5.7 0 1 0 -11.4 0M1857.26 297.3a5.7 5.7 0 1 0 11.4 0a5.7 5.7 0 1 0 -11.4 0M1861.3 294.49a5.7 5.7 0 1 0 11.4 0a5.7 5.7 0 1 0 -11.4 0M1865.35 292.14a5.7 5.7 0 1 0 11.4 0a5.7 5.7 0 1 0 -11.4 0M1869.39 290.68a5.7 5.7 0 1 0 11.4 0a5.7 5.7 0 1 0 -11.4 0M1873.44 290.17a5.7 5.7 0 1 0 11.4 0a5.7 5.7 0 1 0 -11.4 0M1877.48 289.16a5.7 5.7 0 1 0 11.4 0a5.7 5.7 0 1 0 -11.4 0M1881.53 288.11a5.7 5.7 0 1 0 11.4 0a5.7 5.7 0 1 0 -11.4 0M1885.58 286.83a5.7 5.7 0 1 0 11.4 0a5.7 5.7 0 1 0 -11.4 0M1889.62 285.81a5.7 5.7 0 1 0 11.4 0a5.7 5.7 0 1 0 -11.4 0M1893.67 285.07a5.7 5.7 0 1 0 11.4 0a5.7 5.7 0 1 0 -11.4 0M1897.71 284.57a5.7 5.7 0 1 0 11.4 0a5.7 5.7 0 1 0 -11.4 0M1901.76 284.05a5.7 5.7 0 1 0 11.4 0a5.7 5.7 0 1 0 -11.4 0M1905.8 283.34a5.7 5.7 0 1 0 11.4 0a5.7 5.7 0 1 0 -11.4 0M1909.85 282.84a5.7 5.7 0 1 0 11.4 0a5.7 5.7 0 1 0 -11.4 0M1913.89 282.12a5.7 5.7 0 1 0 11.4 0a5.7 5.7 0 1 0 -11.4 0M1917.94 281.72a5.7 5.7 0 1 0 11.4 0a5.7 5.7 0 1 0 -11.4 0M1921.99 281.55a5.7 5.7 0 1 0 11.4 0a5.7 5.7 0 1 0 -11.4 0M1926.03 281.95a5.7 5.7 0 1 0 11.4 0a5.7 5.7 0 1 0 -11.4 0M1930.08 281.59a5.7 5.7 0 1 0 11.4 0a5.7 5.7 0 1 0 -11.4 0M1934.12 281.48a5.7 5.7 0 1 0 11.4 0a5.7 5.7 0 1 0 -11.4 0M1938.17 281.55a5.7 5.7 0 1 0 11.4 0a5.7 5.7 0 1 0 -11.4 0M1942.21 281.68a5.7 5.7 0 1 0 11.4 0a5.7 5.7 0 1 0 -11.4 0M1946.26 280.75a5.7 5.7 0 1 0 11.4 0a5.7 5.7 0 1 0 -11.4 0M1950.31 280.03a5.7 5.7 0 1 0 11.4 0a5.7 5.7 0 1 0 -11.4 0M1954.35 279.14a5.7 5.7 0 1 0 11.4 0a5.7 5.7 0 1 0 -11.4 0M1958.4 278.64a5.7 5.7 0 1 0 11.4 0a5.7 5.7 0 1 0 -11.4 0M1962.44 278.38a5.7 5.7 0 1 0 11.4 0a5.7 5.7 0 1 0 -11.4 0M1966.49 278.41a5.7 5.7 0 1 0 11.4 0a5.7 5.7 0 1 0 -11.4 0M1970.53 277.36a5.7 5.7 0 1 0 11.4 0a5.7 5.7 0 1 0 -11.4 0M1974.58 276.52a5.7 5.7 0 1 0 11.4 0a5.7 5.7 0 1 0 -11.4 0M1978.62 276.48a5.7 5.7 0 1 0 11.4 0a5.7 5.7 0 1 0 -11.4 0M1982.67 276.28a5.7 5.7 0 1 0 11.4 0a5.7 5.7 0 1 0 -11.4 0M1986.72 274.98a5.7 5.7 0 1 0 11.4 0a5.7 5.7 0 1 0 -11.4 0M1990.76 273.67a5.7 5.7 0 1 0 11.4 0a5.7 5.7 0 1 0 -11.4 0M1994.81 273.22a5.7 5.7 0 1 0 11.4 0a5.7 5.7 0 1 0 -11.4 0M1998.85 272.9a5.7 5.7 0 1 0 11.4 0a5.7 5.7 0 1 0 -11.4 0M2002.9 272.31a5.7 5.7 0 1 0 11.4 0a5.7 5.7 0 1 0 -11.4 0M2006.94 271.21a5.7 5.7 0 1 0 11.4 0a5.7 5.7 0 1 0 -11.4 0M2010.99 269.95a5.7 5.7 0 1 0 11.4 0a5.7 5.7 0 1 0 -11.4 0M2015.03 269.2a5.7 5.7 0 1 0 11.4 0a5.7 5.7 0 1 0 -11.4 0M2019.08 268.52a5.7 5.7 0 1 0 11.4 0a5.7 5.7 0 1 0 -11.4 0M2023.13 268.23a5.7 5.7 0 1 0 11.4 0a5.7 5.7 0 1 0 -11.4 0M2027.17 267.55a5.7 5.7 0 1 0 11.4 0a5.7 5.7 0 1 0 -11.4 0M2031.22 267.63a5.7 5.7 0 1 0 11.4 0a5.7 5.7 0 1 0 -11.4 0M2035.26 267.72a5.7 5.7 0 1 0 11.4 0a5.7 5.7 0 1 0 -11.4 0M2039.31 267.65a5.7 5.7 0 1 0 11.4 0a5.7 5.7 0 1 0 -11.4 0M2043.35 267.47a5.7 5.7 0 1 0 11.4 0a5.7 5.7 0 1 0 -11.4 0M2047.4 267.1a5.7 5.7 0 1 0 11.4 0a5.7 5.7 0 1 0 -11.4 0M2051.45 267.14a5.7 5.7 0 1 0 11.4 0a5.7 5.7 0 1 0 -11.4 0M2055.49 266.97a5.7 5.7 0 1 0 11.4 0a5.7 5.7 0 1 0 -11.4 0M2059.54 267.13a5.7 5.7 0 1 0 11.4 0a5.7 5.7 0 1 0 -11.4 0M2063.58 267.05a5.7 5.7 0 1 0 11.4 0a5.7 5.7 0 1 0 -11.4 0M2067.63 267.01a5.7 5.7 0 1 0 11.4 0a5.7 5.7 0 1 0 -11.4 0M2071.67 266.63a5.7 5.7 0 1 0 11.4 0a5.7 5.7 0 1 0 -11.4 0M2075.72 265.62a5.7 5.7 0 1 0 11.4 0a5.7 5.7 0 1 0 -11.4 0M2079.76 265.7a5.7 5.7 0 1 0 11.4 0a5.7 5.7 0 1 0 -11.4 0M2083.81 266.16a5.7 5.7 0 1 0 11.4 0a5.7 5.7 0 1 0 -11.4 0M2087.86 266.74a5.7 5.7 0 1 0 11.4 0a5.7 5.7 0 1 0 -11.4 0M2091.9 266.56a5.7 5.7 0 1 0 11.4 0a5.7 5.7 0 1 0 -11.4 0M2095.95 266.45a5.7 5.7 0 1 0 11.4 0a5.7 5.7 0 1 0 -11.4 0M2099.99 266.33a5.7 5.7 0 1 0 11.4 0a5.7 5.7 0 1 0 -11.4 0M2104.04 266.01a5.7 5.7 0 1 0 11.4 0a5.7 5.7 0 1 0 -11.4 0M2108.08 265.47a5.7 5.7 0 1 0 11.4 0a5.7 5.7 0 1 0 -11.4 0M2112.13 265.4a5.7 5.7 0 1 0 11.4 0a5.7 5.7 0 1 0 -11.4 0M2116.17 265.34a5.7 5.7 0 1 0 11.4 0a5.7 5.7 0 1 0 -11.4 0M2120.22 265.08a5.7 5.7 0 1 0 11.4 0a5.7 5.7 0 1 0 -11.4 0M2124.27 264.52a5.7 5.7 0 1 0 11.4 0a5.7 5.7 0 1 0 -11.4 0M2128.31 264.4a5.7 5.7 0 1 0 11.4 0a5.7 5.7 0 1 0 -11.4 0" fill="#f00"/><path d="M1826.55 319.44V326.59M1821.95 319.44h9.2M1821.95 326.59h9.2M1830.59 306.31V314.68M1825.99 306.31h9.2M1825.99 314.68h9.2M1834.64 291.7V301.43M1830.04 291.7h9.2M1830.04 301.43h9.2M1838.68 278.99V291.04M1834.08 278.99h9.2M1834.08 291.04h9.2M1842.73 265.39V278.92M1838.13 265.39h9.2M1838.13 278.92h9.2M1846.77 252.52V265.81M1842.17 252.52h9.2M1842.17 265.81h9.2M1850.82 238.19V254.7M1846.22 238.19h9.2M1846.22 254.7h9.2M1854.87 228.48V242.82M1850.27 228.48h9.2M1850.27 242.82h9.2M1858.91 216.88V236M1854.31 216.88h9.2M1854.31 236h9.2M1862.96 207.62V230.44M1858.36 207.62h9.2M1858.36 230.44h9.2M1867 202.84V223.22M1862.4 202.84h9.2M1862.4 223.22h9.2M1871.05 196.65V218.31M1866.45 196.65h9.2M1866.45 218.31h9.2M1875.09 191.49V213.91M1870.49 191.49h9.2M1870.49 213.91h9.2M1879.14 186.06V211.09M1874.54 186.06h9.2M1874.54 211.09h9.2M1883.18 183.15V206.79M1878.58 183.15h9.2M1878.58 206.79h9.2M1887.23 178.86V205.63M1882.63 178.86h9.2M1882.63 205.63h9.2M1891.28 177.35V203.02M1886.68 177.35h9.2M1886.68 203.02h9.2M1895.32 174.81V200.9M1890.72 174.81h9.2M1890.72 200.9h9.2M1899.37 172.18V200.12M1894.77 172.18h9.2M1894.77 200.12h9.2M1903.41 170.91V199.02M1898.81 170.91h9.2M1898.81 199.02h9.2M1907.46 171.92V196.68M1902.86 171.92h9.2M1902.86 196.68h9.2M1911.5 166.5V200.4M1906.9 166.5h9.2M1906.9 200.4h9.2M1915.55 167.67V197.45M1910.95 167.67h9.2M1910.95 197.45h9.2M1919.59 168.93V194.72M1914.99 168.93h9.2M1914.99 194.72h9.2M1923.64 165.22V197.93M1919.04 165.22h9.2M1919.04 197.93h9.2M1927.69 166.3V196.72M1923.09 166.3h9.2M1923.09 196.72h9.2M1931.73 165.42V196.72M1927.13 165.42h9.2M1927.13 196.72h9.2M1935.78 163.82V196.57M1931.18 163.82h9.2M1931.18 196.57h9.2M1939.82 165.21V194.11M1935.22 165.21h9.2M1935.22 194.11h9.2M1943.87 166.91V190.76M1939.27 166.91h9.2M1939.27 190.76h9.2M1947.91 162.8V193.66M1943.31 162.8h9.2M1943.31 193.66h9.2M1951.96 162.33V194.04M1947.36 162.33h9.2M1947.36 194.04h9.2M1956.01 161.73V195.31M1951.41 161.73h9.2M1951.41 195.31h9.2M1960.05 163.45V192.7M1955.45 163.45h9.2M1955.45 192.7h9.2M1964.1 162.24V192.7M1959.5 162.24h9.2M1959.5 192.7h9.2M1968.14 161.58V193.67M1963.54 161.58h9.2M1963.54 193.67h9.2M1972.19 162.32V192.65M1967.59 162.32h9.2M1967.59 192.65h9.2M1976.23 161.49V191.98M1971.63 161.49h9.2M1971.63 191.98h9.2M1980.28 159.2V190.94M1975.68 159.2h9.2M1975.68 190.94h9.2M1984.32 160.38V189.03M1979.72 160.38h9.2M1979.72 189.03h9.2M1988.37 156.52V191.53M1983.77 156.52h9.2M1983.77 191.53h9.2M1992.42 159.32V188.15M1987.82 159.32h9.2M1987.82 188.15h9.2M1996.46 156.98V188.18M1991.86 156.98h9.2M1991.86 188.18h9.2M2000.51 157.2V187.5M1995.91 157.2h9.2M1995.91 187.5h9.2M2004.55 157.08V186.45M1999.95 157.08h9.2M1999.95 186.45h9.2M2008.6 154.86V187.29M2004 154.86h9.2M2004 187.29h9.2M2012.64 153.51V187.1M2008.04 153.51h9.2M2008.04 187.1h9.2M2016.69 152.25V186.94M2012.09 152.25h9.2M2012.09 186.94h9.2M2020.73 152.98V185.52M2016.13 152.98h9.2M2016.13 185.52h9.2M2024.78 153.93V183.93M2020.18 153.93h9.2M2020.18 183.93h9.2M2028.83 152.15V185.38M2024.23 152.15h9.2M2024.23 185.38h9.2M2032.87 154.6V182.14M2028.27 154.6h9.2M2028.27 182.14h9.2M2036.92 152.27V183.49M2032.32 152.27h9.2M2032.32 183.49h9.2M2040.96 150.83V183.23M2036.36 150.83h9.2M2036.36 183.23h9.2M2045.01 150.4V182.94M2040.41 150.4h9.2M2040.41 182.94h9.2M2049.05 152.68V181.07M2044.45 152.68h9.2M2044.45 181.07h9.2M2053.1 153.06V180.69M2048.5 153.06h9.2M2048.5 180.69h9.2M2057.15 147.83V183.46M2052.55 147.83h9.2M2052.55 183.46h9.2M2061.19 149.29V179.63M2056.59 149.29h9.2M2056.59 179.63h9.2M2065.24 150.02V177.65M2060.64 150.02h9.2M2060.64 177.65h9.2M2069.28 149.21V178M2064.68 149.21h9.2M2064.68 178h9.2M2073.33 147.7V179.82M2068.73 147.7h9.2M2068.73 179.82h9.2M2077.37 146.33V181.57M2072.77 146.33h9.2M2072.77 181.57h9.2M2081.42 148.45V180.78M2076.82 148.45h9.2M2076.82 180.78h9.2M2085.46 146.84V182.36M2080.86 146.84h9.2M2080.86 182.36h9.2M2089.51 147.56V180.65M2084.91 147.56h9.2M2084.91 180.65h9.2M2093.56 146.65V180.43M2088.96 146.65h9.2M2088.96 180.43h9.2M2097.6 146.31V181.49M2093 146.31h9.2M2093 181.49h9.2M2101.65 148.39V180.1M2097.05 148.39h9.2M2097.05 180.1h9.2M2105.69 146.81V180.32M2101.09 146.81h9.2M2101.09 180.32h9.2M2109.74 146.58V178.36M2105.14 146.58h9.2M2105.14 178.36h9.2M2113.78 145.68V176.85M2109.18 145.68h9.2M2109.18 176.85h9.2M2117.83 143.41V178M2113.23 143.41h9.2M2113.23 178h9.2M2121.87 145.98V176.75M2117.27 145.98h9.2M2117.27 176.75h9.2M2125.92 146.18V179.33M2121.32 146.18h9.2M2121.32 179.33h9.2M2129.97 147.62V178.51M2125.37 147.62h9.2M2125.37 178.51h9.2M2134.01 146.05V178.8M2129.41 146.05h9.2M2129.41 178.8h9.2" stroke="#000" stroke-width="1.3" fill="none"/><path d="M1739.93 350.21a5.7 5.7 0 1 0 11.4 0a5.7 5.7 0 1 0 -11.4 0M1743.98 349.85a5.7 5.7 0 1 0 11.4 0a5.7 5.7 0 1 0 -11.4 0M1748.03 349.57a5.7 5.7 0 1 0 11.4 0a5.7 5.7 0 1 0 -11.4 0M1752.07 349.92a5.7 5.7 0 1 0 11.4 0a5.7 5.7 0 1 0 -11.4 0M1756.12 350.19a5.7 5.7 0 1 0 11.4 0a5.7 5.7 0 1 0 -11.4 0M1760.16 349.71a5.7 5.7 0 1 0 11.4 0a5.7 5.7 0 1 0 -11.4 0M1764.21 349.74a5.7 5.7 0 1 0 11.4 0a5.7 5.7 0 1 0 -11.4 0M1768.25 350.43a5.7 5.7 0 1 0 11.4 0a5.7 5.7 0 1 0 -11.4 0M1772.3 350.88a5.7 5.7 0 1 0 11.4 0a5.7 5.7 0 1 0 -11.4 0M1776.34 350.77a5.7 5.7 0 1 0 11.4 0a5.7 5.7 0 1 0 -11.4 0M1780.39 350.75a5.7 5.7 0 1 0 11.4 0a5.7 5.7 0 1 0 -11.4 0M1784.44 350.5a5.7 5.7 0 1 0 11.4 0a5.7 5.7 0 1 0 -11.4 0M1788.48 350.23a5.7 5.7 0 1 0 11.4 0a5.7 5.7 0 1 0 -11.4 0M1792.53 349.96a5.7 5.7 0 1 0 11.4 0a5.7 5.7 0 1 0 -11.4 0M1796.57 349.68a5.7 5.7 0 1 0 11.4 0a5.7 5.7 0 1 0 -11.4 0M1800.62 349.65a5.7 5.7 0 1 0 11.4 0a5.7 5.7 0 1 0 -11.4 0M1804.66 349.86a5.7 5.7 0 1 0 11.4 0a5.7 5.7 0 1 0 -11.4 0M1808.71 349.58a5.7 5.7 0 1 0 11.4 0a5.7 5.7 0 1 0 -11.4 0M1812.75 349.22a5.7 5.7 0 1 0 11.4 0a5.7 5.7 0 1 0 -11.4 0M1816.8 337.41a5.7 5.7 0 1 0 11.4 0a5.7 5.7 0 1 0 -11.4 0M1820.85 323.01a5.7 5.7 0 1 0 11.4 0a5.7 5.7 0 1 0 -11.4 0M1824.89 310.5a5.7 5.7 0 1 0 11.4 0a5.7 5.7 0 1 0 -11.4 0M1828.94 296.57a5.7 5.7 0 1 0 11.4 0a5.7 5.7 0 1 0 -11.4 0M1832.98 285.02a5.7 5.7 0 1 0 11.4 0a5.7 5.7 0 1 0 -11.4 0M1837.03 272.16a5.7 5.7 0 1 0 11.4 0a5.7 5.7 0 1 0 -11.4 0M1841.07 259.17a5.7 5.7 0 1 0 11.4 0a5.7 5.7 0 1 0 -11.4 0M1845.12 246.44a5.7 5.7 0 1 0 11.4 0a5.7 5.7 0 1 0 -11.4 0M1849.17 235.65a5.7 5.7 0 1 0 11.4 0a5.7 5.7 0 1 0 -11.4 0M1853.21 226.44a5.7 5.7 0 1 0 11.4 0a5.7 5.7 0 1 0 -11.4 0M1857.26 219.03a5.7 5.7 0 1 0 11.4 0a5.7 5.7 0 1 0 -11.4 0M1861.3 213.03a5.7 5.7 0 1 0 11.4 0a5.7 5.7 0 1 0 -11.4 0M1865.35 207.48a5.7 5.7 0 1 0 11.4 0a5.7 5.7 0 1 0 -11.4 0M1869.39 202.7a5.7 5.7 0 1 0 11.4 0a5.7 5.7 0 1 0 -11.4 0M1873.44 198.57a5.7 5.7 0 1 0 11.4 0a5.7 5.7 0 1 0 -11.4 0M1877.48 194.97a5.7 5.7 0 1 0 11.4 0a5.7 5.7 0 1 0 -11.4 0M1881.53 192.25a5.7 5.7 0 1 0 11.4 0a5.7 5.7 0 1 0 -11.4 0M1885.58 190.18a5.7 5.7 0 1 0 11.4 0a5.7 5.7 0 1 0 -11.4 0M1889.62 187.85a5.7 5.7 0 1 0 11.4 0a5.7 5.7 0 1 0 -11.4 0M1893.67 186.15a5.7 5.7 0 1 0 11.4 0a5.7 5.7 0 1 0 -11.4 0M1897.71 184.97a5.7 5.7 0 1 0 11.4 0a5.7 5.7 0 1 0 -11.4 0M1901.76 184.3a5.7 5.7 0 1 0 11.4 0a5.7 5.7 0 1 0 -11.4 0M1905.8 183.45a5.7 5.7 0 1 0 11.4 0a5.7 5.7 0 1 0 -11.4 0M1909.85 182.56a5.7 5.7 0 1 0 11.4 0a5.7 5.7 0 1 0 -11.4 0M1913.89 181.82a5.7 5.7 0 1 0 11.4 0a5.7 5.7 0 1 0 -11.4 0M1917.94 181.58a5.7 5.7 0 1 0 11.4 0a5.7 5.7 0 1 0 -11.4 0M1921.99 181.51a5.7 5.7 0 1 0 11.4 0a5.7 5.7 0 1 0 -11.4 0M1926.03 181.07a5.7 5.7 0 1 0 11.4 0a5.7 5.7 0 1 0 -11.4 0M1930.08 180.19a5.7 5.7 0 1 0 11.4 0a5.7 5.7 0 1 0 -11.4 0M1934.12 179.66a5.7 5.7 0 1 0 11.4 0a5.7 5.7 0 1 0 -11.4 0M1938.17 178.84a5.7 5.7 0 1 0 11.4 0a5.7 5.7 0 1 0 -11.4 0M1942.21 178.23a5.7 5.7 0 1 0 11.4 0a5.7 5.7 0 1 0 -11.4 0M1946.26 178.19a5.7 5.7 0 1 0 11.4 0a5.7 5.7 0 1 0 -11.4 0M1950.31 178.52a5.7 5.7 0 1 0 11.4 0a5.7 5.7 0 1 0 -11.4 0M1954.35 178.07a5.7 5.7 0 1 0 11.4 0a5.7 5.7 0 1 0 -11.4 0M1958.4 177.47a5.7 5.7 0 1 0 11.4 0a5.7 5.7 0 1 0 -11.4 0M1962.44 177.62a5.7 5.7 0 1 0 11.4 0a5.7 5.7 0 1 0 -11.4 0M1966.49 177.48a5.7 5.7 0 1 0 11.4 0a5.7 5.7 0 1 0 -11.4 0M1970.53 176.73a5.7 5.7 0 1 0 11.4 0a5.7 5.7 0 1 0 -11.4 0M1974.58 175.07a5.7 5.7 0 1 0 11.4 0a5.7 5.7 0 1 0 -11.4 0M1978.62 174.7a5.7 5.7 0 1 0 11.4 0a5.7 5.7 0 1 0 -11.4 0M1982.67 174.03a5.7 5.7 0 1 0 11.4 0a5.7 5.7 0 1 0 -11.4 0M1986.72 173.73a5.7 5.7 0 1 0 11.4 0a5.7 5.7 0 1 0 -11.4 0M1990.76 172.58a5.7 5.7 0 1 0 11.4 0a5.7 5.7 0 1 0 -11.4 0M1994.81 172.35a5.7 5.7 0 1 0 11.4 0a5.7 5.7 0 1 0 -11.4 0M1998.85 171.77a5.7 5.7 0 1 0 11.4 0a5.7 5.7 0 1 0 -11.4 0M2002.9 171.07a5.7 5.7 0 1 0 11.4 0a5.7 5.7 0 1 0 -11.4 0M2006.94 170.31a5.7 5.7 0 1 0 11.4 0a5.7 5.7 0 1 0 -11.4 0M2010.99 169.59a5.7 5.7 0 1 0 11.4 0a5.7 5.7 0 1 0 -11.4 0M2015.03 169.25a5.7 5.7 0 1 0 11.4 0a5.7 5.7 0 1 0 -11.4 0M2019.08 168.93a5.7 5.7 0 1 0 11.4 0a5.7 5.7 0 1 0 -11.4 0M2023.13 168.77a5.7 5.7 0 1 0 11.4 0a5.7 5.7 0 1 0 -11.4 0M2027.17 168.37a5.7 5.7 0 1 0 11.4 0a5.7 5.7 0 1 0 -11.4 0M2031.22 167.88a5.7 5.7 0 1 0 11.4 0a5.7 5.7 0 1 0 -11.4 0M2035.26 167.03a5.7 5.7 0 1 0 11.4 0a5.7 5.7 0 1 0 -11.4 0M2039.31 166.67a5.7 5.7 0 1 0 11.4 0a5.7 5.7 0 1 0 -11.4 0M2043.35 166.87a5.7 5.7 0 1 0 11.4 0a5.7 5.7 0 1 0 -11.4 0M2047.4 166.88a5.7 5.7 0 1 0 11.4 0a5.7 5.7 0 1 0 -11.4 0M2051.45 165.65a5.7 5.7 0 1 0 11.4 0a5.7 5.7 0 1 0 -11.4 0M2055.49 164.46a5.7 5.7 0 1 0 11.4 0a5.7 5.7 0 1 0 -11.4 0M2059.54 163.84a5.7 5.7 0 1 0 11.4 0a5.7 5.7 0 1 0 -11.4 0M2063.58 163.6a5.7 5.7 0 1 0 11.4 0a5.7 5.7 0 1 0 -11.4 0M2067.63 163.76a5.7 5.7 0 1 0 11.4 0a5.7 5.7 0 1 0 -11.4 0M2071.67 163.95a5.7 5.7 0 1 0 11.4 0a5.7 5.7 0 1 0 -11.4 0M2075.72 164.62a5.7 5.7 0 1 0 11.4 0a5.7 5.7 0 1 0 -11.4 0M2079.76 164.6a5.7 5.7 0 1 0 11.4 0a5.7 5.7 0 1 0 -11.4 0M2083.81 164.11a5.7 5.7 0 1 0 11.4 0a5.7 5.7 0 1 0 -11.4 0M2087.86 163.54a5.7 5.7 0 1 0 11.4 0a5.7 5.7 0 1 0 -11.4 0M2091.9 163.9a5.7 5.7 0 1 0 11.4 0a5.7 5.7 0 1 0 -11.4 0M2095.95 164.25a5.7 5.7 0 1 0 11.4 0a5.7 5.7 0 1 0 -11.4 0M2099.99 163.57a5.7 5.7 0 1 0 11.4 0a5.7 5.7 0 1 0 -11.4 0M2104.04 162.47a5.7 5.7 0 1 0 11.4 0a5.7 5.7 0 1 0 -11.4 0M2108.08 161.26a5.7 5.7 0 1 0 11.4 0a5.7 5.7 0 1 0 -11.4 0M2112.13 160.71a5.7 5.7 0 1 0 11.4 0a5.7 5.7 0 1 0 -11.4 0M2116.17 161.37a5.7 5.7 0 1 0 11.4 0a5.7 5.7 0 1 0 -11.4 0M2120.22 162.75a5.7 5.7 0 1 0 11.4 0a5.7 5.7 0 1 0 -11.4 0M2124.27 163.06a5.7 5.7 0 1 0 11.4 0a5.7 5.7 0 1 0 -11.4 0M2128.31 162.42a5.7 5.7 0 1 0 11.4 0a5.7 5.7 0 1 0 -11.4 0" fill="#000"/><line x1="1743.3" y1="71.1" x2="1743.3" y2="385.75" stroke="#000" stroke-width="2.8"/><line x1="1741.9" y1="384.3" x2="2132.5" y2="384.3" stroke="#000" stroke-width="2.9"/><line x1="1733.8" y1="350.2" x2="1743.3" y2="350.2" stroke="#000" stroke-width="2.6"/><text transform="matrix(1 0 0 1.04 1732.5 361.8)" font-size="40.5" text-anchor="end">0.0</text><line x1="1733.8" y1="280.2" x2="1743.3" y2="280.2" stroke="#000" stroke-width="2.6"/><text transform="matrix(1 0 0 1.04 1732.5 291.8)" font-size="40.5" text-anchor="end">0.1</text><line x1="1733.8" y1="210.2" x2="1743.3" y2="210.2" stroke="#000" stroke-width="2.6"/><text transform="matrix(1 0 0 1.04 1732.5 221.8)" font-size="40.5" text-anchor="end">0.2</text><line x1="1733.8" y1="140.2" x2="1743.3" y2="140.2" stroke="#000" stroke-width="2.6"/><text transform="matrix(1 0 0 1.04 1732.5 151.8)" font-size="40.5" text-anchor="end">0.3</text><line x1="1733.8" y1="70.2" x2="1743.3" y2="70.2" stroke="#000" stroke-width="2.6"/><text transform="matrix(1 0 0 1.04 1732.5 81.8)" font-size="40.5" text-anchor="end">0.4</text><line x1="1743.3" y1="384.3" x2="1743.3" y2="393.3" stroke="#000" stroke-width="2.6"/><text transform="matrix(1 0 0 1.04 1743.3 426)" font-size="40.5" text-anchor="middle">0</text><line x1="1821.1" y1="384.3" x2="1821.1" y2="393.3" stroke="#000" stroke-width="2.6"/><text transform="matrix(1 0 0 1.04 1821.1 426)" font-size="40.5" text-anchor="middle">20</text><line x1="1898.9" y1="384.3" x2="1898.9" y2="393.3" stroke="#000" stroke-width="2.6"/><text transform="matrix(1 0 0 1.04 1898.9 426)" font-size="40.5" text-anchor="middle">40</text><line x1="1976.7" y1="384.3" x2="1976.7" y2="393.3" stroke="#000" stroke-width="2.6"/><text transform="matrix(1 0 0 1.04 1976.7 426)" font-size="40.5" text-anchor="middle">60</text><line x1="2054.5" y1="384.3" x2="2054.5" y2="393.3" stroke="#000" stroke-width="2.6"/><text transform="matrix(1 0 0 1.04 2054.5 426)" font-size="40.5" text-anchor="middle">80</text><line x1="2132.3" y1="384.3" x2="2132.3" y2="393.3" stroke="#000" stroke-width="2.6"/><text transform="matrix(1 0 0 1.04 2132.3 426)" font-size="40.5" text-anchor="middle">100</text><text transform="matrix(1 0 0 1.0 1859.8 466.7)" font-size="42.4">Time (s)</text><text transform="translate(1657.6,320.5) rotate(-90) scale(1,1.0)" font-size="39.5">ΔF/Δ</text><text transform="translate(1666.6,231.63) rotate(-90) scale(1.1,1)" font-size="28.0">NH4Cl</text><line x1="1816.3" y1="133" x2="2058.6" y2="133" stroke="#000" stroke-width="2.6"/><text transform="matrix(1 0 0 1.04 1883 121.8)" font-size="40">50 Hz</text><path d="M194 734.47V750.04M187 734.47h14M187 750.04h14M267.1 733.46V738.49M260.1 733.46h14M260.1 738.49h14M340.2 701.81V717.39M333.2 701.81h14M333.2 717.39h14M413.3 685.74V703.32M406.3 685.74h14M406.3 703.32h14M486.4 641.27V662.37M479.4 641.27h14M479.4 662.37h14" stroke="#f00" stroke-width="2.0" fill="none"/><polyline fill="none" stroke="#f00" stroke-width="2.7" points="194,742.26 267.1,735.98 340.2,709.6 413.3,694.53 486.4,651.82"/><path d="M187.8 742.26a6.2 6.2 0 1 0 12.4 0a6.2 6.2 0 1 0 -12.4 0M260.9 735.98a6.2 6.2 0 1 0 12.4 0a6.2 6.2 0 1 0 -12.4 0M334 709.6a6.2 6.2 0 1 0 12.4 0a6.2 6.2 0 1 0 -12.4 0M407.1 694.53a6.2 6.2 0 1 0 12.4 0a6.2 6.2 0 1 0 -12.4 0M480.2 651.82a6.2 6.2 0 1 0 12.4 0a6.2 6.2 0 1 0 -12.4 0" fill="#f00"/><path d="M194 723.42V753.56M187 723.42h14M187 753.56h14M267.1 718.39V733.46M260.1 718.39h14M260.1 733.46h14M340.2 688.25V710.86M333.2 688.25h14M333.2 710.86h14M413.3 680.71V703.32M406.3 680.71h14M406.3 703.32h14M486.4 646.8V684.48M479.4 646.8h14M479.4 684.48h14" stroke="#222" stroke-width="2.0" fill="none"/><polyline fill="none" stroke="#000" stroke-width="2.7" points="194,738.49 267.1,725.93 340.2,699.55 413.3,692.02 486.4,665.64"/><path d="M187.8 738.49a6.2 6.2 0 1 0 12.4 0a6.2 6.2 0 1 0 -12.4 0M260.9 725.93a6.2 6.2 0 1 0 12.4 0a6.2 6.2 0 1 0 -12.4 0M334 699.55a6.2 6.2 0 1 0 12.4 0a6.2 6.2 0 1 0 -12.4 0M407.1 692.02a6.2 6.2 0 1 0 12.4 0a6.2 6.2 0 1 0 -12.4 0M480.2 665.64a6.2 6.2 0 1 0 12.4 0a6.2 6.2 0 1 0 -12.4 0" fill="#000"/><line x1="146.2" y1="489.8" x2="146.2" y2="805.65" stroke="#000" stroke-width="2.8"/><line x1="144.8" y1="804.2" x2="536.5" y2="804.2" stroke="#000" stroke-width="2.9"/><line x1="136.7" y1="741" x2="146.2" y2="741" stroke="#000" stroke-width="2.6"/><text transform="matrix(1 0 0 1.04 130.5 752.6)" font-size="40.5" text-anchor="end">0.00</text><line x1="136.7" y1="615.4" x2="146.2" y2="615.4" stroke="#000" stroke-width="2.6"/><text transform="matrix(1 0 0 1.04 130.5 627)" font-size="40.5" text-anchor="end">0.01</text><line x1="136.7" y1="489.8" x2="146.2" y2="489.8" stroke="#000" stroke-width="2.6"/><text transform="matrix(1 0 0 1.04 130.5 501.4)" font-size="40.5" text-anchor="end">0.02</text><line x1="194" y1="804.2" x2="194" y2="813.7" stroke="#000" stroke-width="2.6"/><text transform="matrix(1 0 0 1.04 194 845.8)" font-size="40.5" text-anchor="middle">0</text><line x1="267.1" y1="804.2" x2="267.1" y2="813.7" stroke="#000" stroke-width="2.6"/><text transform="matrix(1 0 0 1.04 267.1 845.8)" font-size="40.5" text-anchor="middle">1</text><line x1="340.2" y1="804.2" x2="340.2" y2="813.7" stroke="#000" stroke-width="2.6"/><text transform="matrix(1 0 0 1.04 340.2 845.8)" font-size="40.5" text-anchor="middle">2</text><line x1="413.3" y1="804.2" x2="413.3" y2="813.7" stroke="#000" stroke-width="2.6"/><text transform="matrix(1 0 0 1.04 413.3 845.8)" font-size="40.5" text-anchor="middle">3</text><line x1="486.4" y1="804.2" x2="486.4" y2="813.7" stroke="#000" stroke-width="2.6"/><text transform="matrix(1 0 0 1.04 486.4 845.8)" font-size="40.5" text-anchor="middle">4</text><text transform="matrix(1 0 0 1.04 268.2 880.3)" font-size="40.1">Time (s)</text><text transform="translate(33.5,748.8) rotate(-90) scale(1,1.0)" font-size="39.0">ΔF/ΔF</text><text transform="translate(42.1,634.62) rotate(-90) scale(1.035,1)" font-size="28.0">NH4Cl</text><path d="M808.5 678.05V685.02M801.5 678.05h14M801.5 685.02h14M881.4 622.92V642.46M874.4 622.92h14M874.4 642.46h14M954.3 598.96V610.59M947.3 598.96h14M947.3 610.59h14M1027.2 555.93V572.21M1020.2 555.93h14M1020.2 572.21h14" stroke="#a22" stroke-width="2.0" fill="none"/><polyline fill="none" stroke="#f00" stroke-width="2.7" points="735.6,742.01 808.5,681.53 881.4,632.69 954.3,604.78 1027.2,564.07"/><path d="M729.4 742.01a6.2 6.2 0 1 0 12.4 0a6.2 6.2 0 1 0 -12.4 0M802.3 681.53a6.2 6.2 0 1 0 12.4 0a6.2 6.2 0 1 0 -12.4 0M875.2 632.69a6.2 6.2 0 1 0 12.4 0a6.2 6.2 0 1 0 -12.4 0M948.1 604.78a6.2 6.2 0 1 0 12.4 0a6.2 6.2 0 1 0 -12.4 0M1021 564.07a6.2 6.2 0 1 0 12.4 0a6.2 6.2 0 1 0 -12.4 0" fill="#f00"/><path d="M808.5 680.37V687.35M801.5 680.37h14M801.5 687.35h14M881.4 622.92V642.46M874.4 622.92h14M874.4 642.46h14M954.3 594.31V605.94M947.3 594.31h14M947.3 605.94h14M1027.2 554.77V571.05M1020.2 554.77h14M1020.2 571.05h14" stroke="#222" stroke-width="2.0" fill="none"/><polyline fill="none" stroke="#000" stroke-width="2.7" points="735.6,742.01 808.5,683.86 881.4,632.69 954.3,600.12 1027.2,562.91"/><path d="M729.4 742.01a6.2 6.2 0 1 0 12.4 0a6.2 6.2 0 1 0 -12.4 0M802.3 683.86a6.2 6.2 0 1 0 12.4 0a6.2 6.2 0 1 0 -12.4 0M875.2 632.69a6.2 6.2 0 1 0 12.4 0a6.2 6.2 0 1 0 -12.4 0M948.1 600.12a6.2 6.2 0 1 0 12.4 0a6.2 6.2 0 1 0 -12.4 0M1021 562.91a6.2 6.2 0 1 0 12.4 0a6.2 6.2 0 1 0 -12.4 0" fill="#000"/><line x1="687.4" y1="489.8" x2="687.4" y2="805.65" stroke="#000" stroke-width="2.8"/><line x1="686" y1="804.2" x2="1078.8" y2="804.2" stroke="#000" stroke-width="2.9"/><line x1="677.9" y1="745.5" x2="687.4" y2="745.5" stroke="#000" stroke-width="2.6"/><text transform="matrix(1 0 0 1.04 671.1 757.1)" font-size="40.5" text-anchor="end">0.00</text><line x1="677.9" y1="629.2" x2="687.4" y2="629.2" stroke="#000" stroke-width="2.6"/><text transform="matrix(1 0 0 1.04 671.1 640.8)" font-size="40.5" text-anchor="end">0.01</text><line x1="677.9" y1="512.9" x2="687.4" y2="512.9" stroke="#000" stroke-width="2.6"/><text transform="matrix(1 0 0 1.04 671.1 524.5)" font-size="40.5" text-anchor="end">0.02</text><line x1="735.6" y1="804.2" x2="735.6" y2="813.7" stroke="#000" stroke-width="2.6"/><text transform="matrix(1 0 0 1.04 735.6 845.8)" font-size="40.5" text-anchor="middle">0</text><line x1="808.5" y1="804.2" x2="808.5" y2="813.7" stroke="#000" stroke-width="2.6"/><text transform="matrix(1 0 0 1.04 808.5 845.8)" font-size="40.5" text-anchor="middle">1</text><line x1="881.4" y1="804.2" x2="881.4" y2="813.7" stroke="#000" stroke-width="2.6"/><text transform="matrix(1 0 0 1.04 881.4 845.8)" font-size="40.5" text-anchor="middle">2</text><line x1="954.3" y1="804.2" x2="954.3" y2="813.7" stroke="#000" stroke-width="2.6"/><text transform="matrix(1 0 0 1.04 954.3 845.8)" font-size="40.5" text-anchor="middle">3</text><line x1="1027.2" y1="804.2" x2="1027.2" y2="813.7" stroke="#000" stroke-width="2.6"/><text transform="matrix(1 0 0 1.04 1027.2 845.8)" font-size="40.5" text-anchor="middle">4</text><text transform="matrix(1 0 0 1.04 809.2 880)" font-size="40.1">Time (s)</text><text transform="translate(575.8,748.8) rotate(-90) scale(1,1.0)" font-size="39.0">ΔF/ΔF</text><text transform="translate(584.4,634.62) rotate(-90) scale(1.035,1)" font-size="28.0">NH4Cl</text><polyline fill="none" stroke="#f00" stroke-width="2.7" points="1270,736 1343.2,715.47 1416.4,708.1 1489.6,661.77 1562.8,647.55"/><path d="M1263.9 736a6.1 6.1 0 1 0 12.2 0a6.1 6.1 0 1 0 -12.2 0M1337.1 715.47a6.1 6.1 0 1 0 12.2 0a6.1 6.1 0 1 0 -12.2 0M1410.3 708.1a6.1 6.1 0 1 0 12.2 0a6.1 6.1 0 1 0 -12.2 0M1483.5 661.77a6.1 6.1 0 1 0 12.2 0a6.1 6.1 0 1 0 -12.2 0M1556.7 647.55a6.1 6.1 0 1 0 12.2 0a6.1 6.1 0 1 0 -12.2 0" fill="#f00"/><path d="M1562.8 533.46V546.83M1555.8 533.46h14M1555.8 546.83h14" stroke="#222" stroke-width="2.0" fill="none"/><polyline fill="none" stroke="#000" stroke-width="2.7" points="1270,739.69 1343.2,712.31 1416.4,644.92 1489.6,582.27 1562.8,540.15"/><path d="M1263.9 739.69a6.1 6.1 0 1 0 12.2 0a6.1 6.1 0 1 0 -12.2 0M1337.1 712.31a6.1 6.1 0 1 0 12.2 0a6.1 6.1 0 1 0 -12.2 0M1410.3 644.92a6.1 6.1 0 1 0 12.2 0a6.1 6.1 0 1 0 -12.2 0M1483.5 582.27a6.1 6.1 0 1 0 12.2 0a6.1 6.1 0 1 0 -12.2 0M1556.7 540.15a6.1 6.1 0 1 0 12.2 0a6.1 6.1 0 1 0 -12.2 0" fill="#000"/><line x1="1222.9" y1="489.5" x2="1222.9" y2="806.05" stroke="#000" stroke-width="2.8"/><line x1="1221.5" y1="804.6" x2="1612" y2="804.6" stroke="#000" stroke-width="2.9"/><line x1="1213.4" y1="751.8" x2="1222.9" y2="751.8" stroke="#000" stroke-width="2.6"/><text transform="matrix(1 0 0 1.04 1206 763.4)" font-size="40.5" text-anchor="end">0.00</text><line x1="1213.4" y1="646.5" x2="1222.9" y2="646.5" stroke="#000" stroke-width="2.6"/><text transform="matrix(1 0 0 1.04 1206 658.1)" font-size="40.5" text-anchor="end">0.02</text><line x1="1213.4" y1="541.2" x2="1222.9" y2="541.2" stroke="#000" stroke-width="2.6"/><text transform="matrix(1 0 0 1.04 1206 552.8)" font-size="40.5" text-anchor="end">0.04</text><line x1="1270" y1="804.6" x2="1270" y2="814.1" stroke="#000" stroke-width="2.6"/><text transform="matrix(1 0 0 1.04 1270 845.8)" font-size="40.5" text-anchor="middle">0</text><line x1="1343.2" y1="804.6" x2="1343.2" y2="814.1" stroke="#000" stroke-width="2.6"/><text transform="matrix(1 0 0 1.04 1343.2 845.8)" font-size="40.5" text-anchor="middle">1</text><line x1="1416.4" y1="804.6" x2="1416.4" y2="814.1" stroke="#000" stroke-width="2.6"/><text transform="matrix(1 0 0 1.04 1416.4 845.8)" font-size="40.5" text-anchor="middle">2</text><line x1="1489.6" y1="804.6" x2="1489.6" y2="814.1" stroke="#000" stroke-width="2.6"/><text transform="matrix(1 0 0 1.04 1489.6 845.8)" font-size="40.5" text-anchor="middle">3</text><line x1="1562.8" y1="804.6" x2="1562.8" y2="814.1" stroke="#000" stroke-width="2.6"/><text transform="matrix(1 0 0 1.04 1562.8 845.8)" font-size="40.5" text-anchor="middle">4</text><text transform="matrix(1 0 0 1.04 1344.2 884)" font-size="40.1">Time (s)</text><text transform="translate(1110.1,748.8) rotate(-90) scale(1,1.0)" font-size="39.0">ΔF/ΔF</text><text transform="translate(1118.7,634.62) rotate(-90) scale(1.035,1)" font-size="28.0">NH4Cl</text><text transform="translate(1434.34,636.46) rotate(-90) scale(1,1.0)" font-size="34.8" letter-spacing="2.16" stroke="#000" stroke-width="0.7">****</text><text transform="translate(1505.74,572.86) rotate(-90) scale(1,1.0)" font-size="34.8" letter-spacing="2.16" stroke="#000" stroke-width="0.7">****</text><text transform="translate(1580.63,529.76) rotate(-90) scale(1,1.0)" font-size="34.8" letter-spacing="2.16" stroke="#000" stroke-width="0.7">****</text><path d="M2083.5 680.85V695.13M2076.5 680.85h14M2076.5 695.13h14" stroke="#f00" stroke-width="2.0" fill="none"/><polyline fill="none" stroke="#f00" stroke-width="2.7" points="1790.7,773.1 1863.9,748.54 1937.1,735.97 2010.3,706.27 2083.5,687.99"/><path d="M1784.6 773.1a6.1 6.1 0 1 0 12.2 0a6.1 6.1 0 1 0 -12.2 0M1857.8 748.54a6.1 6.1 0 1 0 12.2 0a6.1 6.1 0 1 0 -12.2 0M1931 735.97a6.1 6.1 0 1 0 12.2 0a6.1 6.1 0 1 0 -12.2 0M2004.2 706.27a6.1 6.1 0 1 0 12.2 0a6.1 6.1 0 1 0 -12.2 0M2077.4 687.99a6.1 6.1 0 1 0 12.2 0a6.1 6.1 0 1 0 -12.2 0" fill="#f00"/><path d="M1937.1 653.72V663.43M1930.1 653.72h14M1930.1 663.43h14M2010.3 593.46V604.31M2003.3 593.46h14M2003.3 604.31h14M2083.5 534.34V547.48M2076.5 534.34h14M2076.5 547.48h14" stroke="#222" stroke-width="2.0" fill="none"/><polyline fill="none" stroke="#000" stroke-width="2.7" points="1790.7,764.53 1863.9,707.98 1937.1,658.58 2010.3,598.88 2083.5,540.91"/><path d="M1784.6 764.53a6.1 6.1 0 1 0 12.2 0a6.1 6.1 0 1 0 -12.2 0M1857.8 707.98a6.1 6.1 0 1 0 12.2 0a6.1 6.1 0 1 0 -12.2 0M1931 658.58a6.1 6.1 0 1 0 12.2 0a6.1 6.1 0 1 0 -12.2 0M2004.2 598.88a6.1 6.1 0 1 0 12.2 0a6.1 6.1 0 1 0 -12.2 0M2077.4 540.91a6.1 6.1 0 1 0 12.2 0a6.1 6.1 0 1 0 -12.2 0" fill="#000"/><line x1="1743.2" y1="489.5" x2="1743.2" y2="805.25" stroke="#000" stroke-width="2.8"/><line x1="1741.8" y1="803.8" x2="2133.8" y2="803.8" stroke="#000" stroke-width="2.9"/><line x1="1733.7" y1="775.1" x2="1743.2" y2="775.1" stroke="#000" stroke-width="2.6"/><text transform="matrix(1 0 0 1.04 1727.5 786.7)" font-size="40.5" text-anchor="end">0.00</text><line x1="1733.7" y1="632.3" x2="1743.2" y2="632.3" stroke="#000" stroke-width="2.6"/><text transform="matrix(1 0 0 1.04 1727.5 643.9)" font-size="40.5" text-anchor="end">0.05</text><line x1="1733.7" y1="489.5" x2="1743.2" y2="489.5" stroke="#000" stroke-width="2.6"/><text transform="matrix(1 0 0 1.04 1727.5 501.1)" font-size="40.5" text-anchor="end">0.10</text><line x1="1790.7" y1="803.8" x2="1790.7" y2="813.3" stroke="#000" stroke-width="2.6"/><text transform="matrix(1 0 0 1.04 1790.7 845.5)" font-size="40.5" text-anchor="middle">0</text><line x1="1863.9" y1="803.8" x2="1863.9" y2="813.3" stroke="#000" stroke-width="2.6"/><text transform="matrix(1 0 0 1.04 1863.9 845.5)" font-size="40.5" text-anchor="middle">1</text><line x1="1937.1" y1="803.8" x2="1937.1" y2="813.3" stroke="#000" stroke-width="2.6"/><text transform="matrix(1 0 0 1.04 1937.1 845.5)" font-size="40.5" text-anchor="middle">2</text><line x1="2010.3" y1="803.8" x2="2010.3" y2="813.3" stroke="#000" stroke-width="2.6"/><text transform="matrix(1 0 0 1.04 2010.3 845.5)" font-size="40.5" text-anchor="middle">3</text><line x1="2083.5" y1="803.8" x2="2083.5" y2="813.3" stroke="#000" stroke-width="2.6"/><text transform="matrix(1 0 0 1.04 2083.5 845.5)" font-size="40.5" text-anchor="middle">4</text><text transform="matrix(1 0 0 1.04 1866.2 883.3)" font-size="40.1">Time (s)</text><text transform="translate(1630.3,748.8) rotate(-90) scale(1,1.0)" font-size="39.0">ΔF/ΔF</text><text transform="translate(1638.9,634.62) rotate(-90) scale(1.035,1)" font-size="28.0">NH4Cl</text><text transform="translate(1880.63,695.46) rotate(-90) scale(1,1.0)" font-size="34.8" letter-spacing="2.16" stroke="#000" stroke-width="0.7">****</text><text transform="translate(1956.54,645.16) rotate(-90) scale(1,1.0)" font-size="34.8" letter-spacing="2.16" stroke="#000" stroke-width="0.7">****</text><text transform="translate(2030.43,587.16) rotate(-90) scale(1,1.0)" font-size="34.8" letter-spacing="2.16" stroke="#000" stroke-width="0.7">****</text><text transform="translate(2103.64,533.06) rotate(-90) scale(1,1.0)" font-size="34.8" letter-spacing="2.16" stroke="#000" stroke-width="0.7">****</text><text transform="matrix(1 0 0 1.0 18.9 920.6)" font-size="48" font-weight="bold">b</text><text transform="matrix(1 0 0 1.0 638.6 937)" font-size="48" font-weight="bold">c</text><path d="M204 1087.71V1109.5M195.4 1087.71h17.2M195.4 1109.5h17.2" stroke="#f00" stroke-width="2.0" fill="none"/><polyline fill="none" stroke="#f00" stroke-width="2.7" points="204,1098.61 237.74,1155.13 338.98,1161.94 507.7,1178.96"/><path d="M196 1098.61a8.0 8.0 0 1 0 16 0a8.0 8.0 0 1 0 -16 0M229.74 1155.13a8.0 8.0 0 1 0 16 0a8.0 8.0 0 1 0 -16 0M330.98 1161.94a8.0 8.0 0 1 0 16 0a8.0 8.0 0 1 0 -16 0M499.7 1178.96a8.0 8.0 0 1 0 16 0a8.0 8.0 0 1 0 -16 0" fill="#f00"/><path d="M204 1096.15V1129.93M195.4 1096.15h17.2M195.4 1129.93h17.2M507.7 1022.33V1046.17M499.1 1022.33h17.2M499.1 1046.17h17.2" stroke="#111" stroke-width="2.0" fill="none"/><polyline fill="none" stroke="#000" stroke-width="2.7" points="204,1113.04 237.74,1108.82 338.98,1077.49 507.7,1034.25"/><path d="M196 1113.04a8.0 8.0 0 1 0 16 0a8.0 8.0 0 1 0 -16 0M229.74 1108.82a8.0 8.0 0 1 0 16 0a8.0 8.0 0 1 0 -16 0M330.98 1077.49a8.0 8.0 0 1 0 16 0a8.0 8.0 0 1 0 -16 0M499.7 1034.25a8.0 8.0 0 1 0 16 0a8.0 8.0 0 1 0 -16 0" fill="#000"/><line x1="172" y1="958.8" x2="172" y2="1300.95" stroke="#000" stroke-width="2.8"/><line x1="170.6" y1="1299.5" x2="508.2" y2="1299.5" stroke="#000" stroke-width="2.9"/><line x1="162.5" y1="1299.5" x2="172" y2="1299.5" stroke="#000" stroke-width="2.6"/><text transform="matrix(1 0 0 1.04 154.2 1311.1)" font-size="40.5" text-anchor="end">0</text><line x1="162.5" y1="1231.4" x2="172" y2="1231.4" stroke="#000" stroke-width="2.6"/><text transform="matrix(1 0 0 1.04 154.2 1243)" font-size="40.5" text-anchor="end">1</text><line x1="162.5" y1="1163.3" x2="172" y2="1163.3" stroke="#000" stroke-width="2.6"/><text transform="matrix(1 0 0 1.04 154.2 1174.9)" font-size="40.5" text-anchor="end">2</text><line x1="162.5" y1="1095.2" x2="172" y2="1095.2" stroke="#000" stroke-width="2.6"/><text transform="matrix(1 0 0 1.04 154.2 1106.8)" font-size="40.5" text-anchor="end">3</text><line x1="162.5" y1="1027.1" x2="172" y2="1027.1" stroke="#000" stroke-width="2.6"/><text transform="matrix(1 0 0 1.04 154.2 1038.7)" font-size="40.5" text-anchor="end">4</text><line x1="162.5" y1="959" x2="172" y2="959" stroke="#000" stroke-width="2.6"/><text transform="matrix(1 0 0 1.04 154.2 970.6)" font-size="40.5" text-anchor="end">5</text><line x1="204" y1="1299.5" x2="204" y2="1309" stroke="#000" stroke-width="2.6"/><text transform="matrix(1 0 0 1.04 204 1340.5)" font-size="40.5" text-anchor="middle">5</text><line x1="237.74" y1="1299.5" x2="237.74" y2="1309" stroke="#000" stroke-width="2.6"/><text transform="matrix(1 0 0 1.04 237.74 1340.5)" font-size="40.5" text-anchor="middle">10</text><line x1="338.98" y1="1299.5" x2="338.98" y2="1309" stroke="#000" stroke-width="2.6"/><text transform="matrix(1 0 0 1.04 338.98 1340.5)" font-size="40.5" text-anchor="middle">25</text><line x1="507.7" y1="1299.5" x2="507.7" y2="1309" stroke="#000" stroke-width="2.6"/><text transform="matrix(1 0 0 1.04 507.7 1340.5)" font-size="40.5" text-anchor="middle">50 Hz</text><text transform="translate(258.03,1092.86) rotate(-90) scale(1,1.0)" font-size="34.8" letter-spacing="5.46" stroke="#000" stroke-width="0.7">*</text><text transform="translate(358.33,1062.26) rotate(-90) scale(1,1.0)" font-size="34.8" letter-spacing="5.46" stroke="#000" stroke-width="0.7">****</text><text transform="translate(528.94,1016.06) rotate(-90) scale(1,1.0)" font-size="34.8" letter-spacing="5.46" stroke="#000" stroke-width="0.7">****</text><polyline fill="none" stroke="#f00" stroke-width="2.7" points="771.97,1080.16 805.43,1109.62 905.83,1160.61 1073.15,1154.94"/><path d="M763.97 1080.16a8.0 8.0 0 1 0 16 0a8.0 8.0 0 1 0 -16 0M797.43 1109.62a8.0 8.0 0 1 0 16 0a8.0 8.0 0 1 0 -16 0M897.83 1160.61a8.0 8.0 0 1 0 16 0a8.0 8.0 0 1 0 -16 0M1065.15 1154.94a8.0 8.0 0 1 0 16 0a8.0 8.0 0 1 0 -16 0" fill="#f00"/><path d="M1073.15 976.61V996.32M1064.95 976.61h16.4M1064.95 996.32h16.4" stroke="#111" stroke-width="2.0" fill="none"/><polyline fill="none" stroke="#000" stroke-width="2.7" points="771.97,1073.37 805.43,1074.27 905.83,1059.09 1073.15,986.46"/><path d="M763.97 1073.37a8.0 8.0 0 1 0 16 0a8.0 8.0 0 1 0 -16 0M797.43 1074.27a8.0 8.0 0 1 0 16 0a8.0 8.0 0 1 0 -16 0M897.83 1059.09a8.0 8.0 0 1 0 16 0a8.0 8.0 0 1 0 -16 0M1065.15 986.46a8.0 8.0 0 1 0 16 0a8.0 8.0 0 1 0 -16 0" fill="#000"/><line x1="739.4" y1="957.8" x2="739.4" y2="1299.15" stroke="#000" stroke-width="2.8"/><line x1="738" y1="1297.7" x2="1073.8" y2="1297.7" stroke="#000" stroke-width="2.9"/><line x1="729.9" y1="1297.7" x2="739.4" y2="1297.7" stroke="#000" stroke-width="2.6"/><text transform="matrix(1 0 0 1.04 729.4 1309.3)" font-size="40.5" text-anchor="end">0.0</text><line x1="729.9" y1="1184.4" x2="739.4" y2="1184.4" stroke="#000" stroke-width="2.6"/><text transform="matrix(1 0 0 1.04 729.4 1196)" font-size="40.5" text-anchor="end">0.1</text><line x1="729.9" y1="1071.1" x2="739.4" y2="1071.1" stroke="#000" stroke-width="2.6"/><text transform="matrix(1 0 0 1.04 729.4 1082.7)" font-size="40.5" text-anchor="end">0.2</text><line x1="729.9" y1="957.8" x2="739.4" y2="957.8" stroke="#000" stroke-width="2.6"/><text transform="matrix(1 0 0 1.04 729.4 969.4)" font-size="40.5" text-anchor="end">0.3</text><line x1="771.97" y1="1297.7" x2="771.97" y2="1307.2" stroke="#000" stroke-width="2.6"/><text transform="matrix(1 0 0 1.04 771.97 1340.5)" font-size="40.5" text-anchor="middle">5</text><line x1="805.43" y1="1297.7" x2="805.43" y2="1307.2" stroke="#000" stroke-width="2.6"/><text transform="matrix(1 0 0 1.04 805.43 1340.5)" font-size="40.5" text-anchor="middle">10</text><line x1="905.83" y1="1297.7" x2="905.83" y2="1307.2" stroke="#000" stroke-width="2.6"/><text transform="matrix(1 0 0 1.04 905.83 1340.5)" font-size="40.5" text-anchor="middle">25</text><line x1="1073.15" y1="1297.7" x2="1073.15" y2="1307.2" stroke="#000" stroke-width="2.6"/><text transform="matrix(1 0 0 1.04 1073.15 1340.5)" font-size="40.5" text-anchor="middle">50 Hz</text><text transform="translate(825.44,1063.06) rotate(-90) scale(1,1.0)" font-size="34.8" letter-spacing="4.76" stroke="#000" stroke-width="0.7">**</text><text transform="translate(923.54,1047.36) rotate(-90) scale(1,1.0)" font-size="34.8" letter-spacing="4.76" stroke="#000" stroke-width="0.7">****</text><text transform="translate(1091.34,971.36) rotate(-90) scale(1,1.0)" font-size="34.8" letter-spacing="4.76" stroke="#000" stroke-width="0.7">****</text><text transform="translate(65.5,1250.8) rotate(-90) scale(1,1.04)" font-size="40">Initial rate/AP</text><text transform="translate(121.3,1323) rotate(-90) scale(1,1.04)" font-size="40">(ΔF/ΔF<tspan font-size="28.5" dy="8.5">NH4Cl</tspan><tspan dy="-8.5">s</tspan><tspan font-size="28.5" dy="-18">-1</tspan><tspan dy="18"> x 10</tspan><tspan font-size="28.5" dy="-18">-4</tspan><tspan dy="18">)</tspan></text><text transform="translate(668.1,1298) rotate(-90) scale(1,1.04)" font-size="39.5">Recycling pool size</text></g></svg>
</body></html>
